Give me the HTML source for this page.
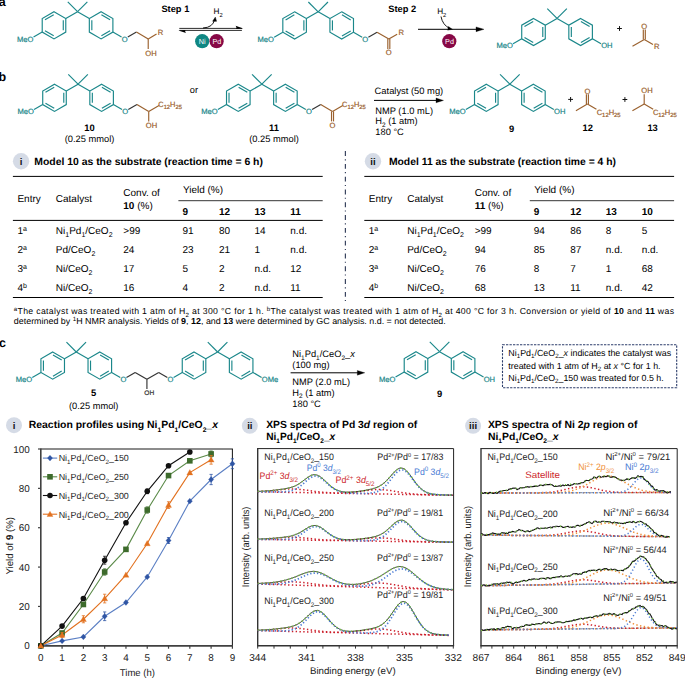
<!DOCTYPE html>
<html><head><meta charset="utf-8"><style>
html,body{margin:0;padding:0;background:#fff;}
svg{display:block;font-family:"Liberation Sans", sans-serif;text-rendering:geometricPrecision;}
</style></head><body>
<svg width="685" height="678" viewBox="0 0 685 678">
<rect width="685" height="678" fill="#fff"/>
<text transform="translate(-1.30,6.40) scale(1,1.0)" font-size="12.5" fill="#000" font-weight="bold">a</text>
<path d="M54.00,11.70 L65.78,18.50 L65.78,32.10 L54.00,38.90 L42.22,32.10 L42.22,18.50Z" stroke="#1a878a" stroke-width="1.15" fill="none" stroke-linejoin="miter"/>
<line x1="45.00" y1="19.78" x2="53.72" y2="14.75" stroke="#1a878a" stroke-width="1.15" />
<line x1="63.28" y1="20.27" x2="63.28" y2="30.33" stroke="#1a878a" stroke-width="1.15" />
<line x1="53.72" y1="35.85" x2="45.00" y2="30.82" stroke="#1a878a" stroke-width="1.15" />
<path d="M101.11,11.70 L112.89,18.50 L112.89,32.10 L101.11,38.90 L89.33,32.10 L89.33,18.50Z" stroke="#1a878a" stroke-width="1.15" fill="none" stroke-linejoin="miter"/>
<line x1="101.39" y1="14.75" x2="110.11" y2="19.78" stroke="#1a878a" stroke-width="1.15" />
<line x1="91.83" y1="30.33" x2="91.83" y2="20.27" stroke="#1a878a" stroke-width="1.15" />
<line x1="110.11" y1="30.82" x2="101.39" y2="35.85" stroke="#1a878a" stroke-width="1.15" />
<line x1="65.78" y1="18.50" x2="77.56" y2="11.70" stroke="#1a878a" stroke-width="1.15" />
<line x1="77.56" y1="11.70" x2="89.33" y2="18.50" stroke="#1a878a" stroke-width="1.15" />
<line x1="77.56" y1="11.70" x2="67.76" y2="1.91" stroke="#1a878a" stroke-width="1.15" />
<line x1="77.56" y1="11.70" x2="87.35" y2="1.91" stroke="#1a878a" stroke-width="1.15" />
<line x1="42.22" y1="32.10" x2="33.56" y2="37.10" stroke="#1a878a" stroke-width="1.15" />
<text transform="translate(33.40,41.64) scale(1,1.0)" font-size="7.6" fill="#1a878a" stroke="#1a878a" stroke-width="0.2" text-anchor="end">MeO</text>
<line x1="112.89" y1="32.10" x2="121.55" y2="37.10" stroke="#1a878a" stroke-width="1.15" />
<text transform="translate(124.67,41.64) scale(1,1.0)" font-size="7.6" fill="#1a878a" stroke="#1a878a" stroke-width="0.2" text-anchor="middle">O</text>
<line x1="127.79" y1="37.10" x2="136.45" y2="32.10" stroke="#333333" stroke-width="1.15" />
<line x1="136.45" y1="32.10" x2="148.22" y2="38.90" stroke="#9a602d" stroke-width="1.15" />
<line x1="148.22" y1="38.90" x2="156.54" y2="34.10" stroke="#9a602d" stroke-width="1.15" />
<text transform="translate(160.60,34.84) scale(1,1.0)" font-size="7.6" fill="#9a602d" stroke="#9a602d" stroke-width="0.2" text-anchor="middle">R</text>
<line x1="148.22" y1="38.90" x2="148.22" y2="48.90" stroke="#9a602d" stroke-width="1.15" />
<text transform="translate(145.27,55.54) scale(1,1.0)" font-size="7.6" fill="#9a602d" stroke="#9a602d" stroke-width="0.2">OH</text>
<path d="M294.60,11.80 L306.38,18.60 L306.38,32.20 L294.60,39.00 L282.82,32.20 L282.82,18.60Z" stroke="#1a878a" stroke-width="1.15" fill="none" stroke-linejoin="miter"/>
<line x1="285.60" y1="19.88" x2="294.32" y2="14.85" stroke="#1a878a" stroke-width="1.15" />
<line x1="303.88" y1="20.37" x2="303.88" y2="30.43" stroke="#1a878a" stroke-width="1.15" />
<line x1="294.32" y1="35.95" x2="285.60" y2="30.92" stroke="#1a878a" stroke-width="1.15" />
<path d="M341.71,11.80 L353.49,18.60 L353.49,32.20 L341.71,39.00 L329.93,32.20 L329.93,18.60Z" stroke="#1a878a" stroke-width="1.15" fill="none" stroke-linejoin="miter"/>
<line x1="341.99" y1="14.85" x2="350.71" y2="19.88" stroke="#1a878a" stroke-width="1.15" />
<line x1="332.43" y1="30.43" x2="332.43" y2="20.37" stroke="#1a878a" stroke-width="1.15" />
<line x1="350.71" y1="30.92" x2="341.99" y2="35.95" stroke="#1a878a" stroke-width="1.15" />
<line x1="306.38" y1="18.60" x2="318.16" y2="11.80" stroke="#1a878a" stroke-width="1.15" />
<line x1="318.16" y1="11.80" x2="329.93" y2="18.60" stroke="#1a878a" stroke-width="1.15" />
<line x1="318.16" y1="11.80" x2="308.36" y2="2.01" stroke="#1a878a" stroke-width="1.15" />
<line x1="318.16" y1="11.80" x2="327.95" y2="2.01" stroke="#1a878a" stroke-width="1.15" />
<line x1="282.82" y1="32.20" x2="274.16" y2="37.20" stroke="#1a878a" stroke-width="1.15" />
<text transform="translate(274.00,41.74) scale(1,1.0)" font-size="7.6" fill="#1a878a" stroke="#1a878a" stroke-width="0.2" text-anchor="end">MeO</text>
<line x1="353.49" y1="32.20" x2="362.15" y2="37.20" stroke="#1a878a" stroke-width="1.15" />
<text transform="translate(365.27,41.74) scale(1,1.0)" font-size="7.6" fill="#1a878a" stroke="#1a878a" stroke-width="0.2" text-anchor="middle">O</text>
<line x1="368.39" y1="37.20" x2="377.05" y2="32.20" stroke="#333333" stroke-width="1.15" />
<line x1="377.05" y1="32.20" x2="388.82" y2="39.00" stroke="#9a602d" stroke-width="1.15" />
<line x1="388.82" y1="39.00" x2="397.14" y2="34.20" stroke="#9a602d" stroke-width="1.15" />
<text transform="translate(401.20,34.94) scale(1,1.0)" font-size="7.6" fill="#9a602d" stroke="#9a602d" stroke-width="0.2" text-anchor="middle">R</text>
<line x1="387.82" y1="39.00" x2="387.82" y2="49.00" stroke="#9a602d" stroke-width="1.15" />
<line x1="389.82" y1="39.00" x2="389.82" y2="49.00" stroke="#9a602d" stroke-width="1.15" />
<text transform="translate(388.82,55.34) scale(1,1.0)" font-size="7.6" fill="#9a602d" stroke="#9a602d" stroke-width="0.2" text-anchor="middle">O</text>
<text transform="translate(161.40,11.80) scale(1,1.0)" font-size="9.3" fill="#000" font-weight="bold">Step 1</text>
<text transform="translate(388.30,11.80) scale(1,1.0)" font-size="9.3" fill="#000" font-weight="bold">Step 2</text>
<line x1="179.30" y1="28.40" x2="242.00" y2="28.40" stroke="#222" stroke-width="0.95" />
<path d="M243.2,28.4 L235.6,25.7 Q236.9,27.2 236.2,28.9 Z" fill="#000"/>
<line x1="179.50" y1="30.40" x2="241.90" y2="30.40" stroke="#222" stroke-width="0.95" />
<path d="M178.4,30.4 L186.0,33.1 Q184.7,31.6 185.4,29.9 Z" fill="#000"/>
<path d="M203,28 Q213,27.5 214.6,19.5" stroke="#000" stroke-width="0.9" fill="none"/>
<path d="M215.30,17.20 L212.70,21.20 L216.50,21.30Z" stroke="#000" stroke-width="0.5" fill="#000" />
<text transform="translate(213.60,14.20) scale(1,1.0)" font-size="8.2" fill="#000">H<tspan dy="2.46" font-size="5.74">2</tspan></text>
<circle cx="202.20" cy="41.20" r="7.10" fill="#0f8783" stroke="none" stroke-width="1" />
<circle cx="216.60" cy="41.20" r="7.10" fill="#870846" stroke="none" stroke-width="1" />
<text transform="translate(202.20,43.80) scale(1,1.0)" font-size="7.2" fill="#fff" text-anchor="middle">Ni</text>
<text transform="translate(216.80,43.80) scale(1,1.0)" font-size="7.2" fill="#fff" text-anchor="middle">Pd</text>
<line x1="418.00" y1="29.30" x2="477.00" y2="29.30" stroke="#000" stroke-width="1.0" />
<path d="M484.00,29.30 L476.00,26.90 L476.00,31.70Z" stroke="#000" stroke-width="0.3" fill="#000" />
<path d="M441,16.5 Q442.5,25 450,28.6" stroke="#000" stroke-width="0.9" fill="none"/>
<path d="M452.50,29.30 L448.30,26.40 L447.70,30.20Z" stroke="#000" stroke-width="0.3" fill="#000" />
<text transform="translate(437.20,14.20) scale(1,1.0)" font-size="8.2" fill="#000">H<tspan dy="2.46" font-size="5.74">2</tspan></text>
<circle cx="449.30" cy="41.20" r="7.10" fill="#870846" stroke="none" stroke-width="1" />
<text transform="translate(449.50,43.80) scale(1,1.0)" font-size="7.2" fill="#fff" text-anchor="middle">Pd</text>
<path d="M533.50,18.40 L545.28,25.20 L545.28,38.80 L533.50,45.60 L521.72,38.80 L521.72,25.20Z" stroke="#1a878a" stroke-width="1.15" fill="none" stroke-linejoin="miter"/>
<line x1="524.50" y1="26.48" x2="533.22" y2="21.45" stroke="#1a878a" stroke-width="1.15" />
<line x1="542.78" y1="26.97" x2="542.78" y2="37.03" stroke="#1a878a" stroke-width="1.15" />
<line x1="533.22" y1="42.55" x2="524.50" y2="37.52" stroke="#1a878a" stroke-width="1.15" />
<path d="M580.61,18.40 L592.39,25.20 L592.39,38.80 L580.61,45.60 L568.83,38.80 L568.83,25.20Z" stroke="#1a878a" stroke-width="1.15" fill="none" stroke-linejoin="miter"/>
<line x1="580.89" y1="21.45" x2="589.61" y2="26.48" stroke="#1a878a" stroke-width="1.15" />
<line x1="571.33" y1="37.03" x2="571.33" y2="26.97" stroke="#1a878a" stroke-width="1.15" />
<line x1="589.61" y1="37.52" x2="580.89" y2="42.55" stroke="#1a878a" stroke-width="1.15" />
<line x1="545.28" y1="25.20" x2="557.06" y2="18.40" stroke="#1a878a" stroke-width="1.15" />
<line x1="557.06" y1="18.40" x2="568.83" y2="25.20" stroke="#1a878a" stroke-width="1.15" />
<line x1="557.06" y1="18.40" x2="547.26" y2="8.61" stroke="#1a878a" stroke-width="1.15" />
<line x1="557.06" y1="18.40" x2="566.85" y2="8.61" stroke="#1a878a" stroke-width="1.15" />
<line x1="521.72" y1="38.80" x2="513.06" y2="43.80" stroke="#1a878a" stroke-width="1.15" />
<text transform="translate(512.90,48.34) scale(1,1.0)" font-size="7.6" fill="#1a878a" stroke="#1a878a" stroke-width="0.2" text-anchor="end">MeO</text>
<line x1="592.39" y1="38.80" x2="601.05" y2="43.80" stroke="#1a878a" stroke-width="1.15" />
<text transform="translate(601.21,48.34) scale(1,1.0)" font-size="7.6" fill="#1a878a" stroke="#1a878a" stroke-width="0.2">OH</text>
<line x1="617.10" y1="28.50" x2="621.90" y2="28.50" stroke="#111" stroke-width="1.0" />
<line x1="619.50" y1="26.10" x2="619.50" y2="30.90" stroke="#111" stroke-width="1.0" />
<line x1="632.50" y1="46.20" x2="644.30" y2="39.40" stroke="#9a602d" stroke-width="1.15" />
<line x1="644.30" y1="39.40" x2="652.98" y2="44.40" stroke="#9a602d" stroke-width="1.15" />
<line x1="643.30" y1="39.40" x2="643.30" y2="29.40" stroke="#9a602d" stroke-width="1.15" />
<line x1="645.30" y1="39.40" x2="645.30" y2="29.40" stroke="#9a602d" stroke-width="1.15" />
<text transform="translate(644.30,28.54) scale(1,1.0)" font-size="7.6" fill="#9a602d" stroke="#9a602d" stroke-width="0.2" text-anchor="middle">O</text>
<text transform="translate(656.80,49.14) scale(1,1.0)" font-size="7.6" fill="#9a602d" stroke="#9a602d" stroke-width="0.2" text-anchor="middle">R</text>
<text transform="translate(-1.50,80.70) scale(1,1.0)" font-size="12.5" fill="#000" font-weight="bold">b</text>
<path d="M54.50,84.20 L66.28,91.00 L66.28,104.60 L54.50,111.40 L42.72,104.60 L42.72,91.00Z" stroke="#1a878a" stroke-width="1.15" fill="none" stroke-linejoin="miter"/>
<line x1="45.50" y1="92.28" x2="54.22" y2="87.25" stroke="#1a878a" stroke-width="1.15" />
<line x1="63.78" y1="92.77" x2="63.78" y2="102.83" stroke="#1a878a" stroke-width="1.15" />
<line x1="54.22" y1="108.35" x2="45.50" y2="103.32" stroke="#1a878a" stroke-width="1.15" />
<path d="M101.61,84.20 L113.39,91.00 L113.39,104.60 L101.61,111.40 L89.83,104.60 L89.83,91.00Z" stroke="#1a878a" stroke-width="1.15" fill="none" stroke-linejoin="miter"/>
<line x1="101.89" y1="87.25" x2="110.61" y2="92.28" stroke="#1a878a" stroke-width="1.15" />
<line x1="92.33" y1="102.83" x2="92.33" y2="92.77" stroke="#1a878a" stroke-width="1.15" />
<line x1="110.61" y1="103.32" x2="101.89" y2="108.35" stroke="#1a878a" stroke-width="1.15" />
<line x1="66.28" y1="91.00" x2="78.06" y2="84.20" stroke="#1a878a" stroke-width="1.15" />
<line x1="78.06" y1="84.20" x2="89.83" y2="91.00" stroke="#1a878a" stroke-width="1.15" />
<line x1="78.06" y1="84.20" x2="68.26" y2="74.41" stroke="#1a878a" stroke-width="1.15" />
<line x1="78.06" y1="84.20" x2="87.85" y2="74.41" stroke="#1a878a" stroke-width="1.15" />
<line x1="42.72" y1="104.60" x2="34.06" y2="109.60" stroke="#1a878a" stroke-width="1.15" />
<text transform="translate(33.90,114.14) scale(1,1.0)" font-size="7.6" fill="#1a878a" stroke="#1a878a" stroke-width="0.2" text-anchor="end">MeO</text>
<line x1="113.39" y1="104.60" x2="122.05" y2="109.60" stroke="#1a878a" stroke-width="1.15" />
<text transform="translate(125.17,114.14) scale(1,1.0)" font-size="7.6" fill="#1a878a" stroke="#1a878a" stroke-width="0.2" text-anchor="middle">O</text>
<line x1="128.29" y1="109.60" x2="136.95" y2="104.60" stroke="#333333" stroke-width="1.15" />
<line x1="136.95" y1="104.60" x2="148.72" y2="111.40" stroke="#9a602d" stroke-width="1.15" />
<line x1="148.72" y1="111.40" x2="159.00" y2="105.50" stroke="#9a602d" stroke-width="1.15" />
<text transform="translate(158.30,107.20) scale(1,1.0)" font-size="7.6" fill="#9a602d" stroke="#9a602d" stroke-width="0.2" textLength="23.60" lengthAdjust="spacingAndGlyphs">C<tspan dy="1.90" font-size="5.93">12</tspan><tspan dy="-1.90">H</tspan><tspan dy="1.90" font-size="5.93">25</tspan></text>
<line x1="148.72" y1="111.40" x2="148.72" y2="121.40" stroke="#9a602d" stroke-width="1.15" />
<text transform="translate(145.77,128.04) scale(1,1.0)" font-size="7.6" fill="#9a602d" stroke="#9a602d" stroke-width="0.2">OH</text>
<text transform="translate(194.00,93.20) scale(1,1.0)" font-size="9.3" fill="#000" text-anchor="middle">or</text>
<path d="M238.30,84.20 L250.08,91.00 L250.08,104.60 L238.30,111.40 L226.52,104.60 L226.52,91.00Z" stroke="#1a878a" stroke-width="1.15" fill="none" stroke-linejoin="miter"/>
<line x1="238.58" y1="87.25" x2="247.30" y2="92.28" stroke="#1a878a" stroke-width="1.15" />
<line x1="229.02" y1="102.83" x2="229.02" y2="92.77" stroke="#1a878a" stroke-width="1.15" />
<line x1="247.30" y1="103.32" x2="238.58" y2="108.35" stroke="#1a878a" stroke-width="1.15" />
<path d="M285.41,84.20 L297.19,91.00 L297.19,104.60 L285.41,111.40 L273.63,104.60 L273.63,91.00Z" stroke="#1a878a" stroke-width="1.15" fill="none" stroke-linejoin="miter"/>
<line x1="285.69" y1="87.25" x2="294.41" y2="92.28" stroke="#1a878a" stroke-width="1.15" />
<line x1="276.13" y1="102.83" x2="276.13" y2="92.77" stroke="#1a878a" stroke-width="1.15" />
<line x1="294.41" y1="103.32" x2="285.69" y2="108.35" stroke="#1a878a" stroke-width="1.15" />
<line x1="250.08" y1="91.00" x2="261.86" y2="84.20" stroke="#1a878a" stroke-width="1.15" />
<line x1="261.86" y1="84.20" x2="273.63" y2="91.00" stroke="#1a878a" stroke-width="1.15" />
<line x1="261.86" y1="84.20" x2="252.06" y2="74.41" stroke="#1a878a" stroke-width="1.15" />
<line x1="261.86" y1="84.20" x2="271.65" y2="74.41" stroke="#1a878a" stroke-width="1.15" />
<line x1="226.52" y1="104.60" x2="217.86" y2="109.60" stroke="#1a878a" stroke-width="1.15" />
<text transform="translate(217.70,114.14) scale(1,1.0)" font-size="7.6" fill="#1a878a" stroke="#1a878a" stroke-width="0.2" text-anchor="end">MeO</text>
<line x1="297.19" y1="104.60" x2="305.85" y2="109.60" stroke="#1a878a" stroke-width="1.15" />
<text transform="translate(308.97,114.14) scale(1,1.0)" font-size="7.6" fill="#1a878a" stroke="#1a878a" stroke-width="0.2" text-anchor="middle">O</text>
<line x1="312.09" y1="109.60" x2="320.75" y2="104.60" stroke="#333333" stroke-width="1.15" />
<line x1="320.75" y1="104.60" x2="332.52" y2="111.40" stroke="#9a602d" stroke-width="1.15" />
<line x1="332.52" y1="111.40" x2="342.80" y2="105.50" stroke="#9a602d" stroke-width="1.15" />
<text transform="translate(342.10,107.20) scale(1,1.0)" font-size="7.6" fill="#9a602d" stroke="#9a602d" stroke-width="0.2" textLength="23.60" lengthAdjust="spacingAndGlyphs">C<tspan dy="1.90" font-size="5.93">12</tspan><tspan dy="-1.90">H</tspan><tspan dy="1.90" font-size="5.93">25</tspan></text>
<line x1="331.52" y1="111.40" x2="331.52" y2="121.40" stroke="#9a602d" stroke-width="1.15" />
<line x1="333.52" y1="111.40" x2="333.52" y2="121.40" stroke="#9a602d" stroke-width="1.15" />
<text transform="translate(332.52,127.74) scale(1,1.0)" font-size="7.6" fill="#9a602d" stroke="#9a602d" stroke-width="0.2" text-anchor="middle">O</text>
<text transform="translate(89.50,130.80) scale(1,1.0)" font-size="9.4" fill="#000" font-weight="bold" text-anchor="middle">10</text>
<text transform="translate(89.50,141.90) scale(1,1.0)" font-size="9.3" fill="#000" text-anchor="middle" textLength="49.70" lengthAdjust="spacingAndGlyphs">(0.25 mmol)</text>
<text transform="translate(274.00,130.80) scale(1,1.0)" font-size="9.4" fill="#000" font-weight="bold" text-anchor="middle">11</text>
<text transform="translate(274.00,141.90) scale(1,1.0)" font-size="9.3" fill="#000" text-anchor="middle" textLength="49.70" lengthAdjust="spacingAndGlyphs">(0.25 mmol)</text>
<text transform="translate(374.60,93.90) scale(1,1.0)" font-size="9.3" fill="#000" textLength="68.60" lengthAdjust="spacingAndGlyphs">Catalyst (50 mg)</text>
<line x1="374.00" y1="100.40" x2="437.00" y2="100.40" stroke="#000" stroke-width="1.0" />
<path d="M443.50,100.40 L436.00,98.00 L436.00,102.80Z" stroke="#000" stroke-width="0.3" fill="#000" />
<text transform="translate(375.30,113.90) scale(1,1.0)" font-size="9.3" fill="#000" textLength="57.70" lengthAdjust="spacingAndGlyphs">NMP (1.0 mL)</text>
<text transform="translate(375.30,124.40) scale(1,1.0)" font-size="9.3" fill="#000">H<tspan dy="2.42" font-size="6.51">2</tspan><tspan dy="-2.42"> (1 atm)</tspan></text>
<text transform="translate(375.30,134.60) scale(1,1.0)" font-size="9.3" fill="#000">180 °C</text>
<path d="M486.30,84.20 L498.08,91.00 L498.08,104.60 L486.30,111.40 L474.52,104.60 L474.52,91.00Z" stroke="#1a878a" stroke-width="1.15" fill="none" stroke-linejoin="miter"/>
<line x1="477.30" y1="92.28" x2="486.02" y2="87.25" stroke="#1a878a" stroke-width="1.15" />
<line x1="495.58" y1="92.77" x2="495.58" y2="102.83" stroke="#1a878a" stroke-width="1.15" />
<line x1="486.02" y1="108.35" x2="477.30" y2="103.32" stroke="#1a878a" stroke-width="1.15" />
<path d="M533.41,84.20 L545.19,91.00 L545.19,104.60 L533.41,111.40 L521.63,104.60 L521.63,91.00Z" stroke="#1a878a" stroke-width="1.15" fill="none" stroke-linejoin="miter"/>
<line x1="533.69" y1="87.25" x2="542.41" y2="92.28" stroke="#1a878a" stroke-width="1.15" />
<line x1="524.13" y1="102.83" x2="524.13" y2="92.77" stroke="#1a878a" stroke-width="1.15" />
<line x1="542.41" y1="103.32" x2="533.69" y2="108.35" stroke="#1a878a" stroke-width="1.15" />
<line x1="498.08" y1="91.00" x2="509.86" y2="84.20" stroke="#1a878a" stroke-width="1.15" />
<line x1="509.86" y1="84.20" x2="521.63" y2="91.00" stroke="#1a878a" stroke-width="1.15" />
<line x1="509.86" y1="84.20" x2="500.06" y2="74.41" stroke="#1a878a" stroke-width="1.15" />
<line x1="509.86" y1="84.20" x2="519.65" y2="74.41" stroke="#1a878a" stroke-width="1.15" />
<line x1="474.52" y1="104.60" x2="465.86" y2="109.60" stroke="#1a878a" stroke-width="1.15" />
<text transform="translate(465.70,114.14) scale(1,1.0)" font-size="7.6" fill="#1a878a" stroke="#1a878a" stroke-width="0.2" text-anchor="end">MeO</text>
<line x1="545.19" y1="104.60" x2="553.85" y2="109.60" stroke="#1a878a" stroke-width="1.15" />
<text transform="translate(554.01,114.14) scale(1,1.0)" font-size="7.6" fill="#1a878a" stroke="#1a878a" stroke-width="0.2">OH</text>
<text transform="translate(511.70,131.50) scale(1,1.0)" font-size="9.4" fill="#000" font-weight="bold" text-anchor="middle">9</text>
<line x1="568.20" y1="99.40" x2="573.00" y2="99.40" stroke="#111" stroke-width="1.0" />
<line x1="570.60" y1="97.00" x2="570.60" y2="101.80" stroke="#111" stroke-width="1.0" />
<line x1="622.50" y1="99.50" x2="627.30" y2="99.50" stroke="#111" stroke-width="1.0" />
<line x1="624.90" y1="97.10" x2="624.90" y2="101.90" stroke="#111" stroke-width="1.0" />
<line x1="575.90" y1="110.70" x2="587.40" y2="104.00" stroke="#9a602d" stroke-width="1.15" />
<line x1="587.40" y1="104.00" x2="596.40" y2="109.30" stroke="#9a602d" stroke-width="1.15" />
<line x1="586.40" y1="104.00" x2="586.40" y2="94.20" stroke="#9a602d" stroke-width="1.15" />
<line x1="588.40" y1="104.00" x2="588.40" y2="94.20" stroke="#9a602d" stroke-width="1.15" />
<text transform="translate(587.40,93.54) scale(1,1.0)" font-size="7.6" fill="#9a602d" stroke="#9a602d" stroke-width="0.2" text-anchor="middle">O</text>
<text transform="translate(596.70,114.60) scale(1,1.0)" font-size="7.6" fill="#9a602d" stroke="#9a602d" stroke-width="0.2" textLength="23.90" lengthAdjust="spacingAndGlyphs">C<tspan dy="1.90" font-size="5.93">12</tspan><tspan dy="-1.90">H</tspan><tspan dy="1.90" font-size="5.93">25</tspan></text>
<text transform="translate(587.80,131.30) scale(1,1.0)" font-size="9.4" fill="#000" font-weight="bold" text-anchor="middle">12</text>
<line x1="632.40" y1="110.70" x2="644.20" y2="104.00" stroke="#9a602d" stroke-width="1.15" />
<line x1="644.20" y1="104.00" x2="653.20" y2="109.30" stroke="#9a602d" stroke-width="1.15" />
<line x1="644.20" y1="104.00" x2="644.20" y2="94.20" stroke="#9a602d" stroke-width="1.15" />
<text transform="translate(641.24,93.34) scale(1,1.0)" font-size="7.6" fill="#9a602d" stroke="#9a602d" stroke-width="0.2">OH</text>
<text transform="translate(652.90,114.60) scale(1,1.0)" font-size="7.6" fill="#9a602d" stroke="#9a602d" stroke-width="0.2" textLength="23.90" lengthAdjust="spacingAndGlyphs">C<tspan dy="1.90" font-size="5.93">12</tspan><tspan dy="-1.90">H</tspan><tspan dy="1.90" font-size="5.93">25</tspan></text>
<text transform="translate(652.60,131.30) scale(1,1.0)" font-size="9.4" fill="#000" font-weight="bold" text-anchor="middle">13</text>
<circle cx="21.10" cy="161.30" r="8.20" fill="#d5dbe6" stroke="none" stroke-width="1" />
<text transform="translate(21.10,164.70) scale(1,1.0)" font-size="9.6" fill="#111" font-weight="bold" text-anchor="middle">i</text>
<text transform="translate(34.30,164.80) scale(1,1.0)" font-size="10.4" fill="#000" font-weight="bold" textLength="228.60" lengthAdjust="spacingAndGlyphs">Model 10 as the substrate (reaction time = 6 h)</text>
<line x1="12.90" y1="176.40" x2="322.70" y2="176.40" stroke="#000" stroke-width="1.0" />
<line x1="178.40" y1="200.70" x2="322.70" y2="200.70" stroke="#000" stroke-width="0.8" />
<line x1="12.90" y1="220.40" x2="322.70" y2="220.40" stroke="#000" stroke-width="1.0" />
<line x1="12.90" y1="297.50" x2="322.70" y2="297.50" stroke="#000" stroke-width="1.0" />
<text transform="translate(17.40,202.30) scale(1,1.0)" font-size="10.0" fill="#000">Entry</text>
<text transform="translate(55.80,202.30) scale(1,1.0)" font-size="10.0" fill="#000">Catalyst</text>
<text transform="translate(123.30,196.10) scale(1,1.0)" font-size="10.0" fill="#000">Conv. of</text>
<text transform="translate(123.30,208.50) scale(1,1.0)" font-size="10.0" fill="#000"><tspan font-weight="bold">10</tspan> (%)</text>
<text transform="translate(182.90,192.90) scale(1,1.0)" font-size="10.0" fill="#000">Yield (%)</text>
<text transform="translate(182.40,214.70) scale(1,1.0)" font-size="10.0" fill="#000" font-weight="bold">9</text>
<text transform="translate(218.90,214.70) scale(1,1.0)" font-size="10.0" fill="#000" font-weight="bold">12</text>
<text transform="translate(254.40,214.70) scale(1,1.0)" font-size="10.0" fill="#000" font-weight="bold">13</text>
<text transform="translate(290.30,214.70) scale(1,1.0)" font-size="10.0" fill="#000" font-weight="bold">11</text>
<text transform="translate(17.40,234.20) scale(1,1.0)" font-size="10.0" fill="#000">1<tspan dy="-3.40" font-size="7.00">a</tspan></text>
<text transform="translate(55.80,234.20) scale(1,1.0)" font-size="10.0" fill="#000">Ni<tspan dy="3.00" font-size="7.00">1</tspan><tspan dy="-3.00">Pd</tspan><tspan dy="3.00" font-size="7.00">1</tspan><tspan dy="-3.00">/CeO</tspan><tspan dy="3.00" font-size="7.00">2</tspan></text>
<text transform="translate(123.30,234.20) scale(1,1.0)" font-size="10.0" fill="#000">&gt;99</text>
<text transform="translate(182.40,234.20) scale(1,1.0)" font-size="10.0" fill="#000">91</text>
<text transform="translate(218.90,234.20) scale(1,1.0)" font-size="10.0" fill="#000">80</text>
<text transform="translate(254.40,234.20) scale(1,1.0)" font-size="10.0" fill="#000">14</text>
<text transform="translate(290.30,234.20) scale(1,1.0)" font-size="10.0" fill="#000">n.d.</text>
<text transform="translate(17.40,253.40) scale(1,1.0)" font-size="10.0" fill="#000">2<tspan dy="-3.40" font-size="7.00">a</tspan></text>
<text transform="translate(55.80,253.40) scale(1,1.0)" font-size="10.0" fill="#000">Pd/CeO<tspan dy="3.00" font-size="7.00">2</tspan></text>
<text transform="translate(123.30,253.40) scale(1,1.0)" font-size="10.0" fill="#000">24</text>
<text transform="translate(182.40,253.40) scale(1,1.0)" font-size="10.0" fill="#000">23</text>
<text transform="translate(218.90,253.40) scale(1,1.0)" font-size="10.0" fill="#000">21</text>
<text transform="translate(254.40,253.40) scale(1,1.0)" font-size="10.0" fill="#000">1</text>
<text transform="translate(290.30,253.40) scale(1,1.0)" font-size="10.0" fill="#000">n.d.</text>
<text transform="translate(17.40,272.30) scale(1,1.0)" font-size="10.0" fill="#000">3<tspan dy="-3.40" font-size="7.00">a</tspan></text>
<text transform="translate(55.80,272.30) scale(1,1.0)" font-size="10.0" fill="#000">Ni/CeO<tspan dy="3.00" font-size="7.00">2</tspan></text>
<text transform="translate(123.30,272.30) scale(1,1.0)" font-size="10.0" fill="#000">17</text>
<text transform="translate(182.40,272.30) scale(1,1.0)" font-size="10.0" fill="#000">5</text>
<text transform="translate(218.90,272.30) scale(1,1.0)" font-size="10.0" fill="#000">2</text>
<text transform="translate(254.40,272.30) scale(1,1.0)" font-size="10.0" fill="#000">n.d.</text>
<text transform="translate(290.30,272.30) scale(1,1.0)" font-size="10.0" fill="#000">12</text>
<text transform="translate(17.40,291.30) scale(1,1.0)" font-size="10.0" fill="#000">4<tspan dy="-3.40" font-size="7.00">b</tspan></text>
<text transform="translate(55.80,291.30) scale(1,1.0)" font-size="10.0" fill="#000">Ni/CeO<tspan dy="3.00" font-size="7.00">2</tspan></text>
<text transform="translate(123.30,291.30) scale(1,1.0)" font-size="10.0" fill="#000">16</text>
<text transform="translate(182.40,291.30) scale(1,1.0)" font-size="10.0" fill="#000">4</text>
<text transform="translate(218.90,291.30) scale(1,1.0)" font-size="10.0" fill="#000">2</text>
<text transform="translate(254.40,291.30) scale(1,1.0)" font-size="10.0" fill="#000">n.d.</text>
<text transform="translate(290.30,291.30) scale(1,1.0)" font-size="10.0" fill="#000">11</text>
<circle cx="373.00" cy="161.30" r="8.20" fill="#d5dbe6" stroke="none" stroke-width="1" />
<text transform="translate(373.00,164.70) scale(1,1.0)" font-size="9.6" fill="#111" font-weight="bold" text-anchor="middle">ii</text>
<text transform="translate(388.90,164.80) scale(1,1.0)" font-size="10.4" fill="#000" font-weight="bold" textLength="227.10" lengthAdjust="spacingAndGlyphs">Model 11 as the substrate (reaction time = 4 h)</text>
<line x1="364.30" y1="176.40" x2="674.10" y2="176.40" stroke="#000" stroke-width="1.0" />
<line x1="529.80" y1="200.70" x2="674.10" y2="200.70" stroke="#000" stroke-width="0.8" />
<line x1="364.30" y1="220.40" x2="674.10" y2="220.40" stroke="#000" stroke-width="1.0" />
<line x1="364.30" y1="297.50" x2="674.10" y2="297.50" stroke="#000" stroke-width="1.0" />
<text transform="translate(368.80,202.30) scale(1,1.0)" font-size="10.0" fill="#000">Entry</text>
<text transform="translate(407.20,202.30) scale(1,1.0)" font-size="10.0" fill="#000">Catalyst</text>
<text transform="translate(474.70,196.10) scale(1,1.0)" font-size="10.0" fill="#000">Conv. of</text>
<text transform="translate(474.70,208.50) scale(1,1.0)" font-size="10.0" fill="#000"><tspan font-weight="bold">11</tspan> (%)</text>
<text transform="translate(534.30,192.90) scale(1,1.0)" font-size="10.0" fill="#000">Yield (%)</text>
<text transform="translate(533.80,214.70) scale(1,1.0)" font-size="10.0" fill="#000" font-weight="bold">9</text>
<text transform="translate(570.30,214.70) scale(1,1.0)" font-size="10.0" fill="#000" font-weight="bold">12</text>
<text transform="translate(605.80,214.70) scale(1,1.0)" font-size="10.0" fill="#000" font-weight="bold">13</text>
<text transform="translate(641.70,214.70) scale(1,1.0)" font-size="10.0" fill="#000" font-weight="bold">10</text>
<text transform="translate(368.80,234.20) scale(1,1.0)" font-size="10.0" fill="#000">1<tspan dy="-3.40" font-size="7.00">a</tspan></text>
<text transform="translate(407.20,234.20) scale(1,1.0)" font-size="10.0" fill="#000">Ni<tspan dy="3.00" font-size="7.00">1</tspan><tspan dy="-3.00">Pd</tspan><tspan dy="3.00" font-size="7.00">1</tspan><tspan dy="-3.00">/CeO</tspan><tspan dy="3.00" font-size="7.00">2</tspan></text>
<text transform="translate(474.70,234.20) scale(1,1.0)" font-size="10.0" fill="#000">&gt;99</text>
<text transform="translate(533.80,234.20) scale(1,1.0)" font-size="10.0" fill="#000">94</text>
<text transform="translate(570.30,234.20) scale(1,1.0)" font-size="10.0" fill="#000">86</text>
<text transform="translate(605.80,234.20) scale(1,1.0)" font-size="10.0" fill="#000">8</text>
<text transform="translate(641.70,234.20) scale(1,1.0)" font-size="10.0" fill="#000">5</text>
<text transform="translate(368.80,253.40) scale(1,1.0)" font-size="10.0" fill="#000">2<tspan dy="-3.40" font-size="7.00">a</tspan></text>
<text transform="translate(407.20,253.40) scale(1,1.0)" font-size="10.0" fill="#000">Pd/CeO<tspan dy="3.00" font-size="7.00">2</tspan></text>
<text transform="translate(474.70,253.40) scale(1,1.0)" font-size="10.0" fill="#000">94</text>
<text transform="translate(533.80,253.40) scale(1,1.0)" font-size="10.0" fill="#000">85</text>
<text transform="translate(570.30,253.40) scale(1,1.0)" font-size="10.0" fill="#000">87</text>
<text transform="translate(605.80,253.40) scale(1,1.0)" font-size="10.0" fill="#000">n.d.</text>
<text transform="translate(641.70,253.40) scale(1,1.0)" font-size="10.0" fill="#000">n.d.</text>
<text transform="translate(368.80,272.30) scale(1,1.0)" font-size="10.0" fill="#000">3<tspan dy="-3.40" font-size="7.00">a</tspan></text>
<text transform="translate(407.20,272.30) scale(1,1.0)" font-size="10.0" fill="#000">Ni/CeO<tspan dy="3.00" font-size="7.00">2</tspan></text>
<text transform="translate(474.70,272.30) scale(1,1.0)" font-size="10.0" fill="#000">76</text>
<text transform="translate(533.80,272.30) scale(1,1.0)" font-size="10.0" fill="#000">8</text>
<text transform="translate(570.30,272.30) scale(1,1.0)" font-size="10.0" fill="#000">7</text>
<text transform="translate(605.80,272.30) scale(1,1.0)" font-size="10.0" fill="#000">1</text>
<text transform="translate(641.70,272.30) scale(1,1.0)" font-size="10.0" fill="#000">68</text>
<text transform="translate(368.80,291.30) scale(1,1.0)" font-size="10.0" fill="#000">4<tspan dy="-3.40" font-size="7.00">b</tspan></text>
<text transform="translate(407.20,291.30) scale(1,1.0)" font-size="10.0" fill="#000">Ni/CeO<tspan dy="3.00" font-size="7.00">2</tspan></text>
<text transform="translate(474.70,291.30) scale(1,1.0)" font-size="10.0" fill="#000">68</text>
<text transform="translate(533.80,291.30) scale(1,1.0)" font-size="10.0" fill="#000">13</text>
<text transform="translate(570.30,291.30) scale(1,1.0)" font-size="10.0" fill="#000">11</text>
<text transform="translate(605.80,291.30) scale(1,1.0)" font-size="10.0" fill="#000">n.d.</text>
<text transform="translate(641.70,291.30) scale(1,1.0)" font-size="10.0" fill="#000">42</text>
<line x1="345.40" y1="151.10" x2="345.40" y2="301.00" stroke="#3a4560" stroke-width="1.2" stroke-dasharray="4.9,3.3,1.1,3.5"/>
<text transform="translate(13.80,314.00) scale(1,1.0)" font-size="8.7" fill="#000" textLength="660.20" lengthAdjust="spacing"><tspan dy="-3.31" font-size="6.09">a</tspan><tspan dy="3.31">The catalyst was treated with 1 atm of H</tspan><tspan dy="2.61" font-size="6.09">2</tspan><tspan dy="-2.61"> at 300 °C for 1 h. </tspan><tspan dy="-3.31" font-size="6.09">b</tspan><tspan dy="3.31">The catalyst was treated with 1 atm of H</tspan><tspan dy="2.61" font-size="6.09">2</tspan><tspan dy="-2.61"> at 400 °C for 3 h. Conversion or yield of </tspan><tspan font-weight="bold">10</tspan> and <tspan font-weight="bold">11</tspan> was</text>
<text transform="translate(13.80,324.00) scale(1,1.0)" font-size="8.7" fill="#000" textLength="432.00" lengthAdjust="spacingAndGlyphs">determined by <tspan dy="-3.31" font-size="6.09">1</tspan><tspan dy="3.31">H NMR analysis. Yields of </tspan><tspan font-weight="bold">9</tspan>, <tspan font-weight="bold">12</tspan>, and <tspan font-weight="bold">13</tspan> were determined by GC analysis. n.d. = not detected.</text>
<text transform="translate(-1.00,346.60) scale(1,1.0)" font-size="12.5" fill="#000" font-weight="bold">c</text>
<path d="M52.70,352.00 L64.48,358.80 L64.48,372.40 L52.70,379.20 L40.92,372.40 L40.92,358.80Z" stroke="#1a878a" stroke-width="1.15" fill="none" stroke-linejoin="miter"/>
<line x1="52.98" y1="355.05" x2="61.70" y2="360.08" stroke="#1a878a" stroke-width="1.15" />
<line x1="43.42" y1="370.63" x2="43.42" y2="360.57" stroke="#1a878a" stroke-width="1.15" />
<line x1="61.70" y1="371.12" x2="52.98" y2="376.15" stroke="#1a878a" stroke-width="1.15" />
<path d="M99.81,352.00 L111.59,358.80 L111.59,372.40 L99.81,379.20 L88.03,372.40 L88.03,358.80Z" stroke="#1a878a" stroke-width="1.15" fill="none" stroke-linejoin="miter"/>
<line x1="100.09" y1="355.05" x2="108.81" y2="360.08" stroke="#1a878a" stroke-width="1.15" />
<line x1="90.53" y1="370.63" x2="90.53" y2="360.57" stroke="#1a878a" stroke-width="1.15" />
<line x1="108.81" y1="371.12" x2="100.09" y2="376.15" stroke="#1a878a" stroke-width="1.15" />
<line x1="64.48" y1="358.80" x2="76.26" y2="352.00" stroke="#1a878a" stroke-width="1.15" />
<line x1="76.26" y1="352.00" x2="88.03" y2="358.80" stroke="#1a878a" stroke-width="1.15" />
<line x1="76.26" y1="352.00" x2="66.46" y2="342.21" stroke="#1a878a" stroke-width="1.15" />
<line x1="76.26" y1="352.00" x2="86.05" y2="342.21" stroke="#1a878a" stroke-width="1.15" />
<line x1="40.92" y1="372.40" x2="32.26" y2="377.40" stroke="#1a878a" stroke-width="1.15" />
<text transform="translate(32.10,381.94) scale(1,1.0)" font-size="7.6" fill="#1a878a" stroke="#1a878a" stroke-width="0.2" text-anchor="end">MeO</text>
<line x1="111.59" y1="372.40" x2="120.25" y2="377.40" stroke="#1a878a" stroke-width="1.15" />
<text transform="translate(123.37,381.94) scale(1,1.0)" font-size="7.6" fill="#1a878a" stroke="#1a878a" stroke-width="0.2" text-anchor="middle">O</text>
<line x1="126.49" y1="377.40" x2="135.15" y2="372.40" stroke="#333333" stroke-width="1.15" />
<line x1="135.15" y1="372.40" x2="146.92" y2="379.20" stroke="#333333" stroke-width="1.15" />
<line x1="146.92" y1="379.20" x2="158.70" y2="372.40" stroke="#333333" stroke-width="1.15" />
<line x1="158.70" y1="372.40" x2="167.36" y2="377.40" stroke="#333333" stroke-width="1.15" />
<line x1="146.92" y1="379.20" x2="146.92" y2="389.00" stroke="#333333" stroke-width="1.15" />
<text transform="translate(144.36,395.18) scale(1,1.0)" font-size="6.6" fill="#333333" stroke="#333333" stroke-width="0.2">OH</text>
<text transform="translate(170.48,381.94) scale(1,1.0)" font-size="7.6" fill="#1a878a" stroke="#1a878a" stroke-width="0.2" text-anchor="middle">O</text>
<path d="M194.04,352.00 L205.81,358.80 L205.81,372.40 L194.04,379.20 L182.26,372.40 L182.26,358.80Z" stroke="#1a878a" stroke-width="1.15" fill="none" stroke-linejoin="miter"/>
<line x1="185.04" y1="360.08" x2="193.75" y2="355.05" stroke="#1a878a" stroke-width="1.15" />
<line x1="203.31" y1="360.57" x2="203.31" y2="370.63" stroke="#1a878a" stroke-width="1.15" />
<line x1="193.75" y1="376.15" x2="185.04" y2="371.12" stroke="#1a878a" stroke-width="1.15" />
<path d="M241.15,352.00 L252.93,358.80 L252.93,372.40 L241.15,379.20 L229.37,372.40 L229.37,358.80Z" stroke="#1a878a" stroke-width="1.15" fill="none" stroke-linejoin="miter"/>
<line x1="241.43" y1="355.05" x2="250.14" y2="360.08" stroke="#1a878a" stroke-width="1.15" />
<line x1="231.87" y1="370.63" x2="231.87" y2="360.57" stroke="#1a878a" stroke-width="1.15" />
<line x1="250.14" y1="371.12" x2="241.43" y2="376.15" stroke="#1a878a" stroke-width="1.15" />
<line x1="205.81" y1="358.80" x2="217.59" y2="352.00" stroke="#1a878a" stroke-width="1.15" />
<line x1="217.59" y1="352.00" x2="229.37" y2="358.80" stroke="#1a878a" stroke-width="1.15" />
<line x1="217.59" y1="352.00" x2="207.80" y2="342.21" stroke="#1a878a" stroke-width="1.15" />
<line x1="217.59" y1="352.00" x2="227.38" y2="342.21" stroke="#1a878a" stroke-width="1.15" />
<line x1="182.26" y1="372.40" x2="173.60" y2="377.40" stroke="#1a878a" stroke-width="1.15" />
<line x1="252.93" y1="372.40" x2="261.59" y2="377.40" stroke="#1a878a" stroke-width="1.15" />
<text transform="translate(261.75,381.94) scale(1,1.0)" font-size="7.6" fill="#1a878a" stroke="#1a878a" stroke-width="0.2">OMe</text>
<text transform="translate(93.60,396.30) scale(1,1.0)" font-size="9.4" fill="#000" font-weight="bold" text-anchor="middle">5</text>
<text transform="translate(93.70,408.60) scale(1,1.0)" font-size="9.3" fill="#000" text-anchor="middle" textLength="49.50" lengthAdjust="spacingAndGlyphs">(0.25 mmol)</text>
<text transform="translate(292.30,357.10) scale(1,1.0)" font-size="9.3" fill="#000">Ni<tspan dy="2.79" font-size="6.51">1</tspan><tspan dy="-2.79">Pd</tspan><tspan dy="2.79" font-size="6.51">1</tspan><tspan dy="-2.79">/CeO</tspan><tspan dy="2.79" font-size="6.51">2</tspan><tspan dy="-2.79">_</tspan><tspan font-style="italic">x</tspan></text>
<text transform="translate(292.30,367.70) scale(1,1.0)" font-size="9.3" fill="#000">(100 mg)</text>
<line x1="290.60" y1="372.80" x2="358.00" y2="372.80" stroke="#000" stroke-width="1.0" />
<path d="M364.80,372.80 L357.30,370.40 L357.30,375.20Z" stroke="#000" stroke-width="0.3" fill="#000" />
<text transform="translate(292.30,385.10) scale(1,1.0)" font-size="9.3" fill="#000">NMP (2.0 mL)</text>
<text transform="translate(292.30,395.70) scale(1,1.0)" font-size="9.3" fill="#000">H<tspan dy="2.79" font-size="6.51">2</tspan><tspan dy="-2.79"> (1 atm)</tspan></text>
<text transform="translate(292.30,406.50) scale(1,1.0)" font-size="9.3" fill="#000">180 °C</text>
<path d="M416.00,351.70 L427.78,358.50 L427.78,372.10 L416.00,378.90 L404.22,372.10 L404.22,358.50Z" stroke="#1a878a" stroke-width="1.15" fill="none" stroke-linejoin="miter"/>
<line x1="407.00" y1="359.78" x2="415.72" y2="354.75" stroke="#1a878a" stroke-width="1.15" />
<line x1="425.28" y1="360.27" x2="425.28" y2="370.33" stroke="#1a878a" stroke-width="1.15" />
<line x1="415.72" y1="375.85" x2="407.00" y2="370.82" stroke="#1a878a" stroke-width="1.15" />
<path d="M463.11,351.70 L474.89,358.50 L474.89,372.10 L463.11,378.90 L451.33,372.10 L451.33,358.50Z" stroke="#1a878a" stroke-width="1.15" fill="none" stroke-linejoin="miter"/>
<line x1="463.39" y1="354.75" x2="472.11" y2="359.78" stroke="#1a878a" stroke-width="1.15" />
<line x1="453.83" y1="370.33" x2="453.83" y2="360.27" stroke="#1a878a" stroke-width="1.15" />
<line x1="472.11" y1="370.82" x2="463.39" y2="375.85" stroke="#1a878a" stroke-width="1.15" />
<line x1="427.78" y1="358.50" x2="439.56" y2="351.70" stroke="#1a878a" stroke-width="1.15" />
<line x1="439.56" y1="351.70" x2="451.33" y2="358.50" stroke="#1a878a" stroke-width="1.15" />
<line x1="439.56" y1="351.70" x2="429.76" y2="341.91" stroke="#1a878a" stroke-width="1.15" />
<line x1="439.56" y1="351.70" x2="449.35" y2="341.91" stroke="#1a878a" stroke-width="1.15" />
<line x1="404.22" y1="372.10" x2="395.56" y2="377.10" stroke="#1a878a" stroke-width="1.15" />
<text transform="translate(395.40,381.64) scale(1,1.0)" font-size="7.6" fill="#1a878a" stroke="#1a878a" stroke-width="0.2" text-anchor="end">MeO</text>
<line x1="474.89" y1="372.10" x2="483.55" y2="377.10" stroke="#1a878a" stroke-width="1.15" />
<text transform="translate(483.71,381.64) scale(1,1.0)" font-size="7.6" fill="#1a878a" stroke="#1a878a" stroke-width="0.2">OH</text>
<text transform="translate(439.50,397.30) scale(1,1.0)" font-size="9.4" fill="#000" font-weight="bold" text-anchor="middle">9</text>
<rect x="502.5" y="344.7" width="174.2" height="43" fill="none" stroke="#2c3d6b" stroke-width="1.1" stroke-dasharray="2.3,1.2"/>
<text transform="translate(508.30,356.40) scale(1,1.0)" font-size="8.9" fill="#000" textLength="162.80" lengthAdjust="spacingAndGlyphs">Ni<tspan dy="1.96" font-size="6.23">1</tspan><tspan dy="-1.96">Pd</tspan><tspan dy="1.96" font-size="6.23">1</tspan><tspan dy="-1.96">/CeO</tspan><tspan dy="1.96" font-size="6.23">2</tspan><tspan dy="-1.96">_</tspan><tspan font-style="italic">x</tspan> indicates the catalyst was</text>
<text transform="translate(508.30,368.80) scale(1,1.0)" font-size="8.9" fill="#000" textLength="152.30" lengthAdjust="spacingAndGlyphs">treated with 1 atm of H<tspan dy="1.96" font-size="6.23">2</tspan><tspan dy="-1.96"> at </tspan><tspan font-style="italic">x</tspan> °C for 1 h.</text>
<text transform="translate(508.30,380.80) scale(1,1.0)" font-size="8.9" fill="#000" textLength="155.40" lengthAdjust="spacingAndGlyphs">Ni<tspan dy="1.96" font-size="6.23">1</tspan><tspan dy="-1.96">Pd</tspan><tspan dy="1.96" font-size="6.23">1</tspan><tspan dy="-1.96">/CeO</tspan><tspan dy="1.96" font-size="6.23">2</tspan><tspan dy="-1.96">_150 was treated for 0.5 h.</tspan></text>
<circle cx="14.00" cy="425.20" r="8.00" fill="#d5dbe6" stroke="none" stroke-width="1" />
<text transform="translate(14.00,428.60) scale(1,1.0)" font-size="9.6" fill="#111" font-weight="bold" text-anchor="middle">i</text>
<text transform="translate(28.70,428.40) scale(1,1.0)" font-size="10.4" fill="#000" font-weight="bold" textLength="189.30" lengthAdjust="spacingAndGlyphs">Reaction profiles using Ni<tspan dy="3.12" font-size="6.66">1</tspan><tspan dy="-3.12">Pd</tspan><tspan dy="3.12" font-size="6.66">1</tspan><tspan dy="-3.12">/CeO</tspan><tspan dy="3.12" font-size="6.66">2</tspan><tspan dy="-3.12">_</tspan><tspan font-style="italic">x</tspan></text>
<line x1="40.80" y1="449.00" x2="232.90" y2="449.00" stroke="#666" stroke-width="1.5" />
<line x1="232.40" y1="449.00" x2="232.40" y2="645.80" stroke="#1a1a1a" stroke-width="1.05" />
<line x1="40.80" y1="448.40" x2="40.80" y2="646.70" stroke="#404040" stroke-width="1.6" />
<line x1="40.00" y1="645.80" x2="233.00" y2="645.80" stroke="#404040" stroke-width="1.8" />
<line x1="38.00" y1="645.80" x2="40.80" y2="645.80" stroke="#404040" stroke-width="1.2" />
<text transform="translate(29.80,649.35) scale(1,1.0)" font-size="9.9" fill="#222" text-anchor="end">0</text>
<line x1="38.00" y1="606.44" x2="40.80" y2="606.44" stroke="#404040" stroke-width="1.2" />
<text transform="translate(29.80,609.99) scale(1,1.0)" font-size="9.9" fill="#222" text-anchor="end">20</text>
<line x1="38.00" y1="567.08" x2="40.80" y2="567.08" stroke="#404040" stroke-width="1.2" />
<text transform="translate(29.80,570.63) scale(1,1.0)" font-size="9.9" fill="#222" text-anchor="end">40</text>
<line x1="38.00" y1="527.72" x2="40.80" y2="527.72" stroke="#404040" stroke-width="1.2" />
<text transform="translate(29.80,531.27) scale(1,1.0)" font-size="9.9" fill="#222" text-anchor="end">60</text>
<line x1="38.00" y1="488.36" x2="40.80" y2="488.36" stroke="#404040" stroke-width="1.2" />
<text transform="translate(29.80,491.91) scale(1,1.0)" font-size="9.9" fill="#222" text-anchor="end">80</text>
<line x1="38.00" y1="449.00" x2="40.80" y2="449.00" stroke="#404040" stroke-width="1.2" />
<text transform="translate(29.80,452.55) scale(1,1.0)" font-size="9.9" fill="#222" text-anchor="end">100</text>
<line x1="40.80" y1="645.80" x2="40.80" y2="648.70" stroke="#404040" stroke-width="1.2" />
<text transform="translate(40.80,661.20) scale(1,1.0)" font-size="9.9" fill="#222" text-anchor="middle">0</text>
<line x1="62.09" y1="645.80" x2="62.09" y2="648.70" stroke="#404040" stroke-width="1.2" />
<text transform="translate(62.09,661.20) scale(1,1.0)" font-size="9.9" fill="#222" text-anchor="middle">1</text>
<line x1="83.38" y1="645.80" x2="83.38" y2="648.70" stroke="#404040" stroke-width="1.2" />
<text transform="translate(83.38,661.20) scale(1,1.0)" font-size="9.9" fill="#222" text-anchor="middle">2</text>
<line x1="104.67" y1="645.80" x2="104.67" y2="648.70" stroke="#404040" stroke-width="1.2" />
<text transform="translate(104.67,661.20) scale(1,1.0)" font-size="9.9" fill="#222" text-anchor="middle">3</text>
<line x1="125.96" y1="645.80" x2="125.96" y2="648.70" stroke="#404040" stroke-width="1.2" />
<text transform="translate(125.96,661.20) scale(1,1.0)" font-size="9.9" fill="#222" text-anchor="middle">4</text>
<line x1="147.24" y1="645.80" x2="147.24" y2="648.70" stroke="#404040" stroke-width="1.2" />
<text transform="translate(147.24,661.20) scale(1,1.0)" font-size="9.9" fill="#222" text-anchor="middle">5</text>
<line x1="168.53" y1="645.80" x2="168.53" y2="648.70" stroke="#404040" stroke-width="1.2" />
<text transform="translate(168.53,661.20) scale(1,1.0)" font-size="9.9" fill="#222" text-anchor="middle">6</text>
<line x1="189.82" y1="645.80" x2="189.82" y2="648.70" stroke="#404040" stroke-width="1.2" />
<text transform="translate(189.82,661.20) scale(1,1.0)" font-size="9.9" fill="#222" text-anchor="middle">7</text>
<line x1="211.11" y1="645.80" x2="211.11" y2="648.70" stroke="#404040" stroke-width="1.2" />
<text transform="translate(211.11,661.20) scale(1,1.0)" font-size="9.9" fill="#222" text-anchor="middle">8</text>
<line x1="232.40" y1="645.80" x2="232.40" y2="648.70" stroke="#404040" stroke-width="1.2" />
<text transform="translate(232.40,661.20) scale(1,1.0)" font-size="9.9" fill="#222" text-anchor="middle">9</text>
<text transform="translate(137.40,676.00) scale(1,1.0)" font-size="9.9" fill="#222" text-anchor="middle" textLength="35.20" lengthAdjust="spacingAndGlyphs">Time (h)</text>
<text x="0.00" y="0.00" font-size="9.8" fill="#222" text-anchor="middle" textLength="57.50" lengthAdjust="spacingAndGlyphs" transform="translate(13.0,545.8) rotate(-90)">Yield of <tspan font-weight="bold">9</tspan> (%)</text>
<path d="M40.80,645.80 L62.09,640.88 L83.38,636.94 L104.67,616.28 L125.96,602.50 L147.24,576.92 L168.53,540.51 L189.82,501.15 L211.11,479.50 L232.40,463.76" stroke="#5b7fc4" stroke-width="1.1" fill="none" />
<path d="M40.80,645.80 L62.09,633.01 L83.38,604.47 L104.67,572.00 L125.96,549.37 L147.24,510.01 L168.53,475.57 L189.82,460.81 L211.11,453.92" stroke="#5a8a48" stroke-width="1.1" fill="none" />
<path d="M40.80,645.80 L62.09,626.12 L83.38,598.57 L104.67,560.19 L125.96,522.80 L147.24,491.31 L168.53,465.73 L189.82,451.95" stroke="#111111" stroke-width="1.1" fill="none" />
<path d="M40.80,645.80 L62.09,634.98 L83.38,619.23 L104.67,598.57 L125.96,574.95 L147.24,543.46 L168.53,505.09 L189.82,472.62 L211.11,459.82" stroke="#e2711f" stroke-width="1.1" fill="none" />
<path d="M40.80,642.90 L43.40,645.80 L40.80,648.70 L38.20,645.80Z" stroke="#2f55a4" stroke-width="0.3" fill="#2f55a4" />
<path d="M62.09,637.98 L64.69,640.88 L62.09,643.78 L59.49,640.88Z" stroke="#2f55a4" stroke-width="0.3" fill="#2f55a4" />
<path d="M83.38,634.04 L85.98,636.94 L83.38,639.84 L80.78,636.94Z" stroke="#2f55a4" stroke-width="0.3" fill="#2f55a4" />
<line x1="104.67" y1="611.95" x2="104.67" y2="620.61" stroke="#2f55a4" stroke-width="0.8" />
<line x1="103.07" y1="611.95" x2="106.27" y2="611.95" stroke="#2f55a4" stroke-width="0.8" />
<line x1="103.07" y1="620.61" x2="106.27" y2="620.61" stroke="#2f55a4" stroke-width="0.8" />
<path d="M104.67,613.38 L107.27,616.28 L104.67,619.18 L102.07,616.28Z" stroke="#2f55a4" stroke-width="0.3" fill="#2f55a4" />
<path d="M125.96,599.60 L128.56,602.50 L125.96,605.40 L123.36,602.50Z" stroke="#2f55a4" stroke-width="0.3" fill="#2f55a4" />
<path d="M147.24,574.02 L149.84,576.92 L147.24,579.82 L144.64,576.92Z" stroke="#2f55a4" stroke-width="0.3" fill="#2f55a4" />
<line x1="168.53" y1="537.56" x2="168.53" y2="543.47" stroke="#2f55a4" stroke-width="0.8" />
<line x1="166.93" y1="537.56" x2="170.13" y2="537.56" stroke="#2f55a4" stroke-width="0.8" />
<line x1="166.93" y1="543.47" x2="170.13" y2="543.47" stroke="#2f55a4" stroke-width="0.8" />
<path d="M168.53,537.61 L171.13,540.51 L168.53,543.41 L165.93,540.51Z" stroke="#2f55a4" stroke-width="0.3" fill="#2f55a4" />
<path d="M189.82,498.25 L192.42,501.15 L189.82,504.05 L187.22,501.15Z" stroke="#2f55a4" stroke-width="0.3" fill="#2f55a4" />
<line x1="211.11" y1="474.38" x2="211.11" y2="484.63" stroke="#2f55a4" stroke-width="0.8" />
<line x1="209.51" y1="474.38" x2="212.71" y2="474.38" stroke="#2f55a4" stroke-width="0.8" />
<line x1="209.51" y1="484.63" x2="212.71" y2="484.63" stroke="#2f55a4" stroke-width="0.8" />
<path d="M211.11,476.60 L213.71,479.50 L211.11,482.40 L208.51,479.50Z" stroke="#2f55a4" stroke-width="0.3" fill="#2f55a4" />
<line x1="232.40" y1="458.83" x2="232.40" y2="468.69" stroke="#2f55a4" stroke-width="0.8" />
<line x1="230.80" y1="458.83" x2="234.00" y2="458.83" stroke="#2f55a4" stroke-width="0.8" />
<line x1="230.80" y1="468.69" x2="234.00" y2="468.69" stroke="#2f55a4" stroke-width="0.8" />
<path d="M232.40,460.86 L235.00,463.76 L232.40,466.66 L229.80,463.76Z" stroke="#2f55a4" stroke-width="0.3" fill="#2f55a4" />
<rect x="38.00" y="643.00" width="5.6" height="5.6" fill="#3d6b2c"/>
<rect x="59.29" y="630.21" width="5.6" height="5.6" fill="#3d6b2c"/>
<rect x="80.58" y="601.67" width="5.6" height="5.6" fill="#3d6b2c"/>
<line x1="104.67" y1="568.85" x2="104.67" y2="575.15" stroke="#3d6b2c" stroke-width="0.8" />
<line x1="103.07" y1="568.85" x2="106.27" y2="568.85" stroke="#3d6b2c" stroke-width="0.8" />
<line x1="103.07" y1="575.15" x2="106.27" y2="575.15" stroke="#3d6b2c" stroke-width="0.8" />
<rect x="101.87" y="569.20" width="5.6" height="5.6" fill="#3d6b2c"/>
<rect x="123.16" y="546.57" width="5.6" height="5.6" fill="#3d6b2c"/>
<line x1="147.24" y1="506.86" x2="147.24" y2="513.16" stroke="#3d6b2c" stroke-width="0.8" />
<line x1="145.64" y1="506.86" x2="148.84" y2="506.86" stroke="#3d6b2c" stroke-width="0.8" />
<line x1="145.64" y1="513.16" x2="148.84" y2="513.16" stroke="#3d6b2c" stroke-width="0.8" />
<rect x="144.44" y="507.21" width="5.6" height="5.6" fill="#3d6b2c"/>
<rect x="165.73" y="472.77" width="5.6" height="5.6" fill="#3d6b2c"/>
<rect x="187.02" y="458.01" width="5.6" height="5.6" fill="#3d6b2c"/>
<line x1="211.11" y1="450.96" x2="211.11" y2="456.87" stroke="#3d6b2c" stroke-width="0.8" />
<line x1="209.51" y1="450.96" x2="212.71" y2="450.96" stroke="#3d6b2c" stroke-width="0.8" />
<line x1="209.51" y1="456.87" x2="212.71" y2="456.87" stroke="#3d6b2c" stroke-width="0.8" />
<rect x="208.31" y="451.12" width="5.6" height="5.6" fill="#3d6b2c"/>
<circle cx="40.80" cy="645.80" r="2.80" fill="#111111" stroke="none" stroke-width="1" />
<circle cx="62.09" cy="626.12" r="2.80" fill="#111111" stroke="none" stroke-width="1" />
<circle cx="83.38" cy="598.57" r="2.80" fill="#111111" stroke="none" stroke-width="1" />
<line x1="104.67" y1="556.25" x2="104.67" y2="564.13" stroke="#111111" stroke-width="0.8" />
<line x1="103.07" y1="556.25" x2="106.27" y2="556.25" stroke="#111111" stroke-width="0.8" />
<line x1="103.07" y1="564.13" x2="106.27" y2="564.13" stroke="#111111" stroke-width="0.8" />
<circle cx="104.67" cy="560.19" r="2.80" fill="#111111" stroke="none" stroke-width="1" />
<circle cx="125.96" cy="522.80" r="2.80" fill="#111111" stroke="none" stroke-width="1" />
<line x1="147.24" y1="488.95" x2="147.24" y2="493.68" stroke="#111111" stroke-width="0.8" />
<line x1="145.64" y1="488.95" x2="148.84" y2="488.95" stroke="#111111" stroke-width="0.8" />
<line x1="145.64" y1="493.68" x2="148.84" y2="493.68" stroke="#111111" stroke-width="0.8" />
<circle cx="147.24" cy="491.31" r="2.80" fill="#111111" stroke="none" stroke-width="1" />
<circle cx="168.53" cy="465.73" r="2.80" fill="#111111" stroke="none" stroke-width="1" />
<circle cx="189.82" cy="451.95" r="2.80" fill="#111111" stroke="none" stroke-width="1" />
<path d="M40.80,642.80 L43.80,648.10 L37.80,648.10Z" stroke="#e2711f" stroke-width="0.3" fill="#e2711f" />
<line x1="62.09" y1="632.41" x2="62.09" y2="637.54" stroke="#e2711f" stroke-width="0.8" />
<line x1="60.49" y1="632.41" x2="63.69" y2="632.41" stroke="#e2711f" stroke-width="0.8" />
<line x1="60.49" y1="637.54" x2="63.69" y2="637.54" stroke="#e2711f" stroke-width="0.8" />
<path d="M62.09,631.98 L65.09,637.28 L59.09,637.28Z" stroke="#e2711f" stroke-width="0.3" fill="#e2711f" />
<line x1="83.38" y1="615.69" x2="83.38" y2="622.78" stroke="#e2711f" stroke-width="0.8" />
<line x1="81.78" y1="615.69" x2="84.98" y2="615.69" stroke="#e2711f" stroke-width="0.8" />
<line x1="81.78" y1="622.78" x2="84.98" y2="622.78" stroke="#e2711f" stroke-width="0.8" />
<path d="M83.38,616.23 L86.38,621.53 L80.38,621.53Z" stroke="#e2711f" stroke-width="0.3" fill="#e2711f" />
<line x1="104.67" y1="594.23" x2="104.67" y2="602.90" stroke="#e2711f" stroke-width="0.8" />
<line x1="103.07" y1="594.23" x2="106.27" y2="594.23" stroke="#e2711f" stroke-width="0.8" />
<line x1="103.07" y1="602.90" x2="106.27" y2="602.90" stroke="#e2711f" stroke-width="0.8" />
<path d="M104.67,595.57 L107.67,600.87 L101.67,600.87Z" stroke="#e2711f" stroke-width="0.3" fill="#e2711f" />
<path d="M125.96,571.95 L128.96,577.25 L122.96,577.25Z" stroke="#e2711f" stroke-width="0.3" fill="#e2711f" />
<path d="M147.24,540.46 L150.24,545.76 L144.24,545.76Z" stroke="#e2711f" stroke-width="0.3" fill="#e2711f" />
<line x1="168.53" y1="501.74" x2="168.53" y2="508.44" stroke="#e2711f" stroke-width="0.8" />
<line x1="166.93" y1="501.74" x2="170.13" y2="501.74" stroke="#e2711f" stroke-width="0.8" />
<line x1="166.93" y1="508.44" x2="170.13" y2="508.44" stroke="#e2711f" stroke-width="0.8" />
<path d="M168.53,502.09 L171.53,507.39 L165.53,507.39Z" stroke="#e2711f" stroke-width="0.3" fill="#e2711f" />
<path d="M189.82,469.62 L192.82,474.92 L186.82,474.92Z" stroke="#e2711f" stroke-width="0.3" fill="#e2711f" />
<line x1="211.11" y1="455.49" x2="211.11" y2="464.16" stroke="#e2711f" stroke-width="0.8" />
<line x1="209.51" y1="455.49" x2="212.71" y2="455.49" stroke="#e2711f" stroke-width="0.8" />
<line x1="209.51" y1="464.16" x2="212.71" y2="464.16" stroke="#e2711f" stroke-width="0.8" />
<path d="M211.11,456.82 L214.11,462.12 L208.11,462.12Z" stroke="#e2711f" stroke-width="0.3" fill="#e2711f" />
<line x1="42.90" y1="458.10" x2="57.20" y2="458.10" stroke="#5b7fc4" stroke-width="1.1" />
<path d="M50.00,455.20 L52.60,458.10 L50.00,461.00 L47.40,458.10Z" stroke="#2f55a4" stroke-width="0.3" fill="#2f55a4" />
<text transform="translate(58.70,461.40) scale(1,1.0)" font-size="8.9" fill="#222" textLength="70.10" lengthAdjust="spacingAndGlyphs">Ni<tspan dy="2.67" font-size="6.23">1</tspan><tspan dy="-2.67">Pd</tspan><tspan dy="2.67" font-size="6.23">1</tspan><tspan dy="-2.67">/CeO</tspan><tspan dy="2.67" font-size="6.23">2</tspan><tspan dy="-2.67">_150</tspan></text>
<line x1="42.90" y1="476.80" x2="57.20" y2="476.80" stroke="#5a8a48" stroke-width="1.1" />
<rect x="47.20" y="474.00" width="5.6" height="5.6" fill="#3d6b2c"/>
<text transform="translate(58.70,480.10) scale(1,1.0)" font-size="8.9" fill="#222" textLength="70.10" lengthAdjust="spacingAndGlyphs">Ni<tspan dy="2.67" font-size="6.23">1</tspan><tspan dy="-2.67">Pd</tspan><tspan dy="2.67" font-size="6.23">1</tspan><tspan dy="-2.67">/CeO</tspan><tspan dy="2.67" font-size="6.23">2</tspan><tspan dy="-2.67">_250</tspan></text>
<line x1="42.90" y1="495.50" x2="57.20" y2="495.50" stroke="#111111" stroke-width="1.1" />
<circle cx="50.00" cy="495.50" r="2.80" fill="#111111" stroke="none" stroke-width="1" />
<text transform="translate(58.70,498.80) scale(1,1.0)" font-size="8.9" fill="#222" textLength="70.10" lengthAdjust="spacingAndGlyphs">Ni<tspan dy="2.67" font-size="6.23">1</tspan><tspan dy="-2.67">Pd</tspan><tspan dy="2.67" font-size="6.23">1</tspan><tspan dy="-2.67">/CeO</tspan><tspan dy="2.67" font-size="6.23">2</tspan><tspan dy="-2.67">_300</tspan></text>
<line x1="42.90" y1="514.20" x2="57.20" y2="514.20" stroke="#e2711f" stroke-width="1.1" />
<path d="M50.00,511.20 L53.00,516.50 L47.00,516.50Z" stroke="#e2711f" stroke-width="0.3" fill="#e2711f" />
<text transform="translate(58.70,517.50) scale(1,1.0)" font-size="8.9" fill="#222" textLength="70.10" lengthAdjust="spacingAndGlyphs">Ni<tspan dy="2.67" font-size="6.23">1</tspan><tspan dy="-2.67">Pd</tspan><tspan dy="2.67" font-size="6.23">1</tspan><tspan dy="-2.67">/CeO</tspan><tspan dy="2.67" font-size="6.23">2</tspan><tspan dy="-2.67">_200</tspan></text>
<circle cx="249.80" cy="425.80" r="8.00" fill="#d5dbe6" stroke="none" stroke-width="1" />
<text transform="translate(249.80,429.20) scale(1,1.0)" font-size="9.6" fill="#111" font-weight="bold" text-anchor="middle">ii</text>
<text transform="translate(266.20,428.40) scale(1,1.0)" font-size="10.4" fill="#000" font-weight="bold" textLength="151.10" lengthAdjust="spacingAndGlyphs">XPS spectra of Pd 3<tspan font-style="italic">d</tspan> region of</text>
<text transform="translate(266.20,440.20) scale(1,1.0)" font-size="10.4" fill="#000" font-weight="bold" textLength="69.00" lengthAdjust="spacingAndGlyphs">Ni<tspan dy="3.12" font-size="6.66">1</tspan><tspan dy="-3.12">Pd</tspan><tspan dy="3.12" font-size="6.66">1</tspan><tspan dy="-3.12">/CeO</tspan><tspan dy="3.12" font-size="6.66">2</tspan><tspan dy="-3.12">_</tspan><tspan font-style="italic">x</tspan></text>
<line x1="257.70" y1="448.60" x2="453.60" y2="448.60" stroke="#222" stroke-width="1.0" />
<line x1="453.60" y1="448.60" x2="453.60" y2="645.80" stroke="#222" stroke-width="1.0" />
<line x1="257.70" y1="448.10" x2="257.70" y2="646.30" stroke="#333" stroke-width="1.4" />
<line x1="257.20" y1="645.80" x2="454.10" y2="645.80" stroke="#333" stroke-width="1.4" />
<line x1="257.70" y1="645.80" x2="257.70" y2="648.60" stroke="#333" stroke-width="1.0" />
<line x1="274.00" y1="645.80" x2="274.00" y2="648.60" stroke="#333" stroke-width="1.0" />
<line x1="290.30" y1="645.80" x2="290.30" y2="648.60" stroke="#333" stroke-width="1.0" />
<line x1="306.60" y1="645.80" x2="306.60" y2="648.60" stroke="#333" stroke-width="1.0" />
<line x1="322.90" y1="645.80" x2="322.90" y2="648.60" stroke="#333" stroke-width="1.0" />
<line x1="339.20" y1="645.80" x2="339.20" y2="648.60" stroke="#333" stroke-width="1.0" />
<line x1="355.50" y1="645.80" x2="355.50" y2="648.60" stroke="#333" stroke-width="1.0" />
<line x1="371.80" y1="645.80" x2="371.80" y2="648.60" stroke="#333" stroke-width="1.0" />
<line x1="388.10" y1="645.80" x2="388.10" y2="648.60" stroke="#333" stroke-width="1.0" />
<line x1="404.40" y1="645.80" x2="404.40" y2="648.60" stroke="#333" stroke-width="1.0" />
<line x1="420.70" y1="645.80" x2="420.70" y2="648.60" stroke="#333" stroke-width="1.0" />
<line x1="437.00" y1="645.80" x2="437.00" y2="648.60" stroke="#333" stroke-width="1.0" />
<line x1="453.30" y1="645.80" x2="453.30" y2="648.60" stroke="#333" stroke-width="1.0" />
<text transform="translate(257.70,660.80) scale(1,1.0)" font-size="10.2" fill="#222" text-anchor="middle">344</text>
<text transform="translate(306.60,660.80) scale(1,1.0)" font-size="10.2" fill="#222" text-anchor="middle">341</text>
<text transform="translate(355.50,660.80) scale(1,1.0)" font-size="10.2" fill="#222" text-anchor="middle">338</text>
<text transform="translate(404.40,660.80) scale(1,1.0)" font-size="10.2" fill="#222" text-anchor="middle">335</text>
<text transform="translate(453.30,660.80) scale(1,1.0)" font-size="10.2" fill="#222" text-anchor="middle">332</text>
<text transform="translate(352.80,674.40) scale(1,1.0)" font-size="9.6" fill="#222" text-anchor="middle" textLength="85.80" lengthAdjust="spacingAndGlyphs">Binding energy (eV)</text>
<text x="0.00" y="0.00" font-size="9.8" fill="#222" text-anchor="middle" textLength="80.70" lengthAdjust="spacingAndGlyphs" transform="translate(248.9,547.0) rotate(-90)">Intensity (arb. units)</text>
<path d="M257.7,491.8 258.7,491.8 259.7,491.8 260.7,491.9 261.7,491.9 262.7,491.9 263.7,491.9 264.7,491.9 265.7,491.9 266.7,492.0 267.7,492.0 268.7,492.0 269.7,492.0 270.7,492.0 271.7,492.1 272.7,492.1 273.7,492.1 274.7,492.1 275.7,492.1 276.7,492.1 277.7,492.2 278.7,492.2 279.7,492.2 280.7,492.2 281.7,492.2 282.7,492.2 283.7,492.3 284.7,492.3 285.7,492.3 286.7,492.3 287.7,492.3 288.7,492.4 289.7,492.4 290.7,492.4 291.7,492.4 292.7,492.4 293.7,492.4 294.7,492.5 295.7,492.5 296.7,492.5 297.7,492.5 298.7,492.5 299.7,492.6 300.7,492.6 301.7,492.6 302.7,492.6 303.7,492.6 304.7,492.6 305.7,492.7 306.7,492.7 307.7,492.7 308.7,492.7 309.7,492.7 310.7,492.7 311.7,492.8 312.7,492.8 313.7,492.8 314.7,492.8 315.7,492.8 316.7,492.9 317.7,492.9 318.7,492.9 319.7,492.9 320.7,492.9 321.7,492.9 322.7,493.0 323.7,493.0 324.7,493.0 325.7,493.0 326.7,493.0 327.7,493.1 328.7,493.1 329.7,493.1 330.7,493.1 331.7,493.1 332.7,493.1 333.7,493.2 334.7,493.2 335.7,493.2 336.7,493.2 337.7,493.2 338.7,493.2 339.7,493.3 340.7,493.3 341.7,493.3 342.7,493.3 343.7,493.3 344.7,493.4 345.7,493.4 346.7,493.4 347.7,493.4 348.7,493.4 349.7,493.4 350.7,493.5 351.7,493.5 352.7,493.5 353.7,493.5 354.7,493.5 355.7,493.6 356.7,493.6 357.7,493.6 358.7,493.6 359.7,493.6 360.7,493.6 361.7,493.7 362.7,493.7 363.7,493.7 364.7,493.7 365.7,493.7 366.7,493.7 367.7,493.8 368.7,493.8 369.7,493.8 370.7,493.8 371.7,493.8 372.7,493.9 373.7,493.9 374.7,493.9 375.7,493.9 376.7,493.9 377.7,493.9 378.7,494.0 379.7,494.0 380.7,494.0 381.7,494.0 382.7,494.0 383.7,494.1 384.7,494.1 385.7,494.1 386.7,494.1 387.7,494.1 388.7,494.1 389.7,494.2 390.7,494.2 391.7,494.2 392.7,494.2 393.7,494.2 394.7,494.2 395.7,494.3 396.7,494.3 397.7,494.3 398.7,494.3 399.7,494.3 400.7,494.4 401.7,494.4 402.7,494.4 403.7,494.4 404.7,494.4 405.7,494.4 406.7,494.5 407.7,494.5 408.7,494.5 409.7,494.5 410.7,494.5 411.7,494.6 412.7,494.6 413.7,494.6 414.7,494.6 415.7,494.6 416.7,494.6 417.7,494.7 418.7,494.7 419.7,494.7 420.7,494.7 421.7,494.7 422.7,494.7 423.7,494.8 424.7,494.8 425.7,494.8 426.7,494.8 427.7,494.8 428.7,494.9 429.7,494.9 430.7,494.9 431.7,494.9 432.7,494.9 433.7,494.9 434.7,495.0 435.7,495.0 436.7,495.0 437.7,495.0 438.7,495.0 439.7,495.1 440.7,495.1 441.7,495.1 442.7,495.1 443.7,495.1 444.7,495.1 445.7,495.2 446.7,495.2 447.7,495.2 448.7,495.2 449.7,495.2 450.7,495.2 451.7,495.3 452.7,495.3" stroke="#cc1f2b" stroke-width="1.5" fill="none" stroke-dasharray="1.4,2.4"/>
<path d="M257.7,491.4 258.7,491.4 259.7,491.4 260.7,491.3 261.7,491.3 262.7,491.3 263.7,491.2 264.7,491.2 265.7,491.1 266.7,491.0 267.7,490.9 268.7,490.9 269.7,490.8 270.7,490.7 271.7,490.6 272.7,490.5 273.7,490.4 274.7,490.3 275.7,490.2 276.7,490.1 277.7,490.0 278.7,489.9 279.7,489.8 280.7,489.7 281.7,489.6 282.7,489.5 283.7,489.4 284.7,489.3 285.7,489.3 286.7,489.2 287.7,489.1 288.7,489.1 289.7,489.1 290.7,489.0 291.7,489.0 292.7,489.0 293.7,489.0 294.7,489.1 295.7,489.1 296.7,489.1 297.7,489.2 298.7,489.3 299.7,489.4 300.7,489.5 301.7,489.6 302.7,489.7 303.7,489.8 304.7,489.9 305.7,490.0 306.7,490.2 307.7,490.3 308.7,490.5 309.7,490.6 310.7,490.7 311.7,490.9 312.7,491.0 313.7,491.1 314.7,491.3 315.7,491.4 316.7,491.5 317.7,491.7 318.7,491.8 319.7,491.9 320.7,492.0 321.7,492.1 322.7,492.2 323.7,492.3 324.7,492.4 325.7,492.4 326.7,492.5 327.7,492.6 328.7,492.6 329.7,492.7 330.7,492.7 331.7,492.8 332.7,492.8 333.7,492.8 334.7,492.9 335.7,492.9 336.7,492.9 337.7,492.9 338.7,492.9 339.7,492.9 340.7,492.9 341.7,492.9 342.7,492.9 343.7,492.8 344.7,492.8 345.7,492.8 346.7,492.7 347.7,492.7 348.7,492.6 349.7,492.6 350.7,492.5 351.7,492.4 352.7,492.3 353.7,492.2 354.7,492.1 355.7,492.0 356.7,491.9 357.7,491.8 358.7,491.6 359.7,491.5 360.7,491.4 361.7,491.2 362.7,491.1 363.7,491.0 364.7,490.8 365.7,490.7 366.7,490.5 367.7,490.4 368.7,490.3 369.7,490.2 370.7,490.0 371.7,489.9 372.7,489.9 373.7,489.8 374.7,489.7 375.7,489.6 376.7,489.6 377.7,489.6 378.7,489.6 379.7,489.6 380.7,489.6 381.7,489.6 382.7,489.7 383.7,489.8 384.7,489.8 385.7,489.9 386.7,490.1 387.7,490.2 388.7,490.3 389.7,490.5 390.7,490.6 391.7,490.8 392.7,490.9 393.7,491.1 394.7,491.3 395.7,491.5 396.7,491.6 397.7,491.8 398.7,492.0 399.7,492.2 400.7,492.3 401.7,492.5 402.7,492.7 403.7,492.8 404.7,493.0 405.7,493.1 406.7,493.2 407.7,493.4 408.7,493.5 409.7,493.6 410.7,493.7 411.7,493.8 412.7,493.9 413.7,494.0 414.7,494.1 415.7,494.2 416.7,494.2 417.7,494.3 418.7,494.4 419.7,494.4 420.7,494.5 421.7,494.5 422.7,494.6 423.7,494.6 424.7,494.6 425.7,494.7 426.7,494.7 427.7,494.7 428.7,494.8 429.7,494.8 430.7,494.8 431.7,494.8 432.7,494.9 433.7,494.9 434.7,494.9 435.7,494.9 436.7,495.0 437.7,495.0 438.7,495.0 439.7,495.0 440.7,495.0 441.7,495.1 442.7,495.1 443.7,495.1 444.7,495.1 445.7,495.1 446.7,495.2 447.7,495.2 448.7,495.2 449.7,495.2 450.7,495.2 451.7,495.2 452.7,495.3" stroke="#cc1f2b" stroke-width="1.5" fill="none" stroke-dasharray="1.4,2.4"/>
<path d="M257.7,491.4 258.7,491.3 259.7,491.3 260.7,491.3 261.7,491.2 262.7,491.2 263.7,491.1 264.7,491.1 265.7,491.0 266.7,490.9 267.7,490.8 268.7,490.8 269.7,490.7 270.7,490.6 271.7,490.5 272.7,490.4 273.7,490.3 274.7,490.2 275.7,490.0 276.7,489.9 277.7,489.8 278.7,489.7 279.7,489.5 280.7,489.4 281.7,489.3 282.7,489.1 283.7,489.0 284.7,488.8 285.7,488.6 286.7,488.4 287.7,488.2 288.7,488.0 289.7,487.8 290.7,487.5 291.7,487.2 292.7,486.9 293.7,486.5 294.7,486.1 295.7,485.6 296.7,485.1 297.7,484.6 298.7,484.0 299.7,483.3 300.7,482.6 301.7,481.9 302.7,481.2 303.7,480.4 304.7,479.7 305.7,478.9 306.7,478.2 307.7,477.4 308.7,476.8 309.7,476.2 310.7,475.7 311.7,475.2 312.7,474.9 313.7,474.7 314.7,474.7 315.7,474.8 316.7,475.0 317.7,475.3 318.7,475.8 319.7,476.4 320.7,477.1 321.7,477.9 322.7,478.7 323.7,479.6 324.7,480.5 325.7,481.5 326.7,482.5 327.7,483.4 328.7,484.3 329.7,485.2 330.7,486.1 331.7,486.9 332.7,487.6 333.7,488.3 334.7,488.9 335.7,489.5 336.7,490.0 337.7,490.4 338.7,490.8 339.7,491.1 340.7,491.4 341.7,491.6 342.7,491.8 343.7,491.9 344.7,492.0 345.7,492.1 346.7,492.1 347.7,492.2 348.7,492.2 349.7,492.1 350.7,492.1 351.7,492.0 352.7,492.0 353.7,491.9 354.7,491.8 355.7,491.7 356.7,491.6 357.7,491.5 358.7,491.4 359.7,491.2 360.7,491.1 361.7,490.9 362.7,490.8 363.7,490.6 364.7,490.4 365.7,490.3 366.7,490.1 367.7,489.9 368.7,489.7 369.7,489.5 370.7,489.3 371.7,489.0 372.7,488.8 373.7,488.5 374.7,488.2 375.7,487.8 376.7,487.5 377.7,487.0 378.7,486.6 379.7,486.0 380.7,485.4 381.7,484.8 382.7,484.1 383.7,483.3 384.7,482.4 385.7,481.5 386.7,480.5 387.7,479.4 388.7,478.3 389.7,477.2 390.7,476.1 391.7,474.9 392.7,473.8 393.7,472.7 394.7,471.6 395.7,470.7 396.7,469.9 397.7,469.2 398.7,468.6 399.7,468.2 400.7,468.1 401.7,468.1 402.7,468.3 403.7,468.7 404.7,469.3 405.7,470.1 406.7,471.0 407.7,472.1 408.7,473.3 409.7,474.6 410.7,475.9 411.7,477.3 412.7,478.7 413.7,480.1 414.7,481.5 415.7,482.8 416.7,484.1 417.7,485.3 418.7,486.4 419.7,487.5 420.7,488.4 421.7,489.3 422.7,490.1 423.7,490.8 424.7,491.4 425.7,491.9 426.7,492.4 427.7,492.8 428.7,493.2 429.7,493.4 430.7,493.7 431.7,493.9 432.7,494.1 433.7,494.2 434.7,494.3 435.7,494.5 436.7,494.5 437.7,494.6 438.7,494.7 439.7,494.7 440.7,494.8 441.7,494.8 442.7,494.9 443.7,494.9 444.7,494.9 445.7,495.0 446.7,495.0 447.7,495.0 448.7,495.0 449.7,495.1 450.7,495.1 451.7,495.1 452.7,495.1" stroke="#1a1a1a" stroke-width="0.9" fill="none"/>
<path d="M257.7,491.7 258.7,491.7 259.7,491.8 260.7,491.8 261.7,491.8 262.7,491.8 263.7,491.8 264.7,491.8 265.7,491.8 266.7,491.9 267.7,491.9 268.7,491.9 269.7,491.9 270.7,491.9 271.7,491.9 272.7,491.9 273.7,491.9 274.7,491.9 275.7,491.9 276.7,492.0 277.7,492.0 278.7,491.9 279.7,491.9 280.7,491.9 281.7,491.9 282.7,491.9 283.7,491.8 284.7,491.7 285.7,491.7 286.7,491.6 287.7,491.4 288.7,491.3 289.7,491.1 290.7,490.8 291.7,490.6 292.7,490.3 293.7,489.9 294.7,489.5 295.7,489.0 296.7,488.5 297.7,487.9 298.7,487.2 299.7,486.5 300.7,485.8 301.7,485.0 302.7,484.1 303.7,483.3 304.7,482.4 305.7,481.5 306.7,480.6 307.7,479.8 308.7,479.0 309.7,478.3 310.7,477.7 311.7,477.1 312.7,476.7 313.7,476.4 314.7,476.2 315.7,476.2 316.7,476.3 317.7,476.5 318.7,476.9 319.7,477.4 320.7,478.0 321.7,478.7 322.7,479.5 323.7,480.3 324.7,481.2 325.7,482.1 326.7,483.0 327.7,483.9 328.7,484.8 329.7,485.7 330.7,486.5 331.7,487.2 332.7,488.0 333.7,488.6 334.7,489.3 335.7,489.8 336.7,490.3 337.7,490.7 338.7,491.1 339.7,491.5 340.7,491.8 341.7,492.0 342.7,492.2 343.7,492.4 344.7,492.6 345.7,492.7 346.7,492.8 347.7,492.9 348.7,493.0 349.7,493.0 350.7,493.1 351.7,493.1 352.7,493.2 353.7,493.2 354.7,493.2 355.7,493.3 356.7,493.3 357.7,493.3 358.7,493.3 359.7,493.3 360.7,493.3 361.7,493.3 362.7,493.3 363.7,493.3 364.7,493.3 365.7,493.3 366.7,493.3 367.7,493.3 368.7,493.2 369.7,493.1 370.7,493.0 371.7,492.9 372.7,492.8 373.7,492.6 374.7,492.4 375.7,492.1 376.7,491.8 377.7,491.4 378.7,491.0 379.7,490.4 380.7,489.9 381.7,489.2 382.7,488.4 383.7,487.6 384.7,486.6 385.7,485.6 386.7,484.5 387.7,483.4 388.7,482.2 389.7,480.9 390.7,479.6 391.7,478.3 392.7,477.0 393.7,475.8 394.7,474.6 395.7,473.5 396.7,472.5 397.7,471.7 398.7,471.0 399.7,470.4 400.7,470.1 401.7,469.9 402.7,470.0 403.7,470.3 404.7,470.8 405.7,471.4 406.7,472.2 407.7,473.2 408.7,474.3 409.7,475.5 410.7,476.7 411.7,478.0 412.7,479.4 413.7,480.7 414.7,482.0 415.7,483.3 416.7,484.5 417.7,485.7 418.7,486.8 419.7,487.8 420.7,488.7 421.7,489.5 422.7,490.3 423.7,491.0 424.7,491.6 425.7,492.1 426.7,492.5 427.7,492.9 428.7,493.2 429.7,493.5 430.7,493.8 431.7,494.0 432.7,494.1 433.7,494.3 434.7,494.4 435.7,494.5 436.7,494.6 437.7,494.6 438.7,494.7 439.7,494.8 440.7,494.8 441.7,494.8 442.7,494.9 443.7,494.9 444.7,494.9 445.7,495.0 446.7,495.0 447.7,495.0 448.7,495.1 449.7,495.1 450.7,495.1 451.7,495.1 452.7,495.2" stroke="#4a7bd4" stroke-width="1.7" fill="none" stroke-dasharray="1.3,2.1"/>
<path d="M257.7,491.4 258.7,491.3 259.7,491.3 260.7,491.3 261.7,491.2 262.7,491.2 263.7,491.1 264.7,491.1 265.7,491.0 266.7,490.9 267.7,490.8 268.7,490.8 269.7,490.7 270.7,490.6 271.7,490.5 272.7,490.4 273.7,490.3 274.7,490.2 275.7,490.0 276.7,489.9 277.7,489.8 278.7,489.7 279.7,489.5 280.7,489.4 281.7,489.3 282.7,489.1 283.7,489.0 284.7,488.8 285.7,488.6 286.7,488.4 287.7,488.2 288.7,488.0 289.7,487.8 290.7,487.5 291.7,487.2 292.7,486.9 293.7,486.5 294.7,486.1 295.7,485.6 296.7,485.1 297.7,484.6 298.7,484.0 299.7,483.3 300.7,482.6 301.7,481.9 302.7,481.2 303.7,480.4 304.7,479.7 305.7,478.9 306.7,478.2 307.7,477.4 308.7,476.8 309.7,476.2 310.7,475.7 311.7,475.2 312.7,474.9 313.7,474.7 314.7,474.7 315.7,474.8 316.7,475.0 317.7,475.3 318.7,475.8 319.7,476.4 320.7,477.1 321.7,477.9 322.7,478.7 323.7,479.6 324.7,480.5 325.7,481.5 326.7,482.5 327.7,483.4 328.7,484.3 329.7,485.2 330.7,486.1 331.7,486.9 332.7,487.6 333.7,488.3 334.7,488.9 335.7,489.5 336.7,490.0 337.7,490.4 338.7,490.8 339.7,491.1 340.7,491.4 341.7,491.6 342.7,491.8 343.7,491.9 344.7,492.0 345.7,492.1 346.7,492.1 347.7,492.2 348.7,492.2 349.7,492.1 350.7,492.1 351.7,492.0 352.7,492.0 353.7,491.9 354.7,491.8 355.7,491.7 356.7,491.6 357.7,491.5 358.7,491.4 359.7,491.2 360.7,491.1 361.7,490.9 362.7,490.8 363.7,490.6 364.7,490.4 365.7,490.3 366.7,490.1 367.7,489.9 368.7,489.7 369.7,489.5 370.7,489.3 371.7,489.0 372.7,488.8 373.7,488.5 374.7,488.2 375.7,487.8 376.7,487.5 377.7,487.0 378.7,486.6 379.7,486.0 380.7,485.4 381.7,484.8 382.7,484.1 383.7,483.3 384.7,482.4 385.7,481.5 386.7,480.5 387.7,479.4 388.7,478.3 389.7,477.2 390.7,476.1 391.7,474.9 392.7,473.8 393.7,472.7 394.7,471.6 395.7,470.7 396.7,469.9 397.7,469.2 398.7,468.6 399.7,468.2 400.7,468.1 401.7,468.1 402.7,468.3 403.7,468.7 404.7,469.3 405.7,470.1 406.7,471.0 407.7,472.1 408.7,473.3 409.7,474.6 410.7,475.9 411.7,477.3 412.7,478.7 413.7,480.1 414.7,481.5 415.7,482.8 416.7,484.1 417.7,485.3 418.7,486.4 419.7,487.5 420.7,488.4 421.7,489.3 422.7,490.1 423.7,490.8 424.7,491.4 425.7,491.9 426.7,492.4 427.7,492.8 428.7,493.2 429.7,493.4 430.7,493.7 431.7,493.9 432.7,494.1 433.7,494.2 434.7,494.3 435.7,494.5 436.7,494.5 437.7,494.6 438.7,494.7 439.7,494.7 440.7,494.8 441.7,494.8 442.7,494.9 443.7,494.9 444.7,494.9 445.7,495.0 446.7,495.0 447.7,495.0 448.7,495.0 449.7,495.1 450.7,495.1 451.7,495.1 452.7,495.1" stroke="#76c043" stroke-width="1.5" fill="none" stroke-dasharray="1.2,2.6"/>
<path d="M257.7,539.4 258.7,539.4 259.7,539.4 260.7,539.4 261.7,539.5 262.7,539.5 263.7,539.5 264.7,539.5 265.7,539.5 266.7,539.5 267.7,539.5 268.7,539.6 269.7,539.6 270.7,539.6 271.7,539.6 272.7,539.6 273.7,539.6 274.7,539.7 275.7,539.7 276.7,539.7 277.7,539.7 278.7,539.7 279.7,539.7 280.7,539.7 281.7,539.8 282.7,539.8 283.7,539.8 284.7,539.8 285.7,539.8 286.7,539.8 287.7,539.8 288.7,539.9 289.7,539.9 290.7,539.9 291.7,539.9 292.7,539.9 293.7,539.9 294.7,539.9 295.7,540.0 296.7,540.0 297.7,540.0 298.7,540.0 299.7,540.0 300.7,540.0 301.7,540.1 302.7,540.1 303.7,540.1 304.7,540.1 305.7,540.1 306.7,540.1 307.7,540.1 308.7,540.2 309.7,540.2 310.7,540.2 311.7,540.2 312.7,540.2 313.7,540.2 314.7,540.2 315.7,540.3 316.7,540.3 317.7,540.3 318.7,540.3 319.7,540.3 320.7,540.3 321.7,540.3 322.7,540.4 323.7,540.4 324.7,540.4 325.7,540.4 326.7,540.4 327.7,540.4 328.7,540.5 329.7,540.5 330.7,540.5 331.7,540.5 332.7,540.5 333.7,540.5 334.7,540.5 335.7,540.6 336.7,540.6 337.7,540.6 338.7,540.6 339.7,540.6 340.7,540.6 341.7,540.6 342.7,540.7 343.7,540.7 344.7,540.7 345.7,540.7 346.7,540.7 347.7,540.7 348.7,540.7 349.7,540.8 350.7,540.8 351.7,540.8 352.7,540.8 353.7,540.8 354.7,540.8 355.7,540.9 356.7,540.9 357.7,540.9 358.7,540.9 359.7,540.9 360.7,540.9 361.7,540.9 362.7,541.0 363.7,541.0 364.7,541.0 365.7,541.0 366.7,541.0 367.7,541.0 368.7,541.0 369.7,541.1 370.7,541.1 371.7,541.1 372.7,541.1 373.7,541.1 374.7,541.1 375.7,541.1 376.7,541.2 377.7,541.2 378.7,541.2 379.7,541.2 380.7,541.2 381.7,541.2 382.7,541.3 383.7,541.3 384.7,541.3 385.7,541.3 386.7,541.3 387.7,541.3 388.7,541.3 389.7,541.4 390.7,541.4 391.7,541.4 392.7,541.4 393.7,541.4 394.7,541.4 395.7,541.4 396.7,541.5 397.7,541.5 398.7,541.5 399.7,541.5 400.7,541.5 401.7,541.5 402.7,541.5 403.7,541.6 404.7,541.6 405.7,541.6 406.7,541.6 407.7,541.6 408.7,541.6 409.7,541.7 410.7,541.7 411.7,541.7 412.7,541.7 413.7,541.7 414.7,541.7 415.7,541.7 416.7,541.8 417.7,541.8 418.7,541.8 419.7,541.8 420.7,541.8 421.7,541.8 422.7,541.8 423.7,541.9 424.7,541.9 425.7,541.9 426.7,541.9 427.7,541.9 428.7,541.9 429.7,541.9 430.7,542.0 431.7,542.0 432.7,542.0 433.7,542.0 434.7,542.0 435.7,542.0 436.7,542.0 437.7,542.1 438.7,542.1 439.7,542.1 440.7,542.1 441.7,542.1 442.7,542.1 443.7,542.2 444.7,542.2 445.7,542.2 446.7,542.2 447.7,542.2 448.7,542.2 449.7,542.2 450.7,542.3 451.7,542.3 452.7,542.3" stroke="#cc1f2b" stroke-width="1.5" fill="none" stroke-dasharray="1.4,2.4"/>
<path d="M257.7,539.1 258.7,539.1 259.7,539.1 260.7,539.1 261.7,539.0 262.7,539.0 263.7,539.0 264.7,538.9 265.7,538.9 266.7,538.8 267.7,538.8 268.7,538.7 269.7,538.6 270.7,538.6 271.7,538.5 272.7,538.4 273.7,538.4 274.7,538.3 275.7,538.2 276.7,538.1 277.7,538.0 278.7,538.0 279.7,537.9 280.7,537.8 281.7,537.7 282.7,537.7 283.7,537.6 284.7,537.5 285.7,537.5 286.7,537.4 287.7,537.4 288.7,537.4 289.7,537.3 290.7,537.3 291.7,537.3 292.7,537.3 293.7,537.3 294.7,537.3 295.7,537.4 296.7,537.4 297.7,537.5 298.7,537.5 299.7,537.6 300.7,537.7 301.7,537.7 302.7,537.8 303.7,537.9 304.7,538.0 305.7,538.1 306.7,538.2 307.7,538.3 308.7,538.4 309.7,538.5 310.7,538.6 311.7,538.8 312.7,538.9 313.7,539.0 314.7,539.1 315.7,539.2 316.7,539.3 317.7,539.4 318.7,539.4 319.7,539.5 320.7,539.6 321.7,539.7 322.7,539.8 323.7,539.8 324.7,539.9 325.7,540.0 326.7,540.0 327.7,540.1 328.7,540.1 329.7,540.1 330.7,540.2 331.7,540.2 332.7,540.2 333.7,540.3 334.7,540.3 335.7,540.3 336.7,540.3 337.7,540.3 338.7,540.3 339.7,540.3 340.7,540.3 341.7,540.3 342.7,540.3 343.7,540.3 344.7,540.3 345.7,540.2 346.7,540.2 347.7,540.2 348.7,540.1 349.7,540.1 350.7,540.0 351.7,540.0 352.7,539.9 353.7,539.8 354.7,539.7 355.7,539.7 356.7,539.6 357.7,539.5 358.7,539.4 359.7,539.3 360.7,539.2 361.7,539.1 362.7,539.0 363.7,538.9 364.7,538.7 365.7,538.6 366.7,538.5 367.7,538.4 368.7,538.3 369.7,538.2 370.7,538.2 371.7,538.1 372.7,538.0 373.7,537.9 374.7,537.9 375.7,537.9 376.7,537.8 377.7,537.8 378.7,537.8 379.7,537.8 380.7,537.8 381.7,537.8 382.7,537.9 383.7,537.9 384.7,538.0 385.7,538.1 386.7,538.2 387.7,538.3 388.7,538.4 389.7,538.5 390.7,538.6 391.7,538.7 392.7,538.9 393.7,539.0 394.7,539.1 395.7,539.3 396.7,539.4 397.7,539.5 398.7,539.7 399.7,539.8 400.7,540.0 401.7,540.1 402.7,540.2 403.7,540.3 404.7,540.4 405.7,540.6 406.7,540.7 407.7,540.8 408.7,540.9 409.7,540.9 410.7,541.0 411.7,541.1 412.7,541.2 413.7,541.3 414.7,541.3 415.7,541.4 416.7,541.4 417.7,541.5 418.7,541.5 419.7,541.6 420.7,541.6 421.7,541.7 422.7,541.7 423.7,541.7 424.7,541.8 425.7,541.8 426.7,541.8 427.7,541.8 428.7,541.9 429.7,541.9 430.7,541.9 431.7,541.9 432.7,541.9 433.7,542.0 434.7,542.0 435.7,542.0 436.7,542.0 437.7,542.0 438.7,542.1 439.7,542.1 440.7,542.1 441.7,542.1 442.7,542.1 443.7,542.1 444.7,542.2 445.7,542.2 446.7,542.2 447.7,542.2 448.7,542.2 449.7,542.2 450.7,542.2 451.7,542.3 452.7,542.3" stroke="#cc1f2b" stroke-width="1.5" fill="none" stroke-dasharray="1.4,2.4"/>
<path d="M257.7,539.1 258.7,539.0 259.7,539.0 260.7,539.0 261.7,539.0 262.7,538.9 263.7,538.9 264.7,538.8 265.7,538.8 266.7,538.7 267.7,538.7 268.7,538.6 269.7,538.5 270.7,538.5 271.7,538.4 272.7,538.3 273.7,538.2 274.7,538.2 275.7,538.1 276.7,538.0 277.7,537.9 278.7,537.8 279.7,537.7 280.7,537.6 281.7,537.5 282.7,537.3 283.7,537.2 284.7,537.1 285.7,537.0 286.7,536.8 287.7,536.7 288.7,536.5 289.7,536.3 290.7,536.1 291.7,535.8 292.7,535.5 293.7,535.2 294.7,534.9 295.7,534.5 296.7,534.1 297.7,533.7 298.7,533.2 299.7,532.6 300.7,532.1 301.7,531.5 302.7,530.9 303.7,530.2 304.7,529.6 305.7,529.0 306.7,528.4 307.7,527.8 308.7,527.2 309.7,526.7 310.7,526.3 311.7,525.9 312.7,525.7 313.7,525.5 314.7,525.5 315.7,525.5 316.7,525.7 317.7,526.0 318.7,526.4 319.7,526.8 320.7,527.4 321.7,528.0 322.7,528.7 323.7,529.5 324.7,530.2 325.7,531.0 326.7,531.8 327.7,532.6 328.7,533.3 329.7,534.1 330.7,534.8 331.7,535.4 332.7,536.0 333.7,536.6 334.7,537.1 335.7,537.5 336.7,537.9 337.7,538.3 338.7,538.6 339.7,538.9 340.7,539.1 341.7,539.3 342.7,539.4 343.7,539.5 344.7,539.6 345.7,539.7 346.7,539.7 347.7,539.7 348.7,539.7 349.7,539.7 350.7,539.7 351.7,539.7 352.7,539.6 353.7,539.6 354.7,539.5 355.7,539.4 356.7,539.3 357.7,539.2 358.7,539.1 359.7,539.0 360.7,538.9 361.7,538.8 362.7,538.7 363.7,538.6 364.7,538.4 365.7,538.3 366.7,538.2 367.7,538.0 368.7,537.9 369.7,537.7 370.7,537.5 371.7,537.3 372.7,537.1 373.7,536.9 374.7,536.7 375.7,536.4 376.7,536.1 377.7,535.7 378.7,535.3 379.7,534.9 380.7,534.4 381.7,533.9 382.7,533.3 383.7,532.7 384.7,532.0 385.7,531.2 386.7,530.4 387.7,529.5 388.7,528.6 389.7,527.7 390.7,526.7 391.7,525.8 392.7,524.9 393.7,524.0 394.7,523.1 395.7,522.3 396.7,521.7 397.7,521.1 398.7,520.6 399.7,520.3 400.7,520.2 401.7,520.2 402.7,520.3 403.7,520.7 404.7,521.1 405.7,521.8 406.7,522.5 407.7,523.4 408.7,524.4 409.7,525.4 410.7,526.5 411.7,527.6 412.7,528.8 413.7,529.9 414.7,531.0 415.7,532.1 416.7,533.2 417.7,534.2 418.7,535.1 419.7,535.9 420.7,536.7 421.7,537.4 422.7,538.1 423.7,538.6 424.7,539.1 425.7,539.6 426.7,539.9 427.7,540.3 428.7,540.5 429.7,540.8 430.7,541.0 431.7,541.2 432.7,541.3 433.7,541.4 434.7,541.5 435.7,541.6 436.7,541.7 437.7,541.7 438.7,541.8 439.7,541.8 440.7,541.9 441.7,541.9 442.7,541.9 443.7,542.0 444.7,542.0 445.7,542.0 446.7,542.0 447.7,542.1 448.7,542.1 449.7,542.1 450.7,542.1 451.7,542.1 452.7,542.2" stroke="#1a1a1a" stroke-width="0.9" fill="none"/>
<path d="M257.7,539.3 258.7,539.3 259.7,539.4 260.7,539.4 261.7,539.4 262.7,539.4 263.7,539.4 264.7,539.4 265.7,539.4 266.7,539.4 267.7,539.5 268.7,539.5 269.7,539.5 270.7,539.5 271.7,539.5 272.7,539.5 273.7,539.5 274.7,539.5 275.7,539.5 276.7,539.5 277.7,539.5 278.7,539.5 279.7,539.5 280.7,539.5 281.7,539.5 282.7,539.5 283.7,539.4 284.7,539.4 285.7,539.3 286.7,539.2 287.7,539.1 288.7,539.0 289.7,538.8 290.7,538.6 291.7,538.4 292.7,538.1 293.7,537.8 294.7,537.5 295.7,537.1 296.7,536.7 297.7,536.2 298.7,535.7 299.7,535.1 300.7,534.5 301.7,533.8 302.7,533.1 303.7,532.4 304.7,531.7 305.7,531.0 306.7,530.3 307.7,529.6 308.7,528.9 309.7,528.4 310.7,527.8 311.7,527.4 312.7,527.0 313.7,526.8 314.7,526.7 315.7,526.6 316.7,526.7 317.7,526.9 318.7,527.2 319.7,527.6 320.7,528.1 321.7,528.7 322.7,529.3 323.7,530.0 324.7,530.7 325.7,531.5 326.7,532.2 327.7,532.9 328.7,533.7 329.7,534.4 330.7,535.0 331.7,535.7 332.7,536.3 333.7,536.8 334.7,537.3 335.7,537.8 336.7,538.2 337.7,538.5 338.7,538.9 339.7,539.1 340.7,539.4 341.7,539.6 342.7,539.8 343.7,539.9 344.7,540.0 345.7,540.1 346.7,540.2 347.7,540.3 348.7,540.4 349.7,540.4 350.7,540.5 351.7,540.5 352.7,540.5 353.7,540.6 354.7,540.6 355.7,540.6 356.7,540.6 357.7,540.6 358.7,540.7 359.7,540.7 360.7,540.7 361.7,540.7 362.7,540.7 363.7,540.7 364.7,540.7 365.7,540.7 366.7,540.6 367.7,540.6 368.7,540.6 369.7,540.5 370.7,540.4 371.7,540.3 372.7,540.2 373.7,540.1 374.7,539.9 375.7,539.7 376.7,539.4 377.7,539.1 378.7,538.7 379.7,538.3 380.7,537.8 381.7,537.3 382.7,536.7 383.7,536.0 384.7,535.2 385.7,534.4 386.7,533.5 387.7,532.6 388.7,531.6 389.7,530.6 390.7,529.5 391.7,528.4 392.7,527.4 393.7,526.4 394.7,525.4 395.7,524.5 396.7,523.7 397.7,523.0 398.7,522.4 399.7,522.0 400.7,521.7 401.7,521.6 402.7,521.7 403.7,521.9 404.7,522.3 405.7,522.8 406.7,523.5 407.7,524.3 408.7,525.1 409.7,526.1 410.7,527.1 411.7,528.2 412.7,529.3 413.7,530.4 414.7,531.4 415.7,532.5 416.7,533.5 417.7,534.4 418.7,535.3 419.7,536.2 420.7,536.9 421.7,537.6 422.7,538.2 423.7,538.8 424.7,539.2 425.7,539.7 426.7,540.0 427.7,540.3 428.7,540.6 429.7,540.9 430.7,541.0 431.7,541.2 432.7,541.3 433.7,541.5 434.7,541.6 435.7,541.6 436.7,541.7 437.7,541.8 438.7,541.8 439.7,541.9 440.7,541.9 441.7,541.9 442.7,542.0 443.7,542.0 444.7,542.0 445.7,542.0 446.7,542.1 447.7,542.1 448.7,542.1 449.7,542.1 450.7,542.1 451.7,542.2 452.7,542.2" stroke="#4a7bd4" stroke-width="1.7" fill="none" stroke-dasharray="1.3,2.1"/>
<path d="M257.7,539.1 258.7,539.0 259.7,539.0 260.7,539.0 261.7,539.0 262.7,538.9 263.7,538.9 264.7,538.8 265.7,538.8 266.7,538.7 267.7,538.7 268.7,538.6 269.7,538.5 270.7,538.5 271.7,538.4 272.7,538.3 273.7,538.2 274.7,538.2 275.7,538.1 276.7,538.0 277.7,537.9 278.7,537.8 279.7,537.7 280.7,537.6 281.7,537.5 282.7,537.3 283.7,537.2 284.7,537.1 285.7,537.0 286.7,536.8 287.7,536.7 288.7,536.5 289.7,536.3 290.7,536.1 291.7,535.8 292.7,535.5 293.7,535.2 294.7,534.9 295.7,534.5 296.7,534.1 297.7,533.7 298.7,533.2 299.7,532.6 300.7,532.1 301.7,531.5 302.7,530.9 303.7,530.2 304.7,529.6 305.7,529.0 306.7,528.4 307.7,527.8 308.7,527.2 309.7,526.7 310.7,526.3 311.7,525.9 312.7,525.7 313.7,525.5 314.7,525.5 315.7,525.5 316.7,525.7 317.7,526.0 318.7,526.4 319.7,526.8 320.7,527.4 321.7,528.0 322.7,528.7 323.7,529.5 324.7,530.2 325.7,531.0 326.7,531.8 327.7,532.6 328.7,533.3 329.7,534.1 330.7,534.8 331.7,535.4 332.7,536.0 333.7,536.6 334.7,537.1 335.7,537.5 336.7,537.9 337.7,538.3 338.7,538.6 339.7,538.9 340.7,539.1 341.7,539.3 342.7,539.4 343.7,539.5 344.7,539.6 345.7,539.7 346.7,539.7 347.7,539.7 348.7,539.7 349.7,539.7 350.7,539.7 351.7,539.7 352.7,539.6 353.7,539.6 354.7,539.5 355.7,539.4 356.7,539.3 357.7,539.2 358.7,539.1 359.7,539.0 360.7,538.9 361.7,538.8 362.7,538.7 363.7,538.6 364.7,538.4 365.7,538.3 366.7,538.2 367.7,538.0 368.7,537.9 369.7,537.7 370.7,537.5 371.7,537.3 372.7,537.1 373.7,536.9 374.7,536.7 375.7,536.4 376.7,536.1 377.7,535.7 378.7,535.3 379.7,534.9 380.7,534.4 381.7,533.9 382.7,533.3 383.7,532.7 384.7,532.0 385.7,531.2 386.7,530.4 387.7,529.5 388.7,528.6 389.7,527.7 390.7,526.7 391.7,525.8 392.7,524.9 393.7,524.0 394.7,523.1 395.7,522.3 396.7,521.7 397.7,521.1 398.7,520.6 399.7,520.3 400.7,520.2 401.7,520.2 402.7,520.3 403.7,520.7 404.7,521.1 405.7,521.8 406.7,522.5 407.7,523.4 408.7,524.4 409.7,525.4 410.7,526.5 411.7,527.6 412.7,528.8 413.7,529.9 414.7,531.0 415.7,532.1 416.7,533.2 417.7,534.2 418.7,535.1 419.7,535.9 420.7,536.7 421.7,537.4 422.7,538.1 423.7,538.6 424.7,539.1 425.7,539.6 426.7,539.9 427.7,540.3 428.7,540.5 429.7,540.8 430.7,541.0 431.7,541.2 432.7,541.3 433.7,541.4 434.7,541.5 435.7,541.6 436.7,541.7 437.7,541.7 438.7,541.8 439.7,541.8 440.7,541.9 441.7,541.9 442.7,541.9 443.7,542.0 444.7,542.0 445.7,542.0 446.7,542.0 447.7,542.1 448.7,542.1 449.7,542.1 450.7,542.1 451.7,542.1 452.7,542.2" stroke="#76c043" stroke-width="1.5" fill="none" stroke-dasharray="1.2,2.6"/>
<path d="M257.7,584.0 258.7,584.0 259.7,584.1 260.7,584.1 261.7,584.1 262.7,584.2 263.7,584.2 264.7,584.2 265.7,584.2 266.7,584.3 267.7,584.3 268.7,584.3 269.7,584.4 270.7,584.4 271.7,584.4 272.7,584.5 273.7,584.5 274.7,584.5 275.7,584.5 276.7,584.6 277.7,584.6 278.7,584.6 279.7,584.7 280.7,584.7 281.7,584.7 282.7,584.8 283.7,584.8 284.7,584.8 285.7,584.8 286.7,584.9 287.7,584.9 288.7,584.9 289.7,585.0 290.7,585.0 291.7,585.0 292.7,585.1 293.7,585.1 294.7,585.1 295.7,585.1 296.7,585.2 297.7,585.2 298.7,585.2 299.7,585.3 300.7,585.3 301.7,585.3 302.7,585.4 303.7,585.4 304.7,585.4 305.7,585.4 306.7,585.5 307.7,585.5 308.7,585.5 309.7,585.6 310.7,585.6 311.7,585.6 312.7,585.7 313.7,585.7 314.7,585.7 315.7,585.7 316.7,585.8 317.7,585.8 318.7,585.8 319.7,585.9 320.7,585.9 321.7,585.9 322.7,586.0 323.7,586.0 324.7,586.0 325.7,586.0 326.7,586.1 327.7,586.1 328.7,586.1 329.7,586.2 330.7,586.2 331.7,586.2 332.7,586.3 333.7,586.3 334.7,586.3 335.7,586.3 336.7,586.4 337.7,586.4 338.7,586.4 339.7,586.5 340.7,586.5 341.7,586.5 342.7,586.6 343.7,586.6 344.7,586.6 345.7,586.7 346.7,586.7 347.7,586.7 348.7,586.7 349.7,586.8 350.7,586.8 351.7,586.8 352.7,586.9 353.7,586.9 354.7,586.9 355.7,587.0 356.7,587.0 357.7,587.0 358.7,587.0 359.7,587.1 360.7,587.1 361.7,587.1 362.7,587.2 363.7,587.2 364.7,587.2 365.7,587.3 366.7,587.3 367.7,587.3 368.7,587.3 369.7,587.4 370.7,587.4 371.7,587.4 372.7,587.5 373.7,587.5 374.7,587.5 375.7,587.6 376.7,587.6 377.7,587.6 378.7,587.6 379.7,587.7 380.7,587.7 381.7,587.7 382.7,587.8 383.7,587.8 384.7,587.8 385.7,587.9 386.7,587.9 387.7,587.9 388.7,587.9 389.7,588.0 390.7,588.0 391.7,588.0 392.7,588.1 393.7,588.1 394.7,588.1 395.7,588.2 396.7,588.2 397.7,588.2 398.7,588.2 399.7,588.3 400.7,588.3 401.7,588.3 402.7,588.4 403.7,588.4 404.7,588.4 405.7,588.5 406.7,588.5 407.7,588.5 408.7,588.5 409.7,588.6 410.7,588.6 411.7,588.6 412.7,588.7 413.7,588.7 414.7,588.7 415.7,588.8 416.7,588.8 417.7,588.8 418.7,588.8 419.7,588.9 420.7,588.9 421.7,588.9 422.7,589.0 423.7,589.0 424.7,589.0 425.7,589.1 426.7,589.1 427.7,589.1 428.7,589.2 429.7,589.2 430.7,589.2 431.7,589.2 432.7,589.3 433.7,589.3 434.7,589.3 435.7,589.4 436.7,589.4 437.7,589.4 438.7,589.5 439.7,589.5 440.7,589.5 441.7,589.5 442.7,589.6 443.7,589.6 444.7,589.6 445.7,589.7 446.7,589.7 447.7,589.7 448.7,589.8 449.7,589.8 450.7,589.8 451.7,589.8 452.7,589.9" stroke="#cc1f2b" stroke-width="1.5" fill="none" stroke-dasharray="1.4,2.4"/>
<path d="M257.7,583.5 258.7,583.5 259.7,583.5 260.7,583.5 261.7,583.4 262.7,583.4 263.7,583.4 264.7,583.3 265.7,583.3 266.7,583.2 267.7,583.1 268.7,583.1 269.7,583.0 270.7,583.0 271.7,582.9 272.7,582.8 273.7,582.7 274.7,582.7 275.7,582.6 276.7,582.5 277.7,582.4 278.7,582.4 279.7,582.3 280.7,582.2 281.7,582.1 282.7,582.1 283.7,582.0 284.7,582.0 285.7,581.9 286.7,581.9 287.7,581.9 288.7,581.8 289.7,581.8 290.7,581.8 291.7,581.8 292.7,581.8 293.7,581.9 294.7,581.9 295.7,582.0 296.7,582.0 297.7,582.1 298.7,582.2 299.7,582.2 300.7,582.3 301.7,582.4 302.7,582.5 303.7,582.6 304.7,582.8 305.7,582.9 306.7,583.0 307.7,583.1 308.7,583.3 309.7,583.4 310.7,583.5 311.7,583.7 312.7,583.8 313.7,584.0 314.7,584.1 315.7,584.2 316.7,584.3 317.7,584.5 318.7,584.6 319.7,584.7 320.7,584.8 321.7,584.9 322.7,585.0 323.7,585.1 324.7,585.2 325.7,585.3 326.7,585.4 327.7,585.5 328.7,585.5 329.7,585.6 330.7,585.7 331.7,585.7 332.7,585.8 333.7,585.8 334.7,585.8 335.7,585.9 336.7,585.9 337.7,585.9 338.7,585.9 339.7,585.9 340.7,585.9 341.7,585.9 342.7,585.9 343.7,585.9 344.7,585.8 345.7,585.8 346.7,585.8 347.7,585.7 348.7,585.7 349.7,585.6 350.7,585.5 351.7,585.4 352.7,585.4 353.7,585.3 354.7,585.2 355.7,585.1 356.7,585.0 357.7,584.8 358.7,584.7 359.7,584.6 360.7,584.5 361.7,584.4 362.7,584.2 363.7,584.1 364.7,584.0 365.7,583.9 366.7,583.8 367.7,583.7 368.7,583.6 369.7,583.5 370.7,583.4 371.7,583.3 372.7,583.2 373.7,583.2 374.7,583.1 375.7,583.1 376.7,583.1 377.7,583.0 378.7,583.0 379.7,583.1 380.7,583.1 381.7,583.1 382.7,583.2 383.7,583.3 384.7,583.4 385.7,583.5 386.7,583.6 387.7,583.7 388.7,583.9 389.7,584.0 390.7,584.2 391.7,584.3 392.7,584.5 393.7,584.7 394.7,584.8 395.7,585.0 396.7,585.2 397.7,585.4 398.7,585.6 399.7,585.8 400.7,585.9 401.7,586.1 402.7,586.3 403.7,586.5 404.7,586.6 405.7,586.8 406.7,586.9 407.7,587.1 408.7,587.2 409.7,587.4 410.7,587.5 411.7,587.6 412.7,587.8 413.7,587.9 414.7,588.0 415.7,588.1 416.7,588.2 417.7,588.3 418.7,588.4 419.7,588.4 420.7,588.5 421.7,588.6 422.7,588.7 423.7,588.7 424.7,588.8 425.7,588.8 426.7,588.9 427.7,588.9 428.7,589.0 429.7,589.0 430.7,589.1 431.7,589.1 432.7,589.2 433.7,589.2 434.7,589.3 435.7,589.3 436.7,589.3 437.7,589.4 438.7,589.4 439.7,589.4 440.7,589.5 441.7,589.5 442.7,589.5 443.7,589.6 444.7,589.6 445.7,589.6 446.7,589.7 447.7,589.7 448.7,589.7 449.7,589.8 450.7,589.8 451.7,589.8 452.7,589.9" stroke="#cc1f2b" stroke-width="1.5" fill="none" stroke-dasharray="1.4,2.4"/>
<path d="M257.7,583.4 258.7,583.4 259.7,583.4 260.7,583.3 261.7,583.3 262.7,583.2 263.7,583.2 264.7,583.1 265.7,583.1 266.7,583.0 267.7,582.9 268.7,582.9 269.7,582.8 270.7,582.7 271.7,582.6 272.7,582.5 273.7,582.3 274.7,582.2 275.7,582.1 276.7,581.9 277.7,581.8 278.7,581.6 279.7,581.4 280.7,581.2 281.7,581.0 282.7,580.8 283.7,580.6 284.7,580.3 285.7,580.1 286.7,579.8 287.7,579.5 288.7,579.2 289.7,578.9 290.7,578.6 291.7,578.2 292.7,577.9 293.7,577.5 294.7,577.1 295.7,576.7 296.7,576.3 297.7,575.9 298.7,575.5 299.7,575.1 300.7,574.7 301.7,574.2 302.7,573.9 303.7,573.5 304.7,573.1 305.7,572.8 306.7,572.5 307.7,572.2 308.7,571.9 309.7,571.7 310.7,571.6 311.7,571.5 312.7,571.4 313.7,571.4 314.7,571.4 315.7,571.6 316.7,571.7 317.7,571.9 318.7,572.2 319.7,572.5 320.7,572.9 321.7,573.3 322.7,573.8 323.7,574.2 324.7,574.7 325.7,575.3 326.7,575.8 327.7,576.4 328.7,577.0 329.7,577.5 330.7,578.1 331.7,578.6 332.7,579.2 333.7,579.7 334.7,580.2 335.7,580.7 336.7,581.1 337.7,581.6 338.7,582.0 339.7,582.3 340.7,582.7 341.7,583.0 342.7,583.3 343.7,583.5 344.7,583.7 345.7,583.9 346.7,584.1 347.7,584.2 348.7,584.3 349.7,584.3 350.7,584.4 351.7,584.4 352.7,584.4 353.7,584.4 354.7,584.3 355.7,584.3 356.7,584.2 357.7,584.1 358.7,583.9 359.7,583.8 360.7,583.6 361.7,583.4 362.7,583.2 363.7,583.0 364.7,582.8 365.7,582.5 366.7,582.2 367.7,581.9 368.7,581.6 369.7,581.3 370.7,580.9 371.7,580.5 372.7,580.1 373.7,579.7 374.7,579.2 375.7,578.7 376.7,578.2 377.7,577.7 378.7,577.1 379.7,576.6 380.7,576.0 381.7,575.3 382.7,574.7 383.7,574.1 384.7,573.4 385.7,572.8 386.7,572.1 387.7,571.5 388.7,570.8 389.7,570.2 390.7,569.6 391.7,569.0 392.7,568.5 393.7,568.0 394.7,567.6 395.7,567.3 396.7,567.0 397.7,566.7 398.7,566.6 399.7,566.5 400.7,566.6 401.7,566.7 402.7,566.9 403.7,567.2 404.7,567.5 405.7,568.0 406.7,568.5 407.7,569.1 408.7,569.7 409.7,570.5 410.7,571.2 411.7,572.0 412.7,572.8 413.7,573.7 414.7,574.6 415.7,575.4 416.7,576.3 417.7,577.2 418.7,578.0 419.7,578.9 420.7,579.7 421.7,580.5 422.7,581.2 423.7,581.9 424.7,582.6 425.7,583.3 426.7,583.9 427.7,584.4 428.7,585.0 429.7,585.4 430.7,585.9 431.7,586.3 432.7,586.7 433.7,587.0 434.7,587.3 435.7,587.6 436.7,587.8 437.7,588.0 438.7,588.2 439.7,588.4 440.7,588.6 441.7,588.7 442.7,588.9 443.7,589.0 444.7,589.1 445.7,589.2 446.7,589.2 447.7,589.3 448.7,589.4 449.7,589.5 450.7,589.5 451.7,589.6 452.7,589.6" stroke="#1a1a1a" stroke-width="0.9" fill="none"/>
<path d="M257.7,583.9 258.7,583.9 259.7,583.9 260.7,584.0 261.7,584.0 262.7,584.0 263.7,584.0 264.7,584.0 265.7,584.1 266.7,584.1 267.7,584.1 268.7,584.1 269.7,584.1 270.7,584.1 271.7,584.1 272.7,584.1 273.7,584.1 274.7,584.1 275.7,584.0 276.7,584.0 277.7,583.9 278.7,583.9 279.7,583.8 280.7,583.7 281.7,583.6 282.7,583.5 283.7,583.3 284.7,583.2 285.7,583.0 286.7,582.8 287.7,582.6 288.7,582.3 289.7,582.0 290.7,581.8 291.7,581.4 292.7,581.1 293.7,580.7 294.7,580.3 295.7,579.9 296.7,579.5 297.7,579.0 298.7,578.6 299.7,578.1 300.7,577.6 301.7,577.1 302.7,576.7 303.7,576.2 304.7,575.8 305.7,575.3 306.7,574.9 307.7,574.5 308.7,574.2 309.7,573.9 310.7,573.6 311.7,573.4 312.7,573.2 313.7,573.1 314.7,573.1 315.7,573.1 316.7,573.2 317.7,573.3 318.7,573.5 319.7,573.7 320.7,574.0 321.7,574.3 322.7,574.7 323.7,575.1 324.7,575.5 325.7,576.0 326.7,576.5 327.7,577.0 328.7,577.6 329.7,578.1 330.7,578.6 331.7,579.2 332.7,579.7 333.7,580.2 334.7,580.7 335.7,581.2 336.7,581.6 337.7,582.1 338.7,582.5 339.7,582.9 340.7,583.3 341.7,583.6 342.7,583.9 343.7,584.2 344.7,584.5 345.7,584.8 346.7,585.0 347.7,585.2 348.7,585.4 349.7,585.5 350.7,585.7 351.7,585.8 352.7,585.9 353.7,586.0 354.7,586.1 355.7,586.1 356.7,586.2 357.7,586.2 358.7,586.2 359.7,586.2 360.7,586.2 361.7,586.2 362.7,586.2 363.7,586.1 364.7,586.0 365.7,585.9 366.7,585.8 367.7,585.6 368.7,585.4 369.7,585.2 370.7,585.0 371.7,584.7 372.7,584.4 373.7,584.0 374.7,583.6 375.7,583.2 376.7,582.8 377.7,582.3 378.7,581.7 379.7,581.2 380.7,580.6 381.7,579.9 382.7,579.3 383.7,578.6 384.7,577.9 385.7,577.1 386.7,576.4 387.7,575.6 388.7,574.9 389.7,574.2 390.7,573.4 391.7,572.8 392.7,572.1 393.7,571.5 394.7,570.9 395.7,570.4 396.7,569.9 397.7,569.6 398.7,569.3 399.7,569.1 400.7,568.9 401.7,568.9 402.7,569.0 403.7,569.1 404.7,569.3 405.7,569.6 406.7,570.0 407.7,570.5 408.7,571.1 409.7,571.7 410.7,572.3 411.7,573.0 412.7,573.8 413.7,574.5 414.7,575.3 415.7,576.1 416.7,576.9 417.7,577.7 418.7,578.5 419.7,579.3 420.7,580.1 421.7,580.8 422.7,581.5 423.7,582.2 424.7,582.9 425.7,583.5 426.7,584.1 427.7,584.6 428.7,585.1 429.7,585.6 430.7,586.0 431.7,586.4 432.7,586.8 433.7,587.1 434.7,587.4 435.7,587.6 436.7,587.9 437.7,588.1 438.7,588.3 439.7,588.5 440.7,588.6 441.7,588.8 442.7,588.9 443.7,589.0 444.7,589.1 445.7,589.2 446.7,589.3 447.7,589.3 448.7,589.4 449.7,589.5 450.7,589.5 451.7,589.6 452.7,589.6" stroke="#4a7bd4" stroke-width="1.7" fill="none" stroke-dasharray="1.3,2.1"/>
<path d="M257.7,583.4 258.7,583.4 259.7,583.4 260.7,583.3 261.7,583.3 262.7,583.2 263.7,583.2 264.7,583.1 265.7,583.1 266.7,583.0 267.7,582.9 268.7,582.9 269.7,582.8 270.7,582.7 271.7,582.6 272.7,582.5 273.7,582.3 274.7,582.2 275.7,582.1 276.7,581.9 277.7,581.8 278.7,581.6 279.7,581.4 280.7,581.2 281.7,581.0 282.7,580.8 283.7,580.6 284.7,580.3 285.7,580.1 286.7,579.8 287.7,579.5 288.7,579.2 289.7,578.9 290.7,578.6 291.7,578.2 292.7,577.9 293.7,577.5 294.7,577.1 295.7,576.7 296.7,576.3 297.7,575.9 298.7,575.5 299.7,575.1 300.7,574.7 301.7,574.2 302.7,573.9 303.7,573.5 304.7,573.1 305.7,572.8 306.7,572.5 307.7,572.2 308.7,571.9 309.7,571.7 310.7,571.6 311.7,571.5 312.7,571.4 313.7,571.4 314.7,571.4 315.7,571.6 316.7,571.7 317.7,571.9 318.7,572.2 319.7,572.5 320.7,572.9 321.7,573.3 322.7,573.8 323.7,574.2 324.7,574.7 325.7,575.3 326.7,575.8 327.7,576.4 328.7,577.0 329.7,577.5 330.7,578.1 331.7,578.6 332.7,579.2 333.7,579.7 334.7,580.2 335.7,580.7 336.7,581.1 337.7,581.6 338.7,582.0 339.7,582.3 340.7,582.7 341.7,583.0 342.7,583.3 343.7,583.5 344.7,583.7 345.7,583.9 346.7,584.1 347.7,584.2 348.7,584.3 349.7,584.3 350.7,584.4 351.7,584.4 352.7,584.4 353.7,584.4 354.7,584.3 355.7,584.3 356.7,584.2 357.7,584.1 358.7,583.9 359.7,583.8 360.7,583.6 361.7,583.4 362.7,583.2 363.7,583.0 364.7,582.8 365.7,582.5 366.7,582.2 367.7,581.9 368.7,581.6 369.7,581.3 370.7,580.9 371.7,580.5 372.7,580.1 373.7,579.7 374.7,579.2 375.7,578.7 376.7,578.2 377.7,577.7 378.7,577.1 379.7,576.6 380.7,576.0 381.7,575.3 382.7,574.7 383.7,574.1 384.7,573.4 385.7,572.8 386.7,572.1 387.7,571.5 388.7,570.8 389.7,570.2 390.7,569.6 391.7,569.0 392.7,568.5 393.7,568.0 394.7,567.6 395.7,567.3 396.7,567.0 397.7,566.7 398.7,566.6 399.7,566.5 400.7,566.6 401.7,566.7 402.7,566.9 403.7,567.2 404.7,567.5 405.7,568.0 406.7,568.5 407.7,569.1 408.7,569.7 409.7,570.5 410.7,571.2 411.7,572.0 412.7,572.8 413.7,573.7 414.7,574.6 415.7,575.4 416.7,576.3 417.7,577.2 418.7,578.0 419.7,578.9 420.7,579.7 421.7,580.5 422.7,581.2 423.7,581.9 424.7,582.6 425.7,583.3 426.7,583.9 427.7,584.4 428.7,585.0 429.7,585.4 430.7,585.9 431.7,586.3 432.7,586.7 433.7,587.0 434.7,587.3 435.7,587.6 436.7,587.8 437.7,588.0 438.7,588.2 439.7,588.4 440.7,588.6 441.7,588.7 442.7,588.9 443.7,589.0 444.7,589.1 445.7,589.2 446.7,589.2 447.7,589.3 448.7,589.4 449.7,589.5 450.7,589.5 451.7,589.6 452.7,589.6" stroke="#76c043" stroke-width="1.5" fill="none" stroke-dasharray="1.2,2.6"/>
<path d="M257.7,630.6 258.7,630.6 259.7,630.7 260.7,630.7 261.7,630.7 262.7,630.7 263.7,630.8 264.7,630.8 265.7,630.8 266.7,630.8 267.7,630.9 268.7,630.9 269.7,630.9 270.7,630.9 271.7,631.0 272.7,631.0 273.7,631.0 274.7,631.0 275.7,631.1 276.7,631.1 277.7,631.1 278.7,631.1 279.7,631.2 280.7,631.2 281.7,631.2 282.7,631.2 283.7,631.3 284.7,631.3 285.7,631.3 286.7,631.3 287.7,631.4 288.7,631.4 289.7,631.4 290.7,631.4 291.7,631.5 292.7,631.5 293.7,631.5 294.7,631.5 295.7,631.6 296.7,631.6 297.7,631.6 298.7,631.6 299.7,631.7 300.7,631.7 301.7,631.7 302.7,631.7 303.7,631.8 304.7,631.8 305.7,631.8 306.7,631.8 307.7,631.9 308.7,631.9 309.7,631.9 310.7,631.9 311.7,632.0 312.7,632.0 313.7,632.0 314.7,632.0 315.7,632.1 316.7,632.1 317.7,632.1 318.7,632.1 319.7,632.2 320.7,632.2 321.7,632.2 322.7,632.2 323.7,632.3 324.7,632.3 325.7,632.3 326.7,632.3 327.7,632.4 328.7,632.4 329.7,632.4 330.7,632.4 331.7,632.5 332.7,632.5 333.7,632.5 334.7,632.5 335.7,632.6 336.7,632.6 337.7,632.6 338.7,632.6 339.7,632.7 340.7,632.7 341.7,632.7 342.7,632.7 343.7,632.8 344.7,632.8 345.7,632.8 346.7,632.8 347.7,632.9 348.7,632.9 349.7,632.9 350.7,632.9 351.7,633.0 352.7,633.0 353.7,633.0 354.7,633.0 355.7,633.1 356.7,633.1 357.7,633.1 358.7,633.1 359.7,633.2 360.7,633.2 361.7,633.2 362.7,633.2 363.7,633.3 364.7,633.3 365.7,633.3 366.7,633.3 367.7,633.4 368.7,633.4 369.7,633.4 370.7,633.4 371.7,633.5 372.7,633.5 373.7,633.5 374.7,633.5 375.7,633.6 376.7,633.6 377.7,633.6 378.7,633.6 379.7,633.7 380.7,633.7 381.7,633.7 382.7,633.7 383.7,633.8 384.7,633.8 385.7,633.8 386.7,633.8 387.7,633.9 388.7,633.9 389.7,633.9 390.7,633.9 391.7,634.0 392.7,634.0 393.7,634.0 394.7,634.0 395.7,634.1 396.7,634.1 397.7,634.1 398.7,634.1 399.7,634.2 400.7,634.2 401.7,634.2 402.7,634.2 403.7,634.3 404.7,634.3 405.7,634.3 406.7,634.3 407.7,634.4 408.7,634.4 409.7,634.4 410.7,634.4 411.7,634.5 412.7,634.5 413.7,634.5 414.7,634.5 415.7,634.6 416.7,634.6 417.7,634.6 418.7,634.6 419.7,634.7 420.7,634.7 421.7,634.7 422.7,634.7 423.7,634.8 424.7,634.8 425.7,634.8 426.7,634.8 427.7,634.9 428.7,634.9 429.7,634.9 430.7,634.9 431.7,635.0 432.7,635.0 433.7,635.0 434.7,635.0 435.7,635.1 436.7,635.1 437.7,635.1 438.7,635.1 439.7,635.2 440.7,635.2 441.7,635.2 442.7,635.2 443.7,635.3 444.7,635.3 445.7,635.3 446.7,635.3 447.7,635.4 448.7,635.4" stroke="#cc1f2b" stroke-width="1.5" fill="none" stroke-dasharray="1.4,2.4"/>
<path d="M257.7,630.2 258.7,630.2 259.7,630.2 260.7,630.2 261.7,630.1 262.7,630.1 263.7,630.1 264.7,630.0 265.7,629.9 266.7,629.9 267.7,629.8 268.7,629.7 269.7,629.7 270.7,629.6 271.7,629.5 272.7,629.4 273.7,629.3 274.7,629.2 275.7,629.1 276.7,629.0 277.7,628.9 278.7,628.8 279.7,628.7 280.7,628.7 281.7,628.6 282.7,628.5 283.7,628.4 284.7,628.3 285.7,628.3 286.7,628.2 287.7,628.1 288.7,628.1 289.7,628.1 290.7,628.1 291.7,628.1 292.7,628.1 293.7,628.1 294.7,628.1 295.7,628.2 296.7,628.2 297.7,628.3 298.7,628.4 299.7,628.5 300.7,628.6 301.7,628.7 302.7,628.8 303.7,628.9 304.7,629.1 305.7,629.2 306.7,629.3 307.7,629.5 308.7,629.6 309.7,629.8 310.7,629.9 311.7,630.1 312.7,630.2 313.7,630.3 314.7,630.5 315.7,630.6 316.7,630.8 317.7,630.9 318.7,631.0 319.7,631.1 320.7,631.2 321.7,631.3 322.7,631.4 323.7,631.5 324.7,631.6 325.7,631.7 326.7,631.8 327.7,631.9 328.7,631.9 329.7,632.0 330.7,632.0 331.7,632.1 332.7,632.1 333.7,632.2 334.7,632.2 335.7,632.2 336.7,632.2 337.7,632.3 338.7,632.3 339.7,632.3 340.7,632.3 341.7,632.3 342.7,632.3 343.7,632.2 344.7,632.2 345.7,632.2 346.7,632.1 347.7,632.1 348.7,632.0 349.7,632.0 350.7,631.9 351.7,631.8 352.7,631.7 353.7,631.6 354.7,631.5 355.7,631.4 356.7,631.3 357.7,631.2 358.7,631.1 359.7,630.9 360.7,630.8 361.7,630.7 362.7,630.5 363.7,630.4 364.7,630.3 365.7,630.1 366.7,630.0 367.7,629.8 368.7,629.7 369.7,629.6 370.7,629.5 371.7,629.4 372.7,629.3 373.7,629.2 374.7,629.1 375.7,629.1 376.7,629.1 377.7,629.0 378.7,629.0 379.7,629.0 380.7,629.1 381.7,629.1 382.7,629.2 383.7,629.3 384.7,629.4 385.7,629.5 386.7,629.6 387.7,629.7 388.7,629.9 389.7,630.0 390.7,630.2 391.7,630.4 392.7,630.6 393.7,630.7 394.7,630.9 395.7,631.1 396.7,631.3 397.7,631.5 398.7,631.7 399.7,631.9 400.7,632.1 401.7,632.2 402.7,632.4 403.7,632.6 404.7,632.7 405.7,632.9 406.7,633.0 407.7,633.2 408.7,633.3 409.7,633.4 410.7,633.6 411.7,633.7 412.7,633.8 413.7,633.9 414.7,634.0 415.7,634.1 416.7,634.1 417.7,634.2 418.7,634.3 419.7,634.4 420.7,634.4 421.7,634.5 422.7,634.5 423.7,634.6 424.7,634.6 425.7,634.7 426.7,634.7 427.7,634.7 428.7,634.8 429.7,634.8 430.7,634.9 431.7,634.9 432.7,634.9 433.7,634.9 434.7,635.0 435.7,635.0 436.7,635.0 437.7,635.1 438.7,635.1 439.7,635.1 440.7,635.1 441.7,635.2 442.7,635.2 443.7,635.2 444.7,635.3 445.7,635.3 446.7,635.3 447.7,635.3 448.7,635.4" stroke="#cc1f2b" stroke-width="1.5" fill="none" stroke-dasharray="1.4,2.4"/>
<path d="M257.7,630.1 258.7,630.1 259.7,630.1 260.7,630.1 261.7,630.0 262.7,630.0 263.7,629.9 264.7,629.9 265.7,629.8 266.7,629.8 267.7,629.7 268.7,629.6 269.7,629.5 270.7,629.5 271.7,629.4 272.7,629.3 273.7,629.2 274.7,629.1 275.7,629.0 276.7,628.8 277.7,628.7 278.7,628.6 279.7,628.5 280.7,628.4 281.7,628.3 282.7,628.1 283.7,628.0 284.7,627.9 285.7,627.7 286.7,627.6 287.7,627.4 288.7,627.2 289.7,627.0 290.7,626.8 291.7,626.5 292.7,626.2 293.7,625.9 294.7,625.5 295.7,625.1 296.7,624.6 297.7,624.1 298.7,623.5 299.7,622.9 300.7,622.2 301.7,621.4 302.7,620.6 303.7,619.7 304.7,618.8 305.7,617.9 306.7,616.9 307.7,616.0 308.7,615.0 309.7,614.1 310.7,613.3 311.7,612.5 312.7,611.9 313.7,611.3 314.7,610.9 315.7,610.6 316.7,610.5 317.7,610.5 318.7,610.7 319.7,611.1 320.7,611.6 321.7,612.3 322.7,613.1 323.7,614.0 324.7,615.0 325.7,616.1 326.7,617.2 327.7,618.4 328.7,619.5 329.7,620.7 330.7,621.8 331.7,622.9 332.7,623.9 333.7,624.9 334.7,625.8 335.7,626.6 336.7,627.4 337.7,628.0 338.7,628.6 339.7,629.2 340.7,629.6 341.7,630.0 342.7,630.3 343.7,630.6 344.7,630.8 345.7,631.0 346.7,631.1 347.7,631.2 348.7,631.3 349.7,631.3 350.7,631.3 351.7,631.3 352.7,631.3 353.7,631.2 354.7,631.1 355.7,631.0 356.7,630.9 357.7,630.8 358.7,630.7 359.7,630.6 360.7,630.4 361.7,630.3 362.7,630.2 363.7,630.0 364.7,629.8 365.7,629.7 366.7,629.5 367.7,629.3 368.7,629.1 369.7,629.0 370.7,628.8 371.7,628.5 372.7,628.3 373.7,628.1 374.7,627.8 375.7,627.5 376.7,627.2 377.7,626.8 378.7,626.4 379.7,625.9 380.7,625.3 381.7,624.7 382.7,624.0 383.7,623.2 384.7,622.3 385.7,621.4 386.7,620.3 387.7,619.1 388.7,617.9 389.7,616.6 390.7,615.2 391.7,613.7 392.7,612.3 393.7,610.8 394.7,609.3 395.7,607.9 396.7,606.5 397.7,605.3 398.7,604.2 399.7,603.2 400.7,602.5 401.7,601.9 402.7,601.6 403.7,601.6 404.7,601.8 405.7,602.2 406.7,602.9 407.7,603.8 408.7,604.9 409.7,606.3 410.7,607.7 411.7,609.3 412.7,611.0 413.7,612.7 414.7,614.5 415.7,616.2 416.7,617.9 417.7,619.6 418.7,621.2 419.7,622.8 420.7,624.2 421.7,625.5 422.7,626.7 423.7,627.9 424.7,628.9 425.7,629.7 426.7,630.5 427.7,631.2 428.7,631.8 429.7,632.3 430.7,632.8 431.7,633.1 432.7,633.5 433.7,633.7 434.7,634.0 435.7,634.1 436.7,634.3 437.7,634.4 438.7,634.6 439.7,634.6 440.7,634.7 441.7,634.8 442.7,634.9 443.7,634.9 444.7,635.0 445.7,635.0 446.7,635.1 447.7,635.1 448.7,635.1" stroke="#1a1a1a" stroke-width="0.9" fill="none"/>
<path d="M257.7,630.5 258.7,630.5 259.7,630.6 260.7,630.6 261.7,630.6 262.7,630.6 263.7,630.6 264.7,630.7 265.7,630.7 266.7,630.7 267.7,630.7 268.7,630.7 269.7,630.8 270.7,630.8 271.7,630.8 272.7,630.8 273.7,630.8 274.7,630.9 275.7,630.9 276.7,630.9 277.7,630.9 278.7,630.9 279.7,630.9 280.7,630.9 281.7,630.9 282.7,630.9 283.7,630.8 284.7,630.8 285.7,630.8 286.7,630.7 287.7,630.6 288.7,630.5 289.7,630.3 290.7,630.1 291.7,629.9 292.7,629.6 293.7,629.3 294.7,628.9 295.7,628.5 296.7,628.0 297.7,627.4 298.7,626.8 299.7,626.1 300.7,625.3 301.7,624.4 302.7,623.5 303.7,622.5 304.7,621.5 305.7,620.5 306.7,619.4 307.7,618.3 308.7,617.3 309.7,616.3 310.7,615.3 311.7,614.4 312.7,613.6 313.7,613.0 314.7,612.4 315.7,612.0 316.7,611.8 317.7,611.7 318.7,611.9 319.7,612.1 320.7,612.6 321.7,613.2 322.7,613.9 323.7,614.7 324.7,615.7 325.7,616.7 326.7,617.8 327.7,618.9 328.7,620.0 329.7,621.1 330.7,622.2 331.7,623.2 332.7,624.2 333.7,625.2 334.7,626.1 335.7,626.9 336.7,627.7 337.7,628.4 338.7,629.0 339.7,629.5 340.7,630.0 341.7,630.4 342.7,630.8 343.7,631.1 344.7,631.4 345.7,631.6 346.7,631.8 347.7,632.0 348.7,632.1 349.7,632.2 350.7,632.3 351.7,632.4 352.7,632.5 353.7,632.6 354.7,632.6 355.7,632.7 356.7,632.7 357.7,632.7 358.7,632.8 359.7,632.8 360.7,632.8 361.7,632.8 362.7,632.8 363.7,632.9 364.7,632.9 365.7,632.9 366.7,632.9 367.7,632.8 368.7,632.8 369.7,632.8 370.7,632.7 371.7,632.6 372.7,632.5 373.7,632.4 374.7,632.2 375.7,632.0 376.7,631.7 377.7,631.4 378.7,631.0 379.7,630.5 380.7,629.9 381.7,629.3 382.7,628.6 383.7,627.7 384.7,626.8 385.7,625.7 386.7,624.5 387.7,623.3 388.7,621.9 389.7,620.4 390.7,618.9 391.7,617.3 392.7,615.7 393.7,614.0 394.7,612.4 395.7,610.8 396.7,609.3 397.7,607.9 398.7,606.6 399.7,605.5 400.7,604.6 401.7,603.9 402.7,603.4 403.7,603.2 404.7,603.3 405.7,603.6 406.7,604.2 407.7,605.0 408.7,606.0 409.7,607.2 410.7,608.6 411.7,610.1 412.7,611.7 413.7,613.3 414.7,615.0 415.7,616.7 416.7,618.4 417.7,620.0 418.7,621.6 419.7,623.1 420.7,624.5 421.7,625.8 422.7,627.0 423.7,628.0 424.7,629.0 425.7,629.9 426.7,630.6 427.7,631.3 428.7,631.9 429.7,632.4 430.7,632.8 431.7,633.2 432.7,633.5 433.7,633.8 434.7,634.0 435.7,634.2 436.7,634.3 437.7,634.5 438.7,634.6 439.7,634.7 440.7,634.8 441.7,634.8 442.7,634.9 443.7,634.9 444.7,635.0 445.7,635.0 446.7,635.1 447.7,635.1 448.7,635.2" stroke="#4a7bd4" stroke-width="1.7" fill="none" stroke-dasharray="1.3,2.1"/>
<path d="M257.7,630.1 258.7,630.1 259.7,630.1 260.7,630.1 261.7,630.0 262.7,630.0 263.7,629.9 264.7,629.9 265.7,629.8 266.7,629.8 267.7,629.7 268.7,629.6 269.7,629.5 270.7,629.5 271.7,629.4 272.7,629.3 273.7,629.2 274.7,629.1 275.7,629.0 276.7,628.8 277.7,628.7 278.7,628.6 279.7,628.5 280.7,628.4 281.7,628.3 282.7,628.1 283.7,628.0 284.7,627.9 285.7,627.7 286.7,627.6 287.7,627.4 288.7,627.2 289.7,627.0 290.7,626.8 291.7,626.5 292.7,626.2 293.7,625.9 294.7,625.5 295.7,625.1 296.7,624.6 297.7,624.1 298.7,623.5 299.7,622.9 300.7,622.2 301.7,621.4 302.7,620.6 303.7,619.7 304.7,618.8 305.7,617.9 306.7,616.9 307.7,616.0 308.7,615.0 309.7,614.1 310.7,613.3 311.7,612.5 312.7,611.9 313.7,611.3 314.7,610.9 315.7,610.6 316.7,610.5 317.7,610.5 318.7,610.7 319.7,611.1 320.7,611.6 321.7,612.3 322.7,613.1 323.7,614.0 324.7,615.0 325.7,616.1 326.7,617.2 327.7,618.4 328.7,619.5 329.7,620.7 330.7,621.8 331.7,622.9 332.7,623.9 333.7,624.9 334.7,625.8 335.7,626.6 336.7,627.4 337.7,628.0 338.7,628.6 339.7,629.2 340.7,629.6 341.7,630.0 342.7,630.3 343.7,630.6 344.7,630.8 345.7,631.0 346.7,631.1 347.7,631.2 348.7,631.3 349.7,631.3 350.7,631.3 351.7,631.3 352.7,631.3 353.7,631.2 354.7,631.1 355.7,631.0 356.7,630.9 357.7,630.8 358.7,630.7 359.7,630.6 360.7,630.4 361.7,630.3 362.7,630.2 363.7,630.0 364.7,629.8 365.7,629.7 366.7,629.5 367.7,629.3 368.7,629.1 369.7,629.0 370.7,628.8 371.7,628.5 372.7,628.3 373.7,628.1 374.7,627.8 375.7,627.5 376.7,627.2 377.7,626.8 378.7,626.4 379.7,625.9 380.7,625.3 381.7,624.7 382.7,624.0 383.7,623.2 384.7,622.3 385.7,621.4 386.7,620.3 387.7,619.1 388.7,617.9 389.7,616.6 390.7,615.2 391.7,613.7 392.7,612.3 393.7,610.8 394.7,609.3 395.7,607.9 396.7,606.5 397.7,605.3 398.7,604.2 399.7,603.2 400.7,602.5 401.7,601.9 402.7,601.6 403.7,601.6 404.7,601.8 405.7,602.2 406.7,602.9 407.7,603.8 408.7,604.9 409.7,606.3 410.7,607.7 411.7,609.3 412.7,611.0 413.7,612.7 414.7,614.5 415.7,616.2 416.7,617.9 417.7,619.6 418.7,621.2 419.7,622.8 420.7,624.2 421.7,625.5 422.7,626.7 423.7,627.9 424.7,628.9 425.7,629.7 426.7,630.5 427.7,631.2 428.7,631.8 429.7,632.3 430.7,632.8 431.7,633.1 432.7,633.5 433.7,633.7 434.7,634.0 435.7,634.1 436.7,634.3 437.7,634.4 438.7,634.6 439.7,634.6 440.7,634.7 441.7,634.8 442.7,634.9 443.7,634.9 444.7,635.0 445.7,635.0 446.7,635.1 447.7,635.1 448.7,635.1" stroke="#76c043" stroke-width="1.5" fill="none" stroke-dasharray="1.2,2.6"/>
<text transform="translate(264.30,460.30) scale(1,1.0)" font-size="9.4" fill="#222" textLength="69.50" lengthAdjust="spacingAndGlyphs">Ni<tspan dy="2.82" font-size="6.58">1</tspan><tspan dy="-2.82">Pd</tspan><tspan dy="2.82" font-size="6.58">1</tspan><tspan dy="-2.82">/CeO</tspan><tspan dy="2.82" font-size="6.58">2</tspan><tspan dy="-2.82">_150</tspan></text>
<text transform="translate(264.30,516.00) scale(1,1.0)" font-size="9.4" fill="#222" textLength="69.50" lengthAdjust="spacingAndGlyphs">Ni<tspan dy="2.82" font-size="6.58">1</tspan><tspan dy="-2.82">Pd</tspan><tspan dy="2.82" font-size="6.58">1</tspan><tspan dy="-2.82">/CeO</tspan><tspan dy="2.82" font-size="6.58">2</tspan><tspan dy="-2.82">_200</tspan></text>
<text transform="translate(264.30,560.70) scale(1,1.0)" font-size="9.4" fill="#222" textLength="69.50" lengthAdjust="spacingAndGlyphs">Ni<tspan dy="2.82" font-size="6.58">1</tspan><tspan dy="-2.82">Pd</tspan><tspan dy="2.82" font-size="6.58">1</tspan><tspan dy="-2.82">/CeO</tspan><tspan dy="2.82" font-size="6.58">2</tspan><tspan dy="-2.82">_250</tspan></text>
<text transform="translate(264.30,604.30) scale(1,1.0)" font-size="9.4" fill="#222" textLength="69.50" lengthAdjust="spacingAndGlyphs">Ni<tspan dy="2.82" font-size="6.58">1</tspan><tspan dy="-2.82">Pd</tspan><tspan dy="2.82" font-size="6.58">1</tspan><tspan dy="-2.82">/CeO</tspan><tspan dy="2.82" font-size="6.58">2</tspan><tspan dy="-2.82">_300</tspan></text>
<text transform="translate(377.30,460.30) scale(1,1.0)" font-size="9.4" fill="#222" textLength="66.20" lengthAdjust="spacingAndGlyphs">Pd<tspan dy="-3.57" font-size="5.83">2+</tspan><tspan dy="3.57">/Pd</tspan><tspan dy="-3.57" font-size="5.83">0</tspan><tspan dy="3.57"> = 17/83</tspan></text>
<text transform="translate(377.00,516.00) scale(1,1.0)" font-size="9.4" fill="#222" textLength="66.30" lengthAdjust="spacingAndGlyphs">Pd<tspan dy="-3.57" font-size="5.83">2+</tspan><tspan dy="3.57">/Pd</tspan><tspan dy="-3.57" font-size="5.83">0</tspan><tspan dy="3.57"> = 19/81</tspan></text>
<text transform="translate(377.00,560.70) scale(1,1.0)" font-size="9.4" fill="#222" textLength="66.30" lengthAdjust="spacingAndGlyphs">Pd<tspan dy="-3.57" font-size="5.83">2+</tspan><tspan dy="3.57">/Pd</tspan><tspan dy="-3.57" font-size="5.83">0</tspan><tspan dy="3.57"> = 13/87</tspan></text>
<text transform="translate(377.00,597.90) scale(1,1.0)" font-size="9.4" fill="#222" textLength="66.30" lengthAdjust="spacingAndGlyphs">Pd<tspan dy="-3.57" font-size="5.83">2+</tspan><tspan dy="3.57">/Pd</tspan><tspan dy="-3.57" font-size="5.83">0</tspan><tspan dy="3.57"> = 19/81</tspan></text>
<text transform="translate(306.80,470.80) scale(1,1.0)" font-size="9.4" fill="#4a7bd4" textLength="34.00" lengthAdjust="spacingAndGlyphs">Pd<tspan dy="-3.57" font-size="6.58">0</tspan><tspan dy="3.57"> 3</tspan><tspan font-style="italic">d</tspan><tspan dy="2.82" font-size="6.58">3/2</tspan></text>
<text transform="translate(414.10,474.90) scale(1,1.0)" font-size="9.4" fill="#4a7bd4" textLength="34.80" lengthAdjust="spacingAndGlyphs">Pd<tspan dy="-3.57" font-size="6.58">0</tspan><tspan dy="3.57"> 3</tspan><tspan font-style="italic">d</tspan><tspan dy="2.82" font-size="6.58">5/2</tspan></text>
<text transform="translate(259.60,478.70) scale(1,1.0)" font-size="9.4" fill="#cc1f2b" textLength="38.30" lengthAdjust="spacingAndGlyphs">Pd<tspan dy="-3.57" font-size="6.58">2+</tspan><tspan dy="3.57"> 3</tspan><tspan font-style="italic">d</tspan><tspan dy="2.82" font-size="6.58">3/2</tspan></text>
<text transform="translate(335.50,483.30) scale(1,1.0)" font-size="9.4" fill="#cc1f2b" textLength="39.00" lengthAdjust="spacingAndGlyphs">Pd<tspan dy="-3.57" font-size="6.58">2+</tspan><tspan dy="3.57"> 3</tspan><tspan font-style="italic">d</tspan><tspan dy="2.82" font-size="6.58">5/2</tspan></text>
<circle cx="473.10" cy="425.80" r="8.00" fill="#d5dbe6" stroke="none" stroke-width="1" />
<text transform="translate(473.10,429.20) scale(1,1.0)" font-size="9.6" fill="#111" font-weight="bold" text-anchor="middle">iii</text>
<text transform="translate(487.90,428.40) scale(1,1.0)" font-size="10.4" fill="#000" font-weight="bold" textLength="149.50" lengthAdjust="spacingAndGlyphs">XPS spectra of Ni 2<tspan font-style="italic">p</tspan> region of</text>
<text transform="translate(487.90,440.20) scale(1,1.0)" font-size="10.4" fill="#000" font-weight="bold" textLength="70.70" lengthAdjust="spacingAndGlyphs">Ni<tspan dy="3.12" font-size="6.66">1</tspan><tspan dy="-3.12">Pd</tspan><tspan dy="3.12" font-size="6.66">1</tspan><tspan dy="-3.12">/CeO</tspan><tspan dy="3.12" font-size="6.66">2</tspan><tspan dy="-3.12">_</tspan><tspan font-style="italic">x</tspan></text>
<line x1="481.00" y1="448.60" x2="677.20" y2="448.60" stroke="#222" stroke-width="1.0" />
<line x1="677.20" y1="448.60" x2="677.20" y2="645.80" stroke="#222" stroke-width="1.0" />
<line x1="481.00" y1="448.10" x2="481.00" y2="646.30" stroke="#333" stroke-width="1.4" />
<line x1="480.50" y1="645.80" x2="677.70" y2="645.80" stroke="#333" stroke-width="1.4" />
<line x1="481.00" y1="645.80" x2="481.00" y2="648.60" stroke="#333" stroke-width="1.0" />
<line x1="491.90" y1="645.80" x2="491.90" y2="648.60" stroke="#333" stroke-width="1.0" />
<line x1="502.80" y1="645.80" x2="502.80" y2="648.60" stroke="#333" stroke-width="1.0" />
<line x1="513.70" y1="645.80" x2="513.70" y2="648.60" stroke="#333" stroke-width="1.0" />
<line x1="524.60" y1="645.80" x2="524.60" y2="648.60" stroke="#333" stroke-width="1.0" />
<line x1="535.50" y1="645.80" x2="535.50" y2="648.60" stroke="#333" stroke-width="1.0" />
<line x1="546.40" y1="645.80" x2="546.40" y2="648.60" stroke="#333" stroke-width="1.0" />
<line x1="557.30" y1="645.80" x2="557.30" y2="648.60" stroke="#333" stroke-width="1.0" />
<line x1="568.20" y1="645.80" x2="568.20" y2="648.60" stroke="#333" stroke-width="1.0" />
<line x1="579.10" y1="645.80" x2="579.10" y2="648.60" stroke="#333" stroke-width="1.0" />
<line x1="590.00" y1="645.80" x2="590.00" y2="648.60" stroke="#333" stroke-width="1.0" />
<line x1="600.90" y1="645.80" x2="600.90" y2="648.60" stroke="#333" stroke-width="1.0" />
<line x1="611.80" y1="645.80" x2="611.80" y2="648.60" stroke="#333" stroke-width="1.0" />
<line x1="622.70" y1="645.80" x2="622.70" y2="648.60" stroke="#333" stroke-width="1.0" />
<line x1="633.60" y1="645.80" x2="633.60" y2="648.60" stroke="#333" stroke-width="1.0" />
<line x1="644.50" y1="645.80" x2="644.50" y2="648.60" stroke="#333" stroke-width="1.0" />
<line x1="655.40" y1="645.80" x2="655.40" y2="648.60" stroke="#333" stroke-width="1.0" />
<line x1="666.30" y1="645.80" x2="666.30" y2="648.60" stroke="#333" stroke-width="1.0" />
<line x1="677.20" y1="645.80" x2="677.20" y2="648.60" stroke="#333" stroke-width="1.0" />
<text transform="translate(481.00,660.80) scale(1,1.0)" font-size="10.2" fill="#222" text-anchor="middle">867</text>
<text transform="translate(513.70,660.80) scale(1,1.0)" font-size="10.2" fill="#222" text-anchor="middle">864</text>
<text transform="translate(546.40,660.80) scale(1,1.0)" font-size="10.2" fill="#222" text-anchor="middle">861</text>
<text transform="translate(579.10,660.80) scale(1,1.0)" font-size="10.2" fill="#222" text-anchor="middle">858</text>
<text transform="translate(611.80,660.80) scale(1,1.0)" font-size="10.2" fill="#222" text-anchor="middle">855</text>
<text transform="translate(644.50,660.80) scale(1,1.0)" font-size="10.2" fill="#222" text-anchor="middle">852</text>
<text transform="translate(677.20,660.80) scale(1,1.0)" font-size="10.2" fill="#222" text-anchor="middle">849</text>
<text transform="translate(578.50,674.40) scale(1,1.0)" font-size="9.6" fill="#222" text-anchor="middle" textLength="85.80" lengthAdjust="spacingAndGlyphs">Binding energy (eV)</text>
<text x="0.00" y="0.00" font-size="9.8" fill="#222" text-anchor="middle" textLength="81.40" lengthAdjust="spacingAndGlyphs" transform="translate(471.4,546.6) rotate(-90)">Intensity (arb. units)</text>
<path d="M481.0,493.0 482.0,493.0 483.0,493.0 484.0,493.0 485.0,493.0 486.0,493.0 487.0,493.0 488.0,493.0 489.0,493.0 490.0,493.0 491.0,493.0 492.0,493.0 493.0,493.0 494.0,493.0 495.0,493.0 496.0,493.0 497.0,493.0 498.0,493.0 499.0,493.0 500.0,492.9 501.0,492.9 502.0,492.9 503.0,492.9 504.0,492.9 505.0,492.9 506.0,492.9 507.0,492.9 508.0,492.9 509.0,492.9 510.0,492.9 511.0,492.9 512.0,492.9 513.0,492.9 514.0,492.9 515.0,492.9 516.0,492.9 517.0,492.9 518.0,492.9 519.0,492.9 520.0,492.9 521.0,492.9 522.0,492.9 523.0,492.9 524.0,492.9 525.0,492.9 526.0,492.9 527.0,492.9 528.0,492.9 529.0,492.9 530.0,492.9 531.0,492.9 532.0,492.9 533.0,492.9 534.0,492.9 535.0,492.9 536.0,492.9 537.0,492.9 538.0,492.9 539.0,492.8 540.0,492.8 541.0,492.8 542.0,492.8 543.0,492.8 544.0,492.8 545.0,492.8 546.0,492.8 547.0,492.8 548.0,492.8 549.0,492.8 550.0,492.8 551.0,492.8 552.0,492.8 553.0,492.8 554.0,492.8 555.0,492.8 556.0,492.8 557.0,492.8 558.0,492.8 559.0,492.8 560.0,492.8 561.0,492.8 562.0,492.8 563.0,492.8 564.0,492.8 565.0,492.8 566.0,492.8 567.0,492.8 568.0,492.8 569.0,492.8 570.0,492.8 571.0,492.8 572.0,492.8 573.0,492.8 574.0,492.8 575.0,492.8 576.0,492.8 577.0,492.7 578.0,492.7 579.0,492.7 580.0,492.7 581.0,492.7 582.0,492.7 583.0,492.7 584.0,492.7 585.0,492.7 586.0,492.7 587.0,492.7 588.0,492.7 589.0,492.7 590.0,492.7 591.0,492.7 592.0,492.7 593.0,492.7 594.0,492.7 595.0,492.7 596.0,492.7 597.0,492.7 598.0,492.7 599.0,492.7 600.0,492.7 601.0,492.7 602.0,492.7 603.0,492.7 604.0,492.7 605.0,492.7 606.0,492.7 607.0,492.7 608.0,492.7 609.0,492.7 610.0,492.7 611.0,492.7 612.0,492.7 613.0,492.7 614.0,492.6 615.0,492.6 616.0,492.6 617.0,492.6 618.0,492.6 619.0,492.6 620.0,492.6 621.0,492.6 622.0,492.6 623.0,492.6 624.0,492.6 625.0,492.6 626.0,492.6 627.0,492.6 628.0,492.6 629.0,492.6 630.0,492.6 631.0,492.6 632.0,492.6 633.0,492.6 634.0,492.6 635.0,492.6 636.0,492.6 637.0,492.6 638.0,492.6 639.0,492.6 640.0,492.6 641.0,492.6 642.0,492.6 643.0,492.6 644.0,492.6 645.0,492.6 646.0,492.6 647.0,492.6 648.0,492.6 649.0,492.6 650.0,492.6 651.0,492.6 652.0,492.6 653.0,492.5 654.0,492.5 655.0,492.5 656.0,492.5 657.0,492.5 658.0,492.5 659.0,492.5 660.0,492.5 661.0,492.5 662.0,492.5 663.0,492.5 664.0,492.5 665.0,492.5 666.0,492.5 667.0,492.5 668.0,492.5 669.0,492.5 670.0,492.5 671.0,492.5" stroke="#9a9a9a" stroke-width="1.3" fill="none" stroke-dasharray="2.2,1.6"/>
<path d="M481.0,493.0 482.0,493.0 483.0,493.0 484.0,493.0 485.0,493.0 486.0,493.0 487.0,493.0 488.0,493.0 489.0,493.0 490.0,493.0 491.0,493.0 492.0,493.0 493.0,493.0 494.0,493.0 495.0,493.0 496.0,493.0 497.0,493.0 498.0,493.0 499.0,493.0 500.0,492.9 501.0,492.9 502.0,492.9 503.0,492.9 504.0,492.9 505.0,492.9 506.0,492.9 507.0,492.9 508.0,492.9 509.0,492.9 510.0,492.9 511.0,492.9 512.0,492.9 513.0,492.9 514.0,492.9 515.0,492.9 516.0,492.9 517.0,492.9 518.0,492.9 519.0,492.9 520.0,492.9 521.0,492.9 522.0,492.9 523.0,492.9 524.0,492.9 525.0,492.9 526.0,492.9 527.0,492.9 528.0,492.9 529.0,492.9 530.0,492.9 531.0,492.9 532.0,492.9 533.0,492.9 534.0,492.9 535.0,492.9 536.0,492.9 537.0,492.9 538.0,492.9 539.0,492.8 540.0,492.8 541.0,492.8 542.0,492.8 543.0,492.8 544.0,492.8 545.0,492.8 546.0,492.8 547.0,492.8 548.0,492.8 549.0,492.8 550.0,492.8 551.0,492.8 552.0,492.8 553.0,492.8 554.0,492.8 555.0,492.8 556.0,492.8 557.0,492.8 558.0,492.8 559.0,492.8 560.0,492.8 561.0,492.8 562.0,492.8 563.0,492.8 564.0,492.8 565.0,492.8 566.0,492.8 567.0,492.8 568.0,492.8 569.0,492.8 570.0,492.8 571.0,492.8 572.0,492.8 573.0,492.8 574.0,492.8 575.0,492.8 576.0,492.8 577.0,492.7 578.0,492.7 579.0,492.7 580.0,492.7 581.0,492.7 582.0,492.7 583.0,492.7 584.0,492.7 585.0,492.7 586.0,492.7 587.0,492.7 588.0,492.7 589.0,492.7 590.0,492.7 591.0,492.7 592.0,492.7 593.0,492.7 594.0,492.7 595.0,492.7 596.0,492.7 597.0,492.7 598.0,492.7 599.0,492.7 600.0,492.7 601.0,492.7 602.0,492.7 603.0,492.7 604.0,492.7 605.0,492.7 606.0,492.7 607.0,492.7 608.0,492.7 609.0,492.7 610.0,492.7 611.0,492.7 612.0,492.7 613.0,492.7 614.0,492.6 615.0,492.6 616.0,492.6 617.0,492.6 618.0,492.6 619.0,492.6 620.0,492.6 621.0,492.6 622.0,492.6 623.0,492.6 624.0,492.6 625.0,492.6 626.0,492.6 627.0,492.6 628.0,492.6 629.0,492.6 630.0,492.6 631.0,492.6 632.0,492.6 633.0,492.6 634.0,492.6 635.0,492.6 636.0,492.6 637.0,492.6 638.0,492.6 639.0,492.6 640.0,492.6 641.0,492.6 642.0,492.6 643.0,492.6 644.0,492.6 645.0,492.6 646.0,492.6 647.0,492.6 648.0,492.6 649.0,492.6 650.0,492.6 651.0,492.6 652.0,492.6 653.0,492.5 654.0,492.5 655.0,492.5 656.0,492.5 657.0,492.5 658.0,492.5 659.0,492.5 660.0,492.5 661.0,492.5 662.0,492.5 663.0,492.5 664.0,492.5 665.0,492.5 666.0,492.5 667.0,492.5 668.0,492.5 669.0,492.5 670.0,492.5 671.0,492.5" stroke="#f0913a" stroke-width="1.4" fill="none" stroke-dasharray="1.2,4.8"/>
<path d="M481.0,493.0 482.0,493.0 483.0,493.0 484.0,493.0 485.0,493.0 486.0,493.0 487.0,493.0 488.0,493.0 489.0,493.0 490.0,493.0 491.0,493.0 492.0,493.0 493.0,493.0 494.0,493.0 495.0,493.0 496.0,493.0 497.0,493.0 498.0,493.0 499.0,493.0 500.0,492.9 501.0,492.9 502.0,492.9 503.0,492.9 504.0,492.9 505.0,492.9 506.0,492.9 507.0,492.9 508.0,492.9 509.0,492.9 510.0,492.9 511.0,492.9 512.0,492.9 513.0,492.9 514.0,492.9 515.0,492.9 516.0,492.9 517.0,492.9 518.0,492.9 519.0,492.9 520.0,492.9 521.0,492.9 522.0,492.9 523.0,492.9 524.0,492.9 525.0,492.9 526.0,492.9 527.0,492.9 528.0,492.9 529.0,492.9 530.0,492.9 531.0,492.8 532.0,492.8 533.0,492.8 534.0,492.8 535.0,492.8 536.0,492.8 537.0,492.8 538.0,492.8 539.0,492.7 540.0,492.7 541.0,492.7 542.0,492.7 543.0,492.6 544.0,492.6 545.0,492.5 546.0,492.5 547.0,492.4 548.0,492.4 549.0,492.3 550.0,492.2 551.0,492.1 552.0,492.0 553.0,491.9 554.0,491.8 555.0,491.6 556.0,491.5 557.0,491.3 558.0,491.1 559.0,490.9 560.0,490.7 561.0,490.5 562.0,490.3 563.0,490.1 564.0,489.9 565.0,489.6 566.0,489.4 567.0,489.1 568.0,488.9 569.0,488.6 570.0,488.4 571.0,488.2 572.0,488.0 573.0,487.7 574.0,487.6 575.0,487.4 576.0,487.2 577.0,487.1 578.0,487.0 579.0,486.9 580.0,486.8 581.0,486.8 582.0,486.7 583.0,486.7 584.0,486.8 585.0,486.8 586.0,486.9 587.0,487.0 588.0,487.2 589.0,487.3 590.0,487.5 591.0,487.7 592.0,487.9 593.0,488.1 594.0,488.3 595.0,488.6 596.0,488.8 597.0,489.1 598.0,489.3 599.0,489.5 600.0,489.8 601.0,490.0 602.0,490.2 603.0,490.4 604.0,490.6 605.0,490.8 606.0,491.0 607.0,491.2 608.0,491.3 609.0,491.5 610.0,491.6 611.0,491.7 612.0,491.8 613.0,491.9 614.0,492.0 615.0,492.1 616.0,492.2 617.0,492.2 618.0,492.3 619.0,492.4 620.0,492.4 621.0,492.4 622.0,492.5 623.0,492.5 624.0,492.5 625.0,492.5 626.0,492.5 627.0,492.5 628.0,492.6 629.0,492.6 630.0,492.6 631.0,492.6 632.0,492.6 633.0,492.6 634.0,492.6 635.0,492.6 636.0,492.6 637.0,492.6 638.0,492.6 639.0,492.6 640.0,492.6 641.0,492.6 642.0,492.6 643.0,492.6 644.0,492.6 645.0,492.6 646.0,492.6 647.0,492.6 648.0,492.6 649.0,492.6 650.0,492.6 651.0,492.6 652.0,492.5 653.0,492.5 654.0,492.5 655.0,492.5 656.0,492.5 657.0,492.5 658.0,492.5 659.0,492.5 660.0,492.5 661.0,492.5 662.0,492.5 663.0,492.5 664.0,492.5 665.0,492.5 666.0,492.5 667.0,492.5 668.0,492.5 669.0,492.5 670.0,492.5 671.0,492.5" stroke="#cc1f2b" stroke-width="1.5" fill="none" stroke-dasharray="1.4,2.4"/>
<path d="M481.0,493.0 482.0,493.0 483.0,493.0 484.0,493.0 485.0,493.0 486.0,493.0 487.0,493.0 488.0,493.0 489.0,493.0 490.0,493.0 491.0,493.0 492.0,493.0 493.0,493.0 494.0,493.0 495.0,493.0 496.0,493.0 497.0,493.0 498.0,493.0 499.0,493.0 500.0,492.9 501.0,492.9 502.0,492.9 503.0,492.9 504.0,492.9 505.0,492.9 506.0,492.9 507.0,492.9 508.0,492.9 509.0,492.9 510.0,492.9 511.0,492.9 512.0,492.9 513.0,492.9 514.0,492.9 515.0,492.9 516.0,492.9 517.0,492.9 518.0,492.9 519.0,492.9 520.0,492.9 521.0,492.9 522.0,492.9 523.0,492.9 524.0,492.9 525.0,492.9 526.0,492.9 527.0,492.9 528.0,492.9 529.0,492.9 530.0,492.9 531.0,492.9 532.0,492.9 533.0,492.9 534.0,492.9 535.0,492.9 536.0,492.9 537.0,492.8 538.0,492.8 539.0,492.8 540.0,492.8 541.0,492.8 542.0,492.8 543.0,492.8 544.0,492.8 545.0,492.8 546.0,492.8 547.0,492.8 548.0,492.8 549.0,492.8 550.0,492.7 551.0,492.7 552.0,492.7 553.0,492.7 554.0,492.7 555.0,492.6 556.0,492.6 557.0,492.5 558.0,492.5 559.0,492.4 560.0,492.4 561.0,492.3 562.0,492.2 563.0,492.1 564.0,492.0 565.0,491.9 566.0,491.8 567.0,491.6 568.0,491.5 569.0,491.3 570.0,491.1 571.0,490.9 572.0,490.6 573.0,490.4 574.0,490.1 575.0,489.8 576.0,489.4 577.0,489.1 578.0,488.7 579.0,488.3 580.0,487.9 581.0,487.4 582.0,487.0 583.0,486.5 584.0,486.0 585.0,485.4 586.0,484.9 587.0,484.3 588.0,483.7 589.0,483.2 590.0,482.6 591.0,482.0 592.0,481.4 593.0,480.9 594.0,480.3 595.0,479.8 596.0,479.2 597.0,478.7 598.0,478.3 599.0,477.8 600.0,477.5 601.0,477.1 602.0,476.8 603.0,476.5 604.0,476.3 605.0,476.1 606.0,476.0 607.0,476.0 608.0,476.0 609.0,476.0 610.0,476.1 611.0,476.3 612.0,476.5 613.0,476.8 614.0,477.1 615.0,477.4 616.0,477.8 617.0,478.2 618.0,478.7 619.0,479.2 620.0,479.7 621.0,480.2 622.0,480.8 623.0,481.3 624.0,481.9 625.0,482.5 626.0,483.1 627.0,483.6 628.0,484.2 629.0,484.8 630.0,485.3 631.0,485.8 632.0,486.3 633.0,486.8 634.0,487.3 635.0,487.7 636.0,488.2 637.0,488.6 638.0,488.9 639.0,489.3 640.0,489.6 641.0,489.9 642.0,490.2 643.0,490.4 644.0,490.7 645.0,490.9 646.0,491.1 647.0,491.3 648.0,491.4 649.0,491.6 650.0,491.7 651.0,491.8 652.0,491.9 653.0,492.0 654.0,492.1 655.0,492.1 656.0,492.2 657.0,492.2 658.0,492.3 659.0,492.3 660.0,492.3 661.0,492.4 662.0,492.4 663.0,492.4 664.0,492.4 665.0,492.4 666.0,492.5 667.0,492.5 668.0,492.5 669.0,492.5 670.0,492.5 671.0,492.5" stroke="#f0913a" stroke-width="1.5" fill="none" stroke-dasharray="1.4,2.4"/>
<path d="M481.0,493.0 482.0,493.0 483.0,493.0 484.0,493.0 485.0,493.0 486.0,493.0 487.0,493.0 488.0,493.0 489.0,493.0 490.0,493.0 491.0,493.0 492.0,493.0 493.0,493.0 494.0,493.0 495.0,493.0 496.0,493.0 497.0,493.0 498.0,493.0 499.0,493.0 500.0,492.9 501.0,492.9 502.0,492.9 503.0,492.9 504.0,492.9 505.0,492.9 506.0,492.9 507.0,492.9 508.0,492.9 509.0,492.9 510.0,492.9 511.0,492.9 512.0,492.9 513.0,492.9 514.0,492.9 515.0,492.9 516.0,492.9 517.0,492.9 518.0,492.9 519.0,492.9 520.0,492.9 521.0,492.9 522.0,492.9 523.0,492.9 524.0,492.9 525.0,492.9 526.0,492.9 527.0,492.9 528.0,492.9 529.0,492.9 530.0,492.9 531.0,492.9 532.0,492.9 533.0,492.9 534.0,492.9 535.0,492.9 536.0,492.9 537.0,492.9 538.0,492.9 539.0,492.8 540.0,492.8 541.0,492.8 542.0,492.8 543.0,492.8 544.0,492.8 545.0,492.8 546.0,492.8 547.0,492.8 548.0,492.8 549.0,492.8 550.0,492.8 551.0,492.8 552.0,492.8 553.0,492.8 554.0,492.8 555.0,492.8 556.0,492.8 557.0,492.8 558.0,492.8 559.0,492.8 560.0,492.8 561.0,492.8 562.0,492.8 563.0,492.8 564.0,492.8 565.0,492.8 566.0,492.8 567.0,492.8 568.0,492.8 569.0,492.8 570.0,492.8 571.0,492.8 572.0,492.8 573.0,492.8 574.0,492.8 575.0,492.8 576.0,492.8 577.0,492.7 578.0,492.7 579.0,492.7 580.0,492.7 581.0,492.7 582.0,492.7 583.0,492.7 584.0,492.7 585.0,492.7 586.0,492.7 587.0,492.7 588.0,492.7 589.0,492.7 590.0,492.7 591.0,492.7 592.0,492.7 593.0,492.7 594.0,492.7 595.0,492.7 596.0,492.7 597.0,492.7 598.0,492.7 599.0,492.7 600.0,492.7 601.0,492.7 602.0,492.7 603.0,492.7 604.0,492.7 605.0,492.7 606.0,492.7 607.0,492.7 608.0,492.7 609.0,492.7 610.0,492.7 611.0,492.7 612.0,492.6 613.0,492.6 614.0,492.6 615.0,492.6 616.0,492.6 617.0,492.5 618.0,492.5 619.0,492.4 620.0,492.3 621.0,492.2 622.0,492.0 623.0,491.7 624.0,491.4 625.0,491.0 626.0,490.5 627.0,489.9 628.0,489.2 629.0,488.4 630.0,487.5 631.0,486.5 632.0,485.4 633.0,484.2 634.0,483.0 635.0,481.9 636.0,480.8 637.0,479.9 638.0,479.1 639.0,478.5 640.0,478.1 641.0,478.0 642.0,478.1 643.0,478.5 644.0,479.1 645.0,479.9 646.0,480.8 647.0,481.9 648.0,483.0 649.0,484.2 650.0,485.3 651.0,486.4 652.0,487.4 653.0,488.3 654.0,489.2 655.0,489.9 656.0,490.5 657.0,490.9 658.0,491.3 659.0,491.6 660.0,491.9 661.0,492.1 662.0,492.2 663.0,492.3 664.0,492.4 665.0,492.4 666.0,492.4 667.0,492.5 668.0,492.5 669.0,492.5 670.0,492.5 671.0,492.5" stroke="#4a7bd4" stroke-width="1.5" fill="none" stroke-dasharray="1.2,2.3"/>
<path d="M481.0,492.4 482.0,492.9 483.0,493.4 484.0,493.1 485.0,492.6 486.0,492.9 487.0,493.3 488.0,493.7 489.0,492.9 490.0,492.3 491.0,492.8 492.0,493.0 493.0,493.5 494.0,493.4 495.0,492.8 496.0,492.4 497.0,493.4 498.0,492.5 499.0,491.8 500.0,491.1 501.0,491.2 502.0,491.1 503.0,490.7 504.0,490.5 505.0,490.5 506.0,490.5 507.0,490.6 508.0,490.2 509.0,489.0 510.0,489.3 511.0,488.5 512.0,488.6 513.0,488.0 514.0,488.3 515.0,488.0 516.0,488.3 517.0,489.7 518.0,489.0 519.0,488.9 520.0,487.8 521.0,487.6 522.0,487.9 523.0,487.7 524.0,487.7 525.0,487.5 526.0,486.8 527.0,487.1 528.0,486.6 529.0,487.4 530.0,486.7 531.0,486.8 532.0,486.5 533.0,486.7 534.0,486.1 535.0,486.4 536.0,485.9 537.0,486.3 538.0,486.1 539.0,485.7 540.0,485.0 541.0,485.3 542.0,485.2 543.0,485.7 544.0,484.9 545.0,484.9 546.0,484.8 547.0,484.6 548.0,484.5 549.0,484.6 550.0,484.4 551.0,484.4 552.0,484.8 553.0,485.5 554.0,486.3 555.0,486.5 556.0,486.5 557.0,486.3 558.0,486.2 559.0,485.8 560.0,485.9 561.0,486.3 562.0,485.5 563.0,484.9 564.0,485.8 565.0,485.4 566.0,485.5 567.0,485.4 568.0,484.5 569.0,485.5 570.0,485.7 571.0,485.0 572.0,484.9 573.0,484.5 574.0,483.7 575.0,483.6 576.0,483.7 577.0,484.0 578.0,484.0 579.0,483.5 580.0,483.8 581.0,482.8 582.0,482.8 583.0,482.8 584.0,482.1 585.0,480.9 586.0,480.4 587.0,480.5 588.0,480.5 589.0,480.8 590.0,479.6 591.0,479.2 592.0,479.0 593.0,478.4 594.0,476.9 595.0,477.3 596.0,478.0 597.0,477.8 598.0,476.7 599.0,476.3 600.0,476.3 601.0,477.3 602.0,477.0 603.0,476.6 604.0,476.9 605.0,476.3 606.0,476.9 607.0,476.1 608.0,475.8 609.0,476.3 610.0,477.1 611.0,477.2 612.0,477.3 613.0,476.5 614.0,476.7 615.0,477.0 616.0,477.4 617.0,478.4 618.0,478.8 619.0,479.7 620.0,480.0 621.0,480.1 622.0,480.3 623.0,480.5 624.0,480.6 625.0,479.9 626.0,479.5 627.0,478.7 628.0,479.5 629.0,479.8 630.0,479.1 631.0,478.6 632.0,477.8 633.0,477.9 634.0,477.8 635.0,478.5 636.0,477.8 637.0,476.9 638.0,475.6 639.0,476.6 640.0,476.8 641.0,476.2 642.0,476.9 643.0,476.6 644.0,479.0 645.0,479.8 646.0,480.5 647.0,481.3 648.0,481.5 649.0,483.2 650.0,483.9 651.0,485.8 652.0,486.0 653.0,487.0 654.0,488.8 655.0,490.2 656.0,489.9 657.0,489.6 658.0,490.6 659.0,491.3 660.0,490.9 661.0,490.8 662.0,490.8 663.0,490.6 664.0,490.8 665.0,491.8 666.0,492.1 667.0,492.9 668.0,492.5 669.0,492.3 670.0,491.8 671.0,491.9" stroke="#111" stroke-width="1.1" fill="none" stroke-linejoin="round"/>
<path d="M481.0,493.0 482.0,493.0 483.0,493.1 484.0,493.1 485.0,493.2 486.0,493.3 487.0,493.3 488.0,493.2 489.0,493.2 490.0,493.1 491.0,492.9 492.0,492.8 493.0,492.7 494.0,492.5 495.0,492.4 496.0,492.3 497.0,492.2 498.0,492.0 499.0,491.8 500.0,491.6 501.0,491.4 502.0,491.2 503.0,490.9 504.0,490.7 505.0,490.4 506.0,490.2 507.0,489.9 508.0,489.7 509.0,489.5 510.0,489.3 511.0,489.2 512.0,489.0 513.0,488.9 514.0,488.8 515.0,488.6 516.0,488.5 517.0,488.4 518.0,488.3 519.0,488.1 520.0,488.0 521.0,487.9 522.0,487.7 523.0,487.6 524.0,487.5 525.0,487.3 526.0,487.2 527.0,487.0 528.0,486.9 529.0,486.8 530.0,486.6 531.0,486.5 532.0,486.3 533.0,486.2 534.0,486.0 535.0,485.9 536.0,485.7 537.0,485.6 538.0,485.5 539.0,485.3 540.0,485.2 541.0,485.0 542.0,484.9 543.0,484.7 544.0,484.6 545.0,484.4 546.0,484.3 547.0,484.2 548.0,484.2 549.0,484.3 550.0,484.6 551.0,484.9 552.0,485.3 553.0,485.5 554.0,485.6 555.0,485.6 556.0,485.6 557.0,485.5 558.0,485.4 559.0,485.3 560.0,485.2 561.0,485.1 562.0,485.1 563.0,485.0 564.0,484.9 565.0,484.8 566.0,484.7 567.0,484.6 568.0,484.5 569.0,484.4 570.0,484.3 571.0,484.2 572.0,484.1 573.0,484.0 574.0,483.8 575.0,483.7 576.0,483.6 577.0,483.5 578.0,483.3 579.0,483.2 580.0,482.9 581.0,482.7 582.0,482.4 583.0,482.1 584.0,481.8 585.0,481.5 586.0,481.2 587.0,480.8 588.0,480.5 589.0,480.1 590.0,479.6 591.0,479.2 592.0,478.8 593.0,478.3 594.0,477.9 595.0,477.5 596.0,477.1 597.0,476.8 598.0,476.6 599.0,476.4 600.0,476.3 601.0,476.2 602.0,476.1 603.0,476.0 604.0,475.9 605.0,475.8 606.0,475.8 607.0,475.8 608.0,475.9 609.0,476.0 610.0,476.3 611.0,476.5 612.0,476.7 613.0,477.0 614.0,477.3 615.0,477.6 616.0,478.0 617.0,478.5 618.0,478.9 619.0,479.4 620.0,479.8 621.0,480.1 622.0,480.3 623.0,480.3 624.0,480.1 625.0,479.9 626.0,479.6 627.0,479.4 628.0,479.2 629.0,478.9 630.0,478.8 631.0,478.6 632.0,478.4 633.0,478.1 634.0,477.8 635.0,477.5 636.0,477.2 637.0,476.8 638.0,476.7 639.0,476.6 640.0,476.7 641.0,476.9 642.0,477.2 643.0,477.5 644.0,478.0 645.0,478.7 646.0,479.7 647.0,480.9 648.0,482.3 649.0,483.6 650.0,484.9 651.0,486.0 652.0,487.1 653.0,488.0 654.0,488.8 655.0,489.5 656.0,490.0 657.0,490.4 658.0,490.7 659.0,490.9 660.0,491.1 661.0,491.3 662.0,491.4 663.0,491.4 664.0,491.5 665.0,491.6 666.0,491.7 667.0,491.8 668.0,491.9 669.0,492.0 670.0,492.1 671.0,492.1" stroke="#76c043" stroke-width="1.4" fill="none" stroke-dasharray="1.2,3.8"/>
<path d="M481.0,535.1 482.0,535.1 483.0,535.1 484.0,535.1 485.0,535.1 486.0,535.1 487.0,535.2 488.0,535.2 489.0,535.2 490.0,535.2 491.0,535.2 492.0,535.2 493.0,535.2 494.0,535.2 495.0,535.2 496.0,535.2 497.0,535.2 498.0,535.2 499.0,535.3 500.0,535.3 501.0,535.3 502.0,535.3 503.0,535.3 504.0,535.3 505.0,535.3 506.0,535.3 507.0,535.3 508.0,535.3 509.0,535.3 510.0,535.3 511.0,535.4 512.0,535.4 513.0,535.4 514.0,535.4 515.0,535.4 516.0,535.4 517.0,535.4 518.0,535.4 519.0,535.4 520.0,535.4 521.0,535.4 522.0,535.4 523.0,535.5 524.0,535.5 525.0,535.5 526.0,535.5 527.0,535.5 528.0,535.5 529.0,535.5 530.0,535.5 531.0,535.5 532.0,535.5 533.0,535.5 534.0,535.5 535.0,535.6 536.0,535.6 537.0,535.6 538.0,535.6 539.0,535.6 540.0,535.6 541.0,535.6 542.0,535.6 543.0,535.6 544.0,535.6 545.0,535.6 546.0,535.7 547.0,535.7 548.0,535.7 549.0,535.7 550.0,535.7 551.0,535.7 552.0,535.7 553.0,535.7 554.0,535.7 555.0,535.7 556.0,535.7 557.0,535.7 558.0,535.8 559.0,535.8 560.0,535.8 561.0,535.8 562.0,535.8 563.0,535.8 564.0,535.8 565.0,535.8 566.0,535.8 567.0,535.8 568.0,535.8 569.0,535.8 570.0,535.9 571.0,535.9 572.0,535.9 573.0,535.9 574.0,535.9 575.0,535.9 576.0,535.9 577.0,535.9 578.0,535.9 579.0,535.9 580.0,535.9 581.0,535.9 582.0,536.0 583.0,536.0 584.0,536.0 585.0,536.0 586.0,536.0 587.0,536.0 588.0,536.0 589.0,536.0 590.0,536.0 591.0,536.0 592.0,536.0 593.0,536.0 594.0,536.1 595.0,536.1 596.0,536.1 597.0,536.1 598.0,536.1 599.0,536.1 600.0,536.1 601.0,536.1 602.0,536.1 603.0,536.1 604.0,536.1 605.0,536.1 606.0,536.2 607.0,536.2 608.0,536.2 609.0,536.2 610.0,536.2 611.0,536.2 612.0,536.2 613.0,536.2 614.0,536.2 615.0,536.2 616.0,536.2 617.0,536.3 618.0,536.3 619.0,536.3 620.0,536.3 621.0,536.3 622.0,536.3 623.0,536.3 624.0,536.3 625.0,536.3 626.0,536.3 627.0,536.3 628.0,536.3 629.0,536.4 630.0,536.4 631.0,536.4 632.0,536.4 633.0,536.4 634.0,536.4 635.0,536.4 636.0,536.4 637.0,536.4 638.0,536.4 639.0,536.4 640.0,536.4 641.0,536.5 642.0,536.5 643.0,536.5 644.0,536.5 645.0,536.5 646.0,536.5 647.0,536.5 648.0,536.5 649.0,536.5 650.0,536.5 651.0,536.5 652.0,536.5 653.0,536.6 654.0,536.6 655.0,536.6 656.0,536.6 657.0,536.6 658.0,536.6 659.0,536.6 660.0,536.6 661.0,536.6 662.0,536.6 663.0,536.6 664.0,536.6 665.0,536.7 666.0,536.7 667.0,536.7 668.0,536.7 669.0,536.7 670.0,536.7" stroke="#9a9a9a" stroke-width="1.3" fill="none" stroke-dasharray="2.2,1.6"/>
<path d="M481.0,535.1 482.0,535.1 483.0,535.1 484.0,535.1 485.0,535.1 486.0,535.1 487.0,535.2 488.0,535.2 489.0,535.2 490.0,535.2 491.0,535.2 492.0,535.2 493.0,535.2 494.0,535.2 495.0,535.2 496.0,535.2 497.0,535.2 498.0,535.2 499.0,535.3 500.0,535.3 501.0,535.3 502.0,535.3 503.0,535.3 504.0,535.3 505.0,535.3 506.0,535.3 507.0,535.3 508.0,535.3 509.0,535.3 510.0,535.3 511.0,535.4 512.0,535.4 513.0,535.4 514.0,535.4 515.0,535.4 516.0,535.4 517.0,535.4 518.0,535.4 519.0,535.4 520.0,535.4 521.0,535.4 522.0,535.4 523.0,535.5 524.0,535.5 525.0,535.5 526.0,535.5 527.0,535.5 528.0,535.5 529.0,535.5 530.0,535.5 531.0,535.5 532.0,535.5 533.0,535.5 534.0,535.5 535.0,535.6 536.0,535.6 537.0,535.6 538.0,535.6 539.0,535.6 540.0,535.6 541.0,535.6 542.0,535.6 543.0,535.6 544.0,535.6 545.0,535.6 546.0,535.7 547.0,535.7 548.0,535.7 549.0,535.7 550.0,535.7 551.0,535.7 552.0,535.7 553.0,535.7 554.0,535.7 555.0,535.7 556.0,535.7 557.0,535.7 558.0,535.8 559.0,535.8 560.0,535.8 561.0,535.8 562.0,535.8 563.0,535.8 564.0,535.8 565.0,535.8 566.0,535.8 567.0,535.8 568.0,535.8 569.0,535.8 570.0,535.9 571.0,535.9 572.0,535.9 573.0,535.9 574.0,535.9 575.0,535.9 576.0,535.9 577.0,535.9 578.0,535.9 579.0,535.9 580.0,535.9 581.0,535.9 582.0,536.0 583.0,536.0 584.0,536.0 585.0,536.0 586.0,536.0 587.0,536.0 588.0,536.0 589.0,536.0 590.0,536.0 591.0,536.0 592.0,536.0 593.0,536.0 594.0,536.1 595.0,536.1 596.0,536.1 597.0,536.1 598.0,536.1 599.0,536.1 600.0,536.1 601.0,536.1 602.0,536.1 603.0,536.1 604.0,536.1 605.0,536.1 606.0,536.2 607.0,536.2 608.0,536.2 609.0,536.2 610.0,536.2 611.0,536.2 612.0,536.2 613.0,536.2 614.0,536.2 615.0,536.2 616.0,536.2 617.0,536.3 618.0,536.3 619.0,536.3 620.0,536.3 621.0,536.3 622.0,536.3 623.0,536.3 624.0,536.3 625.0,536.3 626.0,536.3 627.0,536.3 628.0,536.3 629.0,536.4 630.0,536.4 631.0,536.4 632.0,536.4 633.0,536.4 634.0,536.4 635.0,536.4 636.0,536.4 637.0,536.4 638.0,536.4 639.0,536.4 640.0,536.4 641.0,536.5 642.0,536.5 643.0,536.5 644.0,536.5 645.0,536.5 646.0,536.5 647.0,536.5 648.0,536.5 649.0,536.5 650.0,536.5 651.0,536.5 652.0,536.5 653.0,536.6 654.0,536.6 655.0,536.6 656.0,536.6 657.0,536.6 658.0,536.6 659.0,536.6 660.0,536.6 661.0,536.6 662.0,536.6 663.0,536.6 664.0,536.6 665.0,536.7 666.0,536.7 667.0,536.7 668.0,536.7 669.0,536.7 670.0,536.7" stroke="#f0913a" stroke-width="1.4" fill="none" stroke-dasharray="1.2,4.8"/>
<path d="M481.0,535.1 482.0,535.1 483.0,535.1 484.0,535.1 485.0,535.1 486.0,535.1 487.0,535.2 488.0,535.2 489.0,535.2 490.0,535.2 491.0,535.2 492.0,535.2 493.0,535.2 494.0,535.2 495.0,535.2 496.0,535.2 497.0,535.2 498.0,535.2 499.0,535.3 500.0,535.3 501.0,535.3 502.0,535.3 503.0,535.3 504.0,535.3 505.0,535.3 506.0,535.3 507.0,535.3 508.0,535.3 509.0,535.3 510.0,535.3 511.0,535.4 512.0,535.4 513.0,535.4 514.0,535.4 515.0,535.4 516.0,535.4 517.0,535.4 518.0,535.4 519.0,535.4 520.0,535.4 521.0,535.4 522.0,535.4 523.0,535.5 524.0,535.5 525.0,535.5 526.0,535.5 527.0,535.5 528.0,535.5 529.0,535.5 530.0,535.5 531.0,535.5 532.0,535.5 533.0,535.5 534.0,535.5 535.0,535.5 536.0,535.5 537.0,535.5 538.0,535.5 539.0,535.5 540.0,535.5 541.0,535.5 542.0,535.5 543.0,535.5 544.0,535.4 545.0,535.4 546.0,535.4 547.0,535.3 548.0,535.3 549.0,535.2 550.0,535.2 551.0,535.1 552.0,535.0 553.0,534.9 554.0,534.8 555.0,534.7 556.0,534.6 557.0,534.5 558.0,534.4 559.0,534.2 560.0,534.1 561.0,533.9 562.0,533.7 563.0,533.6 564.0,533.4 565.0,533.2 566.0,533.0 567.0,532.8 568.0,532.6 569.0,532.4 570.0,532.2 571.0,532.0 572.0,531.9 573.0,531.7 574.0,531.6 575.0,531.4 576.0,531.3 577.0,531.2 578.0,531.1 579.0,531.0 580.0,531.0 581.0,531.0 582.0,531.0 583.0,531.0 584.0,531.0 585.0,531.1 586.0,531.2 587.0,531.3 588.0,531.4 589.0,531.5 590.0,531.7 591.0,531.9 592.0,532.0 593.0,532.2 594.0,532.4 595.0,532.6 596.0,532.8 597.0,533.0 598.0,533.3 599.0,533.5 600.0,533.7 601.0,533.9 602.0,534.1 603.0,534.3 604.0,534.4 605.0,534.6 606.0,534.8 607.0,534.9 608.0,535.1 609.0,535.2 610.0,535.3 611.0,535.4 612.0,535.5 613.0,535.6 614.0,535.7 615.0,535.8 616.0,535.9 617.0,535.9 618.0,536.0 619.0,536.0 620.0,536.1 621.0,536.1 622.0,536.2 623.0,536.2 624.0,536.2 625.0,536.2 626.0,536.3 627.0,536.3 628.0,536.3 629.0,536.3 630.0,536.3 631.0,536.3 632.0,536.4 633.0,536.4 634.0,536.4 635.0,536.4 636.0,536.4 637.0,536.4 638.0,536.4 639.0,536.4 640.0,536.4 641.0,536.5 642.0,536.5 643.0,536.5 644.0,536.5 645.0,536.5 646.0,536.5 647.0,536.5 648.0,536.5 649.0,536.5 650.0,536.5 651.0,536.5 652.0,536.5 653.0,536.6 654.0,536.6 655.0,536.6 656.0,536.6 657.0,536.6 658.0,536.6 659.0,536.6 660.0,536.6 661.0,536.6 662.0,536.6 663.0,536.6 664.0,536.6 665.0,536.7 666.0,536.7 667.0,536.7 668.0,536.7 669.0,536.7 670.0,536.7" stroke="#cc1f2b" stroke-width="1.5" fill="none" stroke-dasharray="1.4,2.4"/>
<path d="M481.0,535.1 482.0,535.1 483.0,535.1 484.0,535.1 485.0,535.1 486.0,535.1 487.0,535.2 488.0,535.2 489.0,535.2 490.0,535.2 491.0,535.2 492.0,535.2 493.0,535.2 494.0,535.2 495.0,535.2 496.0,535.2 497.0,535.2 498.0,535.2 499.0,535.3 500.0,535.3 501.0,535.3 502.0,535.3 503.0,535.3 504.0,535.3 505.0,535.3 506.0,535.3 507.0,535.3 508.0,535.3 509.0,535.3 510.0,535.3 511.0,535.4 512.0,535.4 513.0,535.4 514.0,535.4 515.0,535.4 516.0,535.4 517.0,535.4 518.0,535.4 519.0,535.4 520.0,535.4 521.0,535.4 522.0,535.4 523.0,535.5 524.0,535.5 525.0,535.5 526.0,535.5 527.0,535.5 528.0,535.5 529.0,535.5 530.0,535.5 531.0,535.5 532.0,535.5 533.0,535.5 534.0,535.5 535.0,535.6 536.0,535.6 537.0,535.6 538.0,535.6 539.0,535.6 540.0,535.6 541.0,535.6 542.0,535.6 543.0,535.6 544.0,535.6 545.0,535.6 546.0,535.6 547.0,535.6 548.0,535.6 549.0,535.6 550.0,535.6 551.0,535.6 552.0,535.6 553.0,535.6 554.0,535.6 555.0,535.6 556.0,535.6 557.0,535.5 558.0,535.5 559.0,535.5 560.0,535.4 561.0,535.4 562.0,535.3 563.0,535.3 564.0,535.2 565.0,535.1 566.0,535.0 567.0,534.9 568.0,534.8 569.0,534.7 570.0,534.5 571.0,534.4 572.0,534.2 573.0,534.0 574.0,533.8 575.0,533.6 576.0,533.3 577.0,533.1 578.0,532.8 579.0,532.5 580.0,532.2 581.0,531.8 582.0,531.5 583.0,531.1 584.0,530.7 585.0,530.3 586.0,529.9 587.0,529.5 588.0,529.0 589.0,528.6 590.0,528.1 591.0,527.7 592.0,527.3 593.0,526.8 594.0,526.4 595.0,526.0 596.0,525.6 597.0,525.2 598.0,524.9 599.0,524.5 600.0,524.2 601.0,524.0 602.0,523.8 603.0,523.6 604.0,523.4 605.0,523.3 606.0,523.2 607.0,523.2 608.0,523.2 609.0,523.2 610.0,523.3 611.0,523.5 612.0,523.6 613.0,523.8 614.0,524.1 615.0,524.4 616.0,524.7 617.0,525.0 618.0,525.4 619.0,525.8 620.0,526.2 621.0,526.6 622.0,527.1 623.0,527.5 624.0,528.0 625.0,528.4 626.0,528.9 627.0,529.3 628.0,529.8 629.0,530.2 630.0,530.7 631.0,531.1 632.0,531.5 633.0,531.9 634.0,532.3 635.0,532.6 636.0,533.0 637.0,533.3 638.0,533.6 639.0,533.9 640.0,534.1 641.0,534.4 642.0,534.6 643.0,534.8 644.0,535.0 645.0,535.2 646.0,535.3 647.0,535.5 648.0,535.6 649.0,535.7 650.0,535.8 651.0,535.9 652.0,536.0 653.0,536.1 654.0,536.2 655.0,536.2 656.0,536.3 657.0,536.4 658.0,536.4 659.0,536.4 660.0,536.5 661.0,536.5 662.0,536.5 663.0,536.6 664.0,536.6 665.0,536.6 666.0,536.6 667.0,536.6 668.0,536.7 669.0,536.7 670.0,536.7" stroke="#f0913a" stroke-width="1.5" fill="none" stroke-dasharray="1.4,2.4"/>
<path d="M481.0,535.1 482.0,535.1 483.0,535.1 484.0,535.1 485.0,535.1 486.0,535.1 487.0,535.2 488.0,535.2 489.0,535.2 490.0,535.2 491.0,535.2 492.0,535.2 493.0,535.2 494.0,535.2 495.0,535.2 496.0,535.2 497.0,535.2 498.0,535.2 499.0,535.3 500.0,535.3 501.0,535.3 502.0,535.3 503.0,535.3 504.0,535.3 505.0,535.3 506.0,535.3 507.0,535.3 508.0,535.3 509.0,535.3 510.0,535.3 511.0,535.4 512.0,535.4 513.0,535.4 514.0,535.4 515.0,535.4 516.0,535.4 517.0,535.4 518.0,535.4 519.0,535.4 520.0,535.4 521.0,535.4 522.0,535.4 523.0,535.5 524.0,535.5 525.0,535.5 526.0,535.5 527.0,535.5 528.0,535.5 529.0,535.5 530.0,535.5 531.0,535.5 532.0,535.5 533.0,535.5 534.0,535.5 535.0,535.6 536.0,535.6 537.0,535.6 538.0,535.6 539.0,535.6 540.0,535.6 541.0,535.6 542.0,535.6 543.0,535.6 544.0,535.6 545.0,535.6 546.0,535.7 547.0,535.7 548.0,535.7 549.0,535.7 550.0,535.7 551.0,535.7 552.0,535.7 553.0,535.7 554.0,535.7 555.0,535.7 556.0,535.7 557.0,535.7 558.0,535.8 559.0,535.8 560.0,535.8 561.0,535.8 562.0,535.8 563.0,535.8 564.0,535.8 565.0,535.8 566.0,535.8 567.0,535.8 568.0,535.8 569.0,535.8 570.0,535.9 571.0,535.9 572.0,535.9 573.0,535.9 574.0,535.9 575.0,535.9 576.0,535.9 577.0,535.9 578.0,535.9 579.0,535.9 580.0,535.9 581.0,535.9 582.0,536.0 583.0,536.0 584.0,536.0 585.0,536.0 586.0,536.0 587.0,536.0 588.0,536.0 589.0,536.0 590.0,536.0 591.0,536.0 592.0,536.0 593.0,536.0 594.0,536.1 595.0,536.1 596.0,536.1 597.0,536.1 598.0,536.1 599.0,536.1 600.0,536.1 601.0,536.1 602.0,536.1 603.0,536.1 604.0,536.1 605.0,536.1 606.0,536.2 607.0,536.2 608.0,536.2 609.0,536.2 610.0,536.2 611.0,536.2 612.0,536.2 613.0,536.2 614.0,536.2 615.0,536.2 616.0,536.2 617.0,536.2 618.0,536.1 619.0,536.1 620.0,536.0 621.0,535.9 622.0,535.8 623.0,535.6 624.0,535.3 625.0,535.0 626.0,534.6 627.0,534.1 628.0,533.6 629.0,532.9 630.0,532.2 631.0,531.3 632.0,530.4 633.0,529.5 634.0,528.5 635.0,527.6 636.0,526.7 637.0,526.0 638.0,525.3 639.0,524.8 640.0,524.5 641.0,524.5 642.0,524.6 643.0,524.9 644.0,525.4 645.0,526.0 646.0,526.8 647.0,527.7 648.0,528.7 649.0,529.6 650.0,530.6 651.0,531.5 652.0,532.3 653.0,533.1 654.0,533.8 655.0,534.4 656.0,534.9 657.0,535.3 658.0,535.6 659.0,535.9 660.0,536.1 661.0,536.2 662.0,536.4 663.0,536.5 664.0,536.5 665.0,536.6 666.0,536.6 667.0,536.6 668.0,536.7 669.0,536.7 670.0,536.7" stroke="#4a7bd4" stroke-width="1.5" fill="none" stroke-dasharray="1.2,2.3"/>
<path d="M481.0,534.2 482.0,533.6 483.0,534.4 484.0,535.1 485.0,535.2 486.0,535.5 487.0,535.1 488.0,534.5 489.0,534.4 490.0,534.2 491.0,533.7 492.0,533.2 493.0,532.9 494.0,533.4 495.0,533.7 496.0,533.6 497.0,534.3 498.0,534.1 499.0,534.1 500.0,534.3 501.0,533.5 502.0,532.5 503.0,533.1 504.0,532.8 505.0,533.4 506.0,533.3 507.0,533.5 508.0,533.4 509.0,532.0 510.0,532.4 511.0,532.0 512.0,531.6 513.0,531.4 514.0,531.8 515.0,532.0 516.0,532.0 517.0,530.8 518.0,530.5 519.0,529.4 520.0,529.9 521.0,530.5 522.0,530.3 523.0,530.8 524.0,531.2 525.0,531.9 526.0,531.4 527.0,531.1 528.0,530.8 529.0,531.6 530.0,531.6 531.0,530.9 532.0,530.5 533.0,530.1 534.0,529.8 535.0,529.3 536.0,528.8 537.0,528.0 538.0,527.8 539.0,528.7 540.0,528.7 541.0,528.4 542.0,528.2 543.0,528.2 544.0,528.3 545.0,527.9 546.0,528.1 547.0,528.2 548.0,527.8 549.0,527.5 550.0,527.3 551.0,527.1 552.0,527.9 553.0,526.7 554.0,526.8 555.0,526.6 556.0,526.2 557.0,526.2 558.0,526.6 559.0,526.5 560.0,526.4 561.0,526.3 562.0,526.7 563.0,527.5 564.0,527.4 565.0,527.0 566.0,526.7 567.0,526.5 568.0,526.2 569.0,527.1 570.0,527.2 571.0,527.0 572.0,527.5 573.0,526.8 574.0,527.0 575.0,527.1 576.0,526.0 577.0,525.4 578.0,525.2 579.0,525.8 580.0,526.2 581.0,525.2 582.0,525.5 583.0,524.8 584.0,524.3 585.0,523.8 586.0,523.5 587.0,522.5 588.0,522.2 589.0,521.8 590.0,522.2 591.0,523.0 592.0,523.6 593.0,522.6 594.0,521.4 595.0,521.3 596.0,521.1 597.0,522.2 598.0,522.3 599.0,521.7 600.0,522.1 601.0,522.2 602.0,521.2 603.0,521.2 604.0,521.3 605.0,521.5 606.0,521.7 607.0,521.6 608.0,521.8 609.0,521.7 610.0,521.5 611.0,522.6 612.0,522.7 613.0,522.9 614.0,522.1 615.0,522.4 616.0,523.0 617.0,522.5 618.0,523.3 619.0,523.1 620.0,523.4 621.0,523.3 622.0,523.3 623.0,523.7 624.0,523.1 625.0,523.6 626.0,522.7 627.0,522.2 628.0,522.5 629.0,521.9 630.0,521.8 631.0,522.2 632.0,522.6 633.0,521.4 634.0,521.7 635.0,522.6 636.0,522.7 637.0,522.1 638.0,521.7 639.0,521.6 640.0,521.2 641.0,521.6 642.0,522.0 643.0,522.6 644.0,523.7 645.0,524.0 646.0,523.9 647.0,525.4 648.0,525.7 649.0,526.6 650.0,527.7 651.0,528.7 652.0,529.4 653.0,530.4 654.0,532.5 655.0,532.6 656.0,533.2 657.0,534.3 658.0,535.0 659.0,535.7 660.0,536.3 661.0,535.4 662.0,535.5 663.0,536.1 664.0,536.5 665.0,537.1 666.0,537.1 667.0,536.8 668.0,536.7 669.0,536.6 670.0,536.8" stroke="#111" stroke-width="1.1" fill="none" stroke-linejoin="round"/>
<path d="M481.0,534.7 482.0,534.7 483.0,534.7 484.0,534.6 485.0,534.6 486.0,534.5 487.0,534.5 488.0,534.4 489.0,534.4 490.0,534.3 491.0,534.3 492.0,534.2 493.0,534.2 494.0,534.1 495.0,534.0 496.0,534.0 497.0,533.9 498.0,533.8 499.0,533.6 500.0,533.5 501.0,533.4 502.0,533.3 503.0,533.2 504.0,533.1 505.0,533.0 506.0,532.9 507.0,532.8 508.0,532.7 509.0,532.6 510.0,532.4 511.0,532.3 512.0,532.1 513.0,531.9 514.0,531.7 515.0,531.5 516.0,531.3 517.0,531.1 518.0,530.9 519.0,530.8 520.0,530.7 521.0,530.7 522.0,530.8 523.0,530.9 524.0,531.2 525.0,531.4 526.0,531.5 527.0,531.5 528.0,531.4 529.0,531.2 530.0,530.9 531.0,530.5 532.0,530.2 533.0,529.9 534.0,529.6 535.0,529.3 536.0,529.0 537.0,528.7 538.0,528.5 539.0,528.3 540.0,528.2 541.0,528.2 542.0,528.2 543.0,528.1 544.0,528.1 545.0,528.1 546.0,528.1 547.0,528.1 548.0,528.1 549.0,528.1 550.0,528.0 551.0,528.0 552.0,527.9 553.0,527.8 554.0,527.5 555.0,527.2 556.0,526.9 557.0,526.5 558.0,526.3 559.0,526.2 560.0,526.3 561.0,526.5 562.0,526.9 563.0,527.2 564.0,527.4 565.0,527.5 566.0,527.6 567.0,527.5 568.0,527.4 569.0,527.3 570.0,527.1 571.0,527.0 572.0,526.9 573.0,526.8 574.0,526.7 575.0,526.5 576.0,526.4 577.0,526.3 578.0,526.1 579.0,525.9 580.0,525.7 581.0,525.4 582.0,525.1 583.0,524.8 584.0,524.5 585.0,524.2 586.0,523.8 587.0,523.5 588.0,523.2 589.0,522.9 590.0,522.5 591.0,522.2 592.0,522.0 593.0,521.8 594.0,521.7 595.0,521.7 596.0,521.7 597.0,521.7 598.0,521.7 599.0,521.7 600.0,521.7 601.0,521.7 602.0,521.7 603.0,521.7 604.0,521.7 605.0,521.7 606.0,521.7 607.0,521.8 608.0,521.8 609.0,521.9 610.0,522.1 611.0,522.2 612.0,522.3 613.0,522.5 614.0,522.6 615.0,522.7 616.0,522.8 617.0,523.0 618.0,523.1 619.0,523.2 620.0,523.2 621.0,523.2 622.0,523.2 623.0,523.1 624.0,522.9 625.0,522.8 626.0,522.7 627.0,522.5 628.0,522.4 629.0,522.3 630.0,522.2 631.0,522.0 632.0,521.9 633.0,521.8 634.0,521.8 635.0,521.7 636.0,521.7 637.0,521.7 638.0,521.7 639.0,521.7 640.0,521.8 641.0,522.1 642.0,522.4 643.0,522.8 644.0,523.3 645.0,523.8 646.0,524.5 647.0,525.2 648.0,526.1 649.0,527.0 650.0,528.0 651.0,529.0 652.0,530.0 653.0,530.9 654.0,531.7 655.0,532.5 656.0,533.2 657.0,533.8 658.0,534.4 659.0,535.0 660.0,535.5 661.0,535.9 662.0,536.2 663.0,536.4 664.0,536.4 665.0,536.5 666.0,536.5 667.0,536.6 668.0,536.6 669.0,536.6 670.0,536.7" stroke="#76c043" stroke-width="1.4" fill="none" stroke-dasharray="1.2,3.8"/>
<path d="M481.0,585.7 482.0,585.7 483.0,585.7 484.0,585.7 485.0,585.6 486.0,585.6 487.0,585.6 488.0,585.6 489.0,585.6 490.0,585.6 491.0,585.6 492.0,585.5 493.0,585.5 494.0,585.5 495.0,585.5 496.0,585.5 497.0,585.5 498.0,585.5 499.0,585.5 500.0,585.4 501.0,585.4 502.0,585.4 503.0,585.4 504.0,585.4 505.0,585.4 506.0,585.4 507.0,585.3 508.0,585.3 509.0,585.3 510.0,585.3 511.0,585.3 512.0,585.3 513.0,585.3 514.0,585.2 515.0,585.2 516.0,585.2 517.0,585.2 518.0,585.2 519.0,585.2 520.0,585.2 521.0,585.1 522.0,585.1 523.0,585.1 524.0,585.1 525.0,585.1 526.0,585.1 527.0,585.1 528.0,585.1 529.0,585.0 530.0,585.0 531.0,585.0 532.0,585.0 533.0,585.0 534.0,585.0 535.0,585.0 536.0,584.9 537.0,584.9 538.0,584.9 539.0,584.9 540.0,584.9 541.0,584.9 542.0,584.9 543.0,584.8 544.0,584.8 545.0,584.8 546.0,584.8 547.0,584.8 548.0,584.8 549.0,584.8 550.0,584.8 551.0,584.7 552.0,584.7 553.0,584.7 554.0,584.7 555.0,584.7 556.0,584.7 557.0,584.7 558.0,584.6 559.0,584.6 560.0,584.6 561.0,584.6 562.0,584.6 563.0,584.6 564.0,584.6 565.0,584.5 566.0,584.5 567.0,584.5 568.0,584.5 569.0,584.5 570.0,584.5 571.0,584.5 572.0,584.4 573.0,584.4 574.0,584.4 575.0,584.4 576.0,584.4 577.0,584.4 578.0,584.4 579.0,584.4 580.0,584.3 581.0,584.3 582.0,584.3 583.0,584.3 584.0,584.3 585.0,584.3 586.0,584.3 587.0,584.2 588.0,584.2 589.0,584.2 590.0,584.2 591.0,584.2 592.0,584.2 593.0,584.2 594.0,584.1 595.0,584.1 596.0,584.1 597.0,584.1 598.0,584.1 599.0,584.1 600.0,584.1 601.0,584.0 602.0,584.0 603.0,584.0 604.0,584.0 605.0,584.0 606.0,584.0 607.0,584.0 608.0,584.0 609.0,583.9 610.0,583.9 611.0,583.9 612.0,583.9 613.0,583.9 614.0,583.9 615.0,583.9 616.0,583.8 617.0,583.8 618.0,583.8 619.0,583.8 620.0,583.8 621.0,583.8 622.0,583.8 623.0,583.7 624.0,583.7 625.0,583.7 626.0,583.7 627.0,583.7 628.0,583.7 629.0,583.7 630.0,583.6 631.0,583.6 632.0,583.6 633.0,583.6 634.0,583.6 635.0,583.6 636.0,583.6 637.0,583.6 638.0,583.5 639.0,583.5 640.0,583.5 641.0,583.5 642.0,583.5 643.0,583.5 644.0,583.5 645.0,583.4 646.0,583.4 647.0,583.4 648.0,583.4 649.0,583.4 650.0,583.4 651.0,583.4 652.0,583.3 653.0,583.3 654.0,583.3 655.0,583.3 656.0,583.3 657.0,583.3 658.0,583.3 659.0,583.3 660.0,583.2 661.0,583.2 662.0,583.2 663.0,583.2 664.0,583.2 665.0,583.2 666.0,583.2 667.0,583.1 668.0,583.1 669.0,583.1 670.0,583.1 671.0,583.1 672.0,583.1 673.0,583.1 674.0,583.0 675.0,583.0 676.0,583.0 677.0,583.0" stroke="#9a9a9a" stroke-width="1.3" fill="none" stroke-dasharray="2.2,1.6"/>
<path d="M481.0,585.7 482.0,585.7 483.0,585.7 484.0,585.7 485.0,585.6 486.0,585.6 487.0,585.6 488.0,585.6 489.0,585.6 490.0,585.6 491.0,585.6 492.0,585.5 493.0,585.5 494.0,585.5 495.0,585.5 496.0,585.5 497.0,585.5 498.0,585.5 499.0,585.5 500.0,585.4 501.0,585.4 502.0,585.4 503.0,585.4 504.0,585.4 505.0,585.4 506.0,585.4 507.0,585.3 508.0,585.3 509.0,585.3 510.0,585.3 511.0,585.3 512.0,585.3 513.0,585.3 514.0,585.2 515.0,585.2 516.0,585.2 517.0,585.2 518.0,585.2 519.0,585.2 520.0,585.2 521.0,585.1 522.0,585.1 523.0,585.1 524.0,585.1 525.0,585.1 526.0,585.1 527.0,585.1 528.0,585.1 529.0,585.0 530.0,585.0 531.0,585.0 532.0,585.0 533.0,585.0 534.0,585.0 535.0,585.0 536.0,584.9 537.0,584.9 538.0,584.9 539.0,584.9 540.0,584.9 541.0,584.9 542.0,584.9 543.0,584.8 544.0,584.8 545.0,584.8 546.0,584.8 547.0,584.8 548.0,584.8 549.0,584.8 550.0,584.8 551.0,584.7 552.0,584.7 553.0,584.7 554.0,584.7 555.0,584.7 556.0,584.7 557.0,584.7 558.0,584.6 559.0,584.6 560.0,584.6 561.0,584.6 562.0,584.6 563.0,584.6 564.0,584.6 565.0,584.5 566.0,584.5 567.0,584.5 568.0,584.5 569.0,584.5 570.0,584.5 571.0,584.5 572.0,584.4 573.0,584.4 574.0,584.4 575.0,584.4 576.0,584.4 577.0,584.4 578.0,584.4 579.0,584.4 580.0,584.3 581.0,584.3 582.0,584.3 583.0,584.3 584.0,584.3 585.0,584.3 586.0,584.3 587.0,584.2 588.0,584.2 589.0,584.2 590.0,584.2 591.0,584.2 592.0,584.2 593.0,584.2 594.0,584.1 595.0,584.1 596.0,584.1 597.0,584.1 598.0,584.1 599.0,584.1 600.0,584.1 601.0,584.0 602.0,584.0 603.0,584.0 604.0,584.0 605.0,584.0 606.0,584.0 607.0,584.0 608.0,584.0 609.0,583.9 610.0,583.9 611.0,583.9 612.0,583.9 613.0,583.9 614.0,583.9 615.0,583.9 616.0,583.8 617.0,583.8 618.0,583.8 619.0,583.8 620.0,583.8 621.0,583.8 622.0,583.8 623.0,583.7 624.0,583.7 625.0,583.7 626.0,583.7 627.0,583.7 628.0,583.7 629.0,583.7 630.0,583.6 631.0,583.6 632.0,583.6 633.0,583.6 634.0,583.6 635.0,583.6 636.0,583.6 637.0,583.6 638.0,583.5 639.0,583.5 640.0,583.5 641.0,583.5 642.0,583.5 643.0,583.5 644.0,583.5 645.0,583.4 646.0,583.4 647.0,583.4 648.0,583.4 649.0,583.4 650.0,583.4 651.0,583.4 652.0,583.3 653.0,583.3 654.0,583.3 655.0,583.3 656.0,583.3 657.0,583.3 658.0,583.3 659.0,583.3 660.0,583.2 661.0,583.2 662.0,583.2 663.0,583.2 664.0,583.2 665.0,583.2 666.0,583.2 667.0,583.1 668.0,583.1 669.0,583.1 670.0,583.1 671.0,583.1 672.0,583.1 673.0,583.1 674.0,583.0 675.0,583.0 676.0,583.0 677.0,583.0" stroke="#f0913a" stroke-width="1.4" fill="none" stroke-dasharray="1.2,4.8"/>
<path d="M481.0,585.7 482.0,585.7 483.0,585.7 484.0,585.7 485.0,585.6 486.0,585.6 487.0,585.6 488.0,585.6 489.0,585.6 490.0,585.6 491.0,585.6 492.0,585.5 493.0,585.5 494.0,585.5 495.0,585.5 496.0,585.5 497.0,585.5 498.0,585.5 499.0,585.5 500.0,585.4 501.0,585.4 502.0,585.4 503.0,585.4 504.0,585.4 505.0,585.4 506.0,585.4 507.0,585.3 508.0,585.3 509.0,585.3 510.0,585.3 511.0,585.3 512.0,585.3 513.0,585.3 514.0,585.2 515.0,585.2 516.0,585.2 517.0,585.2 518.0,585.2 519.0,585.2 520.0,585.2 521.0,585.1 522.0,585.1 523.0,585.1 524.0,585.1 525.0,585.1 526.0,585.1 527.0,585.1 528.0,585.0 529.0,585.0 530.0,585.0 531.0,585.0 532.0,585.0 533.0,585.0 534.0,584.9 535.0,584.9 536.0,584.9 537.0,584.9 538.0,584.9 539.0,584.8 540.0,584.8 541.0,584.8 542.0,584.7 543.0,584.7 544.0,584.7 545.0,584.6 546.0,584.6 547.0,584.5 548.0,584.4 549.0,584.4 550.0,584.3 551.0,584.2 552.0,584.1 553.0,584.0 554.0,583.9 555.0,583.8 556.0,583.7 557.0,583.5 558.0,583.4 559.0,583.2 560.0,583.1 561.0,582.9 562.0,582.7 563.0,582.6 564.0,582.4 565.0,582.2 566.0,582.0 567.0,581.8 568.0,581.6 569.0,581.4 570.0,581.2 571.0,581.0 572.0,580.8 573.0,580.7 574.0,580.5 575.0,580.4 576.0,580.2 577.0,580.1 578.0,580.0 579.0,579.9 580.0,579.9 581.0,579.8 582.0,579.8 583.0,579.8 584.0,579.8 585.0,579.9 586.0,579.9 587.0,580.0 588.0,580.1 589.0,580.2 590.0,580.3 591.0,580.4 592.0,580.6 593.0,580.7 594.0,580.9 595.0,581.0 596.0,581.2 597.0,581.4 598.0,581.5 599.0,581.7 600.0,581.9 601.0,582.0 602.0,582.2 603.0,582.3 604.0,582.5 605.0,582.6 606.0,582.7 607.0,582.8 608.0,583.0 609.0,583.0 610.0,583.1 611.0,583.2 612.0,583.3 613.0,583.4 614.0,583.4 615.0,583.5 616.0,583.5 617.0,583.5 618.0,583.6 619.0,583.6 620.0,583.6 621.0,583.6 622.0,583.6 623.0,583.6 624.0,583.6 625.0,583.6 626.0,583.6 627.0,583.6 628.0,583.6 629.0,583.6 630.0,583.6 631.0,583.6 632.0,583.6 633.0,583.6 634.0,583.6 635.0,583.6 636.0,583.6 637.0,583.5 638.0,583.5 639.0,583.5 640.0,583.5 641.0,583.5 642.0,583.5 643.0,583.5 644.0,583.5 645.0,583.4 646.0,583.4 647.0,583.4 648.0,583.4 649.0,583.4 650.0,583.4 651.0,583.4 652.0,583.3 653.0,583.3 654.0,583.3 655.0,583.3 656.0,583.3 657.0,583.3 658.0,583.3 659.0,583.3 660.0,583.2 661.0,583.2 662.0,583.2 663.0,583.2 664.0,583.2 665.0,583.2 666.0,583.2 667.0,583.1 668.0,583.1 669.0,583.1 670.0,583.1 671.0,583.1 672.0,583.1 673.0,583.1 674.0,583.0 675.0,583.0 676.0,583.0 677.0,583.0" stroke="#cc1f2b" stroke-width="1.5" fill="none" stroke-dasharray="1.4,2.4"/>
<path d="M481.0,585.7 482.0,585.7 483.0,585.7 484.0,585.7 485.0,585.6 486.0,585.6 487.0,585.6 488.0,585.6 489.0,585.6 490.0,585.6 491.0,585.6 492.0,585.5 493.0,585.5 494.0,585.5 495.0,585.5 496.0,585.5 497.0,585.5 498.0,585.5 499.0,585.5 500.0,585.4 501.0,585.4 502.0,585.4 503.0,585.4 504.0,585.4 505.0,585.4 506.0,585.4 507.0,585.3 508.0,585.3 509.0,585.3 510.0,585.3 511.0,585.3 512.0,585.3 513.0,585.3 514.0,585.2 515.0,585.2 516.0,585.2 517.0,585.2 518.0,585.2 519.0,585.2 520.0,585.2 521.0,585.1 522.0,585.1 523.0,585.1 524.0,585.1 525.0,585.1 526.0,585.1 527.0,585.1 528.0,585.1 529.0,585.0 530.0,585.0 531.0,585.0 532.0,585.0 533.0,585.0 534.0,585.0 535.0,585.0 536.0,584.9 537.0,584.9 538.0,584.9 539.0,584.9 540.0,584.9 541.0,584.9 542.0,584.8 543.0,584.8 544.0,584.8 545.0,584.8 546.0,584.8 547.0,584.8 548.0,584.7 549.0,584.7 550.0,584.7 551.0,584.7 552.0,584.6 553.0,584.6 554.0,584.6 555.0,584.5 556.0,584.5 557.0,584.4 558.0,584.4 559.0,584.3 560.0,584.3 561.0,584.2 562.0,584.1 563.0,584.0 564.0,583.9 565.0,583.8 566.0,583.7 567.0,583.6 568.0,583.4 569.0,583.2 570.0,583.1 571.0,582.9 572.0,582.7 573.0,582.4 574.0,582.2 575.0,581.9 576.0,581.6 577.0,581.3 578.0,581.0 579.0,580.6 580.0,580.3 581.0,579.9 582.0,579.5 583.0,579.0 584.0,578.6 585.0,578.1 586.0,577.7 587.0,577.2 588.0,576.7 589.0,576.2 590.0,575.7 591.0,575.2 592.0,574.7 593.0,574.2 594.0,573.7 595.0,573.3 596.0,572.8 597.0,572.4 598.0,572.0 599.0,571.6 600.0,571.3 601.0,571.0 602.0,570.7 603.0,570.5 604.0,570.3 605.0,570.1 606.0,570.0 607.0,570.0 608.0,570.0 609.0,570.0 610.0,570.1 611.0,570.2 612.0,570.4 613.0,570.6 614.0,570.8 615.0,571.1 616.0,571.4 617.0,571.7 618.0,572.1 619.0,572.5 620.0,572.9 621.0,573.4 622.0,573.8 623.0,574.3 624.0,574.8 625.0,575.2 626.0,575.7 627.0,576.2 628.0,576.6 629.0,577.1 630.0,577.5 631.0,578.0 632.0,578.4 633.0,578.8 634.0,579.1 635.0,579.5 636.0,579.8 637.0,580.2 638.0,580.5 639.0,580.8 640.0,581.0 641.0,581.3 642.0,581.5 643.0,581.7 644.0,581.9 645.0,582.0 646.0,582.2 647.0,582.3 648.0,582.4 649.0,582.5 650.0,582.6 651.0,582.7 652.0,582.8 653.0,582.9 654.0,582.9 655.0,583.0 656.0,583.0 657.0,583.0 658.0,583.0 659.0,583.1 660.0,583.1 661.0,583.1 662.0,583.1 663.0,583.1 664.0,583.1 665.0,583.1 666.0,583.1 667.0,583.1 668.0,583.1 669.0,583.1 670.0,583.1 671.0,583.1 672.0,583.1 673.0,583.0 674.0,583.0 675.0,583.0 676.0,583.0 677.0,583.0" stroke="#f0913a" stroke-width="1.5" fill="none" stroke-dasharray="1.4,2.4"/>
<path d="M481.0,585.7 482.0,585.7 483.0,585.7 484.0,585.7 485.0,585.6 486.0,585.6 487.0,585.6 488.0,585.6 489.0,585.6 490.0,585.6 491.0,585.6 492.0,585.5 493.0,585.5 494.0,585.5 495.0,585.5 496.0,585.5 497.0,585.5 498.0,585.5 499.0,585.5 500.0,585.4 501.0,585.4 502.0,585.4 503.0,585.4 504.0,585.4 505.0,585.4 506.0,585.4 507.0,585.3 508.0,585.3 509.0,585.3 510.0,585.3 511.0,585.3 512.0,585.3 513.0,585.3 514.0,585.2 515.0,585.2 516.0,585.2 517.0,585.2 518.0,585.2 519.0,585.2 520.0,585.2 521.0,585.1 522.0,585.1 523.0,585.1 524.0,585.1 525.0,585.1 526.0,585.1 527.0,585.1 528.0,585.1 529.0,585.0 530.0,585.0 531.0,585.0 532.0,585.0 533.0,585.0 534.0,585.0 535.0,585.0 536.0,584.9 537.0,584.9 538.0,584.9 539.0,584.9 540.0,584.9 541.0,584.9 542.0,584.9 543.0,584.8 544.0,584.8 545.0,584.8 546.0,584.8 547.0,584.8 548.0,584.8 549.0,584.8 550.0,584.8 551.0,584.7 552.0,584.7 553.0,584.7 554.0,584.7 555.0,584.7 556.0,584.7 557.0,584.7 558.0,584.6 559.0,584.6 560.0,584.6 561.0,584.6 562.0,584.6 563.0,584.6 564.0,584.6 565.0,584.5 566.0,584.5 567.0,584.5 568.0,584.5 569.0,584.5 570.0,584.5 571.0,584.5 572.0,584.4 573.0,584.4 574.0,584.4 575.0,584.4 576.0,584.4 577.0,584.4 578.0,584.4 579.0,584.4 580.0,584.3 581.0,584.3 582.0,584.3 583.0,584.3 584.0,584.3 585.0,584.3 586.0,584.3 587.0,584.2 588.0,584.2 589.0,584.2 590.0,584.2 591.0,584.2 592.0,584.2 593.0,584.2 594.0,584.1 595.0,584.1 596.0,584.1 597.0,584.1 598.0,584.1 599.0,584.1 600.0,584.1 601.0,584.0 602.0,584.0 603.0,584.0 604.0,584.0 605.0,584.0 606.0,584.0 607.0,584.0 608.0,584.0 609.0,583.9 610.0,583.9 611.0,583.9 612.0,583.9 613.0,583.9 614.0,583.8 615.0,583.8 616.0,583.7 617.0,583.7 618.0,583.6 619.0,583.4 620.0,583.2 621.0,583.0 622.0,582.7 623.0,582.3 624.0,581.7 625.0,581.0 626.0,580.2 627.0,579.2 628.0,578.0 629.0,576.6 630.0,575.1 631.0,573.3 632.0,571.5 633.0,569.5 634.0,567.6 635.0,565.6 636.0,563.8 637.0,562.2 638.0,560.9 639.0,559.9 640.0,559.2 641.0,559.0 642.0,559.2 643.0,559.8 644.0,560.8 645.0,562.1 646.0,563.7 647.0,565.5 648.0,567.4 649.0,569.3 650.0,571.2 651.0,573.1 652.0,574.8 653.0,576.3 654.0,577.6 655.0,578.8 656.0,579.8 657.0,580.6 658.0,581.3 659.0,581.8 660.0,582.2 661.0,582.5 662.0,582.7 663.0,582.8 664.0,582.9 665.0,583.0 666.0,583.0 667.0,583.1 668.0,583.1 669.0,583.1 670.0,583.1 671.0,583.1 672.0,583.1 673.0,583.1 674.0,583.0 675.0,583.0 676.0,583.0 677.0,583.0" stroke="#4a7bd4" stroke-width="1.5" fill="none" stroke-dasharray="1.2,2.3"/>
<path d="M481.0,585.9 482.0,585.5 483.0,585.1 484.0,584.8 485.0,585.4 486.0,585.8 487.0,585.9 488.0,585.8 489.0,585.7 490.0,585.2 491.0,585.1 492.0,584.3 493.0,584.2 494.0,583.8 495.0,584.3 496.0,583.8 497.0,583.8 498.0,583.9 499.0,584.4 500.0,583.7 501.0,583.1 502.0,583.6 503.0,582.9 504.0,583.2 505.0,582.9 506.0,582.8 507.0,582.0 508.0,582.6 509.0,582.4 510.0,582.0 511.0,583.1 512.0,583.0 513.0,584.2 514.0,583.4 515.0,582.6 516.0,582.2 517.0,582.7 518.0,582.2 519.0,582.0 520.0,581.9 521.0,581.2 522.0,581.2 523.0,580.9 524.0,580.3 525.0,580.9 526.0,581.0 527.0,580.8 528.0,580.2 529.0,579.3 530.0,579.8 531.0,579.8 532.0,579.0 533.0,579.3 534.0,578.7 535.0,579.0 536.0,579.2 537.0,579.3 538.0,579.3 539.0,579.2 540.0,578.5 541.0,578.4 542.0,578.3 543.0,578.3 544.0,578.4 545.0,578.7 546.0,579.2 547.0,577.5 548.0,577.9 549.0,577.8 550.0,578.8 551.0,578.7 552.0,577.5 553.0,577.7 554.0,577.3 555.0,577.7 556.0,577.0 557.0,577.0 558.0,576.9 559.0,576.9 560.0,576.6 561.0,575.8 562.0,576.4 563.0,576.9 564.0,576.7 565.0,576.1 566.0,576.2 567.0,576.4 568.0,576.0 569.0,575.8 570.0,576.2 571.0,575.2 572.0,574.7 573.0,573.8 574.0,573.8 575.0,573.8 576.0,573.6 577.0,573.5 578.0,574.6 579.0,574.1 580.0,573.7 581.0,574.4 582.0,573.7 583.0,572.4 584.0,572.5 585.0,571.8 586.0,572.5 587.0,571.5 588.0,571.1 589.0,570.4 590.0,570.7 591.0,570.3 592.0,570.4 593.0,570.3 594.0,570.0 595.0,570.5 596.0,570.7 597.0,570.4 598.0,569.7 599.0,569.2 600.0,569.4 601.0,570.4 602.0,569.7 603.0,569.2 604.0,568.9 605.0,568.6 606.0,568.6 607.0,568.9 608.0,569.9 609.0,569.8 610.0,569.6 611.0,569.0 612.0,569.5 613.0,569.7 614.0,569.3 615.0,569.2 616.0,569.7 617.0,570.4 618.0,570.7 619.0,570.7 620.0,570.5 621.0,570.5 622.0,570.3 623.0,570.9 624.0,569.6 625.0,568.9 626.0,568.9 627.0,567.9 628.0,567.7 629.0,566.4 630.0,565.3 631.0,563.9 632.0,562.2 633.0,561.0 634.0,561.4 635.0,560.5 636.0,559.6 637.0,558.9 638.0,558.0 639.0,557.4 640.0,556.5 641.0,556.1 642.0,556.7 643.0,556.9 644.0,557.1 645.0,558.1 646.0,559.0 647.0,560.7 648.0,561.7 649.0,562.9 650.0,564.7 651.0,567.2 652.0,568.6 653.0,570.2 654.0,571.7 655.0,573.3 656.0,575.1 657.0,576.8 658.0,576.8 659.0,578.5 660.0,579.0 661.0,579.4 662.0,581.1 663.0,581.2 664.0,582.4 665.0,582.8 666.0,582.1 667.0,582.5 668.0,582.8 669.0,582.5 670.0,581.4 671.0,581.6 672.0,581.8 673.0,581.6 674.0,582.7 675.0,582.4 676.0,582.2 677.0,582.1" stroke="#111" stroke-width="1.1" fill="none" stroke-linejoin="round"/>
<path d="M481.0,585.6 482.0,585.5 483.0,585.5 484.0,585.4 485.0,585.3 486.0,585.1 487.0,585.0 488.0,584.9 489.0,584.8 490.0,584.7 491.0,584.6 492.0,584.5 493.0,584.4 494.0,584.3 495.0,584.2 496.0,584.1 497.0,584.0 498.0,583.9 499.0,583.7 500.0,583.6 501.0,583.5 502.0,583.4 503.0,583.3 504.0,583.2 505.0,583.1 506.0,583.0 507.0,582.9 508.0,582.8 509.0,582.7 510.0,582.6 511.0,582.5 512.0,582.4 513.0,582.3 514.0,582.1 515.0,582.0 516.0,581.9 517.0,581.8 518.0,581.7 519.0,581.6 520.0,581.4 521.0,581.3 522.0,581.2 523.0,581.1 524.0,581.0 525.0,580.8 526.0,580.7 527.0,580.6 528.0,580.5 529.0,580.3 530.0,580.2 531.0,580.1 532.0,579.9 533.0,579.8 534.0,579.7 535.0,579.5 536.0,579.4 537.0,579.3 538.0,579.2 539.0,579.0 540.0,578.9 541.0,578.8 542.0,578.7 543.0,578.6 544.0,578.5 545.0,578.4 546.0,578.3 547.0,578.2 548.0,578.1 549.0,578.0 550.0,577.9 551.0,577.8 552.0,577.7 553.0,577.6 554.0,577.5 555.0,577.4 556.0,577.3 557.0,577.2 558.0,577.1 559.0,577.0 560.0,576.9 561.0,576.8 562.0,576.7 563.0,576.6 564.0,576.5 565.0,576.4 566.0,576.3 567.0,576.2 568.0,576.0 569.0,575.8 570.0,575.6 571.0,575.3 572.0,575.1 573.0,574.9 574.0,574.7 575.0,574.6 576.0,574.5 577.0,574.3 578.0,574.2 579.0,574.0 580.0,573.7 581.0,573.4 582.0,573.2 583.0,572.9 584.0,572.6 585.0,572.3 586.0,572.0 587.0,571.8 588.0,571.5 589.0,571.3 590.0,571.1 591.0,571.0 592.0,570.8 593.0,570.7 594.0,570.5 595.0,570.4 596.0,570.2 597.0,570.1 598.0,569.9 599.0,569.8 600.0,569.6 601.0,569.5 602.0,569.4 603.0,569.3 604.0,569.3 605.0,569.4 606.0,569.4 607.0,569.5 608.0,569.6 609.0,569.6 610.0,569.7 611.0,569.8 612.0,569.8 613.0,569.9 614.0,570.0 615.0,570.1 616.0,570.1 617.0,570.2 618.0,570.3 619.0,570.4 620.0,570.4 621.0,570.4 622.0,570.2 623.0,569.9 624.0,569.5 625.0,569.0 626.0,568.5 627.0,567.8 628.0,567.0 629.0,566.1 630.0,565.0 631.0,563.9 632.0,562.8 633.0,561.8 634.0,560.8 635.0,559.9 636.0,559.0 637.0,558.2 638.0,557.3 639.0,556.6 640.0,556.1 641.0,556.0 642.0,556.2 643.0,556.8 644.0,557.6 645.0,558.5 646.0,559.5 647.0,560.7 648.0,562.1 649.0,563.6 650.0,565.2 651.0,566.8 652.0,568.4 653.0,570.0 654.0,571.5 655.0,573.1 656.0,574.6 657.0,575.9 658.0,577.0 659.0,578.0 660.0,578.7 661.0,579.4 662.0,580.0 663.0,580.6 664.0,581.2 665.0,581.7 666.0,582.0 667.0,582.2 668.0,582.3 669.0,582.3 670.0,582.3 671.0,582.3 672.0,582.3 673.0,582.3 674.0,582.3 675.0,582.3 676.0,582.3 677.0,582.3" stroke="#76c043" stroke-width="1.4" fill="none" stroke-dasharray="1.2,3.8"/>
<path d="M481.0,629.9 482.0,629.9 483.0,629.9 484.0,629.9 485.0,629.9 486.0,629.8 487.0,629.8 488.0,629.8 489.0,629.8 490.0,629.8 491.0,629.8 492.0,629.8 493.0,629.8 494.0,629.8 495.0,629.8 496.0,629.7 497.0,629.7 498.0,629.7 499.0,629.7 500.0,629.7 501.0,629.7 502.0,629.7 503.0,629.7 504.0,629.7 505.0,629.6 506.0,629.6 507.0,629.6 508.0,629.6 509.0,629.6 510.0,629.6 511.0,629.6 512.0,629.6 513.0,629.6 514.0,629.5 515.0,629.5 516.0,629.5 517.0,629.5 518.0,629.5 519.0,629.5 520.0,629.5 521.0,629.5 522.0,629.5 523.0,629.5 524.0,629.4 525.0,629.4 526.0,629.4 527.0,629.4 528.0,629.4 529.0,629.4 530.0,629.4 531.0,629.4 532.0,629.4 533.0,629.3 534.0,629.3 535.0,629.3 536.0,629.3 537.0,629.3 538.0,629.3 539.0,629.3 540.0,629.3 541.0,629.3 542.0,629.2 543.0,629.2 544.0,629.2 545.0,629.2 546.0,629.2 547.0,629.2 548.0,629.2 549.0,629.2 550.0,629.2 551.0,629.2 552.0,629.1 553.0,629.1 554.0,629.1 555.0,629.1 556.0,629.1 557.0,629.1 558.0,629.1 559.0,629.1 560.0,629.1 561.0,629.0 562.0,629.0 563.0,629.0 564.0,629.0 565.0,629.0 566.0,629.0 567.0,629.0 568.0,629.0 569.0,629.0 570.0,628.9 571.0,628.9 572.0,628.9 573.0,628.9 574.0,628.9 575.0,628.9 576.0,628.9 577.0,628.9 578.0,628.9 579.0,628.9 580.0,628.8 581.0,628.8 582.0,628.8 583.0,628.8 584.0,628.8 585.0,628.8 586.0,628.8 587.0,628.8 588.0,628.8 589.0,628.7 590.0,628.7 591.0,628.7 592.0,628.7 593.0,628.7 594.0,628.7 595.0,628.7 596.0,628.7 597.0,628.7 598.0,628.6 599.0,628.6 600.0,628.6 601.0,628.6 602.0,628.6 603.0,628.6 604.0,628.6 605.0,628.6 606.0,628.6 607.0,628.6 608.0,628.5 609.0,628.5 610.0,628.5 611.0,628.5 612.0,628.5 613.0,628.5 614.0,628.5 615.0,628.5 616.0,628.5 617.0,628.4 618.0,628.4 619.0,628.4 620.0,628.4 621.0,628.4 622.0,628.4 623.0,628.4 624.0,628.4 625.0,628.4 626.0,628.3 627.0,628.3 628.0,628.3 629.0,628.3 630.0,628.3 631.0,628.3 632.0,628.3 633.0,628.3 634.0,628.3 635.0,628.3 636.0,628.2 637.0,628.2 638.0,628.2 639.0,628.2 640.0,628.2 641.0,628.2 642.0,628.2 643.0,628.2 644.0,628.2 645.0,628.1 646.0,628.1 647.0,628.1 648.0,628.1 649.0,628.1 650.0,628.1 651.0,628.1 652.0,628.1 653.0,628.1 654.0,628.0 655.0,628.0 656.0,628.0 657.0,628.0 658.0,628.0 659.0,628.0 660.0,628.0 661.0,628.0 662.0,628.0 663.0,628.0 664.0,627.9 665.0,627.9 666.0,627.9 667.0,627.9 668.0,627.9 669.0,627.9 670.0,627.9 671.0,627.9 672.0,627.9 673.0,627.8 674.0,627.8 675.0,627.8 676.0,627.8 677.0,627.8" stroke="#9a9a9a" stroke-width="1.3" fill="none" stroke-dasharray="2.2,1.6"/>
<path d="M481.0,629.9 482.0,629.9 483.0,629.9 484.0,629.9 485.0,629.9 486.0,629.8 487.0,629.8 488.0,629.8 489.0,629.8 490.0,629.8 491.0,629.8 492.0,629.8 493.0,629.8 494.0,629.8 495.0,629.8 496.0,629.7 497.0,629.7 498.0,629.7 499.0,629.7 500.0,629.7 501.0,629.7 502.0,629.7 503.0,629.7 504.0,629.7 505.0,629.6 506.0,629.6 507.0,629.6 508.0,629.6 509.0,629.6 510.0,629.6 511.0,629.6 512.0,629.6 513.0,629.6 514.0,629.5 515.0,629.5 516.0,629.5 517.0,629.5 518.0,629.5 519.0,629.5 520.0,629.5 521.0,629.5 522.0,629.5 523.0,629.5 524.0,629.4 525.0,629.4 526.0,629.4 527.0,629.4 528.0,629.4 529.0,629.4 530.0,629.4 531.0,629.4 532.0,629.4 533.0,629.3 534.0,629.3 535.0,629.3 536.0,629.3 537.0,629.3 538.0,629.3 539.0,629.3 540.0,629.3 541.0,629.3 542.0,629.2 543.0,629.2 544.0,629.2 545.0,629.2 546.0,629.2 547.0,629.2 548.0,629.2 549.0,629.2 550.0,629.2 551.0,629.2 552.0,629.1 553.0,629.1 554.0,629.1 555.0,629.1 556.0,629.1 557.0,629.1 558.0,629.1 559.0,629.1 560.0,629.1 561.0,629.0 562.0,629.0 563.0,629.0 564.0,629.0 565.0,629.0 566.0,629.0 567.0,629.0 568.0,629.0 569.0,629.0 570.0,628.9 571.0,628.9 572.0,628.9 573.0,628.9 574.0,628.9 575.0,628.9 576.0,628.9 577.0,628.9 578.0,628.9 579.0,628.9 580.0,628.8 581.0,628.8 582.0,628.8 583.0,628.8 584.0,628.8 585.0,628.8 586.0,628.8 587.0,628.8 588.0,628.8 589.0,628.7 590.0,628.7 591.0,628.7 592.0,628.7 593.0,628.7 594.0,628.7 595.0,628.7 596.0,628.7 597.0,628.7 598.0,628.6 599.0,628.6 600.0,628.6 601.0,628.6 602.0,628.6 603.0,628.6 604.0,628.6 605.0,628.6 606.0,628.6 607.0,628.6 608.0,628.5 609.0,628.5 610.0,628.5 611.0,628.5 612.0,628.5 613.0,628.5 614.0,628.5 615.0,628.5 616.0,628.5 617.0,628.4 618.0,628.4 619.0,628.4 620.0,628.4 621.0,628.4 622.0,628.4 623.0,628.4 624.0,628.4 625.0,628.4 626.0,628.3 627.0,628.3 628.0,628.3 629.0,628.3 630.0,628.3 631.0,628.3 632.0,628.3 633.0,628.3 634.0,628.3 635.0,628.3 636.0,628.2 637.0,628.2 638.0,628.2 639.0,628.2 640.0,628.2 641.0,628.2 642.0,628.2 643.0,628.2 644.0,628.2 645.0,628.1 646.0,628.1 647.0,628.1 648.0,628.1 649.0,628.1 650.0,628.1 651.0,628.1 652.0,628.1 653.0,628.1 654.0,628.0 655.0,628.0 656.0,628.0 657.0,628.0 658.0,628.0 659.0,628.0 660.0,628.0 661.0,628.0 662.0,628.0 663.0,628.0 664.0,627.9 665.0,627.9 666.0,627.9 667.0,627.9 668.0,627.9 669.0,627.9 670.0,627.9 671.0,627.9 672.0,627.9 673.0,627.8 674.0,627.8 675.0,627.8 676.0,627.8 677.0,627.8" stroke="#f0913a" stroke-width="1.4" fill="none" stroke-dasharray="1.2,4.8"/>
<path d="M481.0,629.9 482.0,629.9 483.0,629.9 484.0,629.9 485.0,629.9 486.0,629.8 487.0,629.8 488.0,629.8 489.0,629.8 490.0,629.8 491.0,629.8 492.0,629.8 493.0,629.8 494.0,629.8 495.0,629.8 496.0,629.7 497.0,629.7 498.0,629.7 499.0,629.7 500.0,629.7 501.0,629.7 502.0,629.7 503.0,629.7 504.0,629.7 505.0,629.6 506.0,629.6 507.0,629.6 508.0,629.6 509.0,629.6 510.0,629.6 511.0,629.6 512.0,629.6 513.0,629.6 514.0,629.5 515.0,629.5 516.0,629.5 517.0,629.5 518.0,629.5 519.0,629.5 520.0,629.5 521.0,629.5 522.0,629.5 523.0,629.4 524.0,629.4 525.0,629.4 526.0,629.4 527.0,629.4 528.0,629.4 529.0,629.4 530.0,629.4 531.0,629.4 532.0,629.3 533.0,629.3 534.0,629.3 535.0,629.3 536.0,629.3 537.0,629.3 538.0,629.2 539.0,629.2 540.0,629.2 541.0,629.2 542.0,629.1 543.0,629.1 544.0,629.0 545.0,629.0 546.0,629.0 547.0,628.9 548.0,628.8 549.0,628.8 550.0,628.7 551.0,628.6 552.0,628.5 553.0,628.4 554.0,628.3 555.0,628.2 556.0,628.1 557.0,628.0 558.0,627.8 559.0,627.7 560.0,627.5 561.0,627.4 562.0,627.2 563.0,627.0 564.0,626.8 565.0,626.6 566.0,626.4 567.0,626.3 568.0,626.1 569.0,625.9 570.0,625.7 571.0,625.5 572.0,625.3 573.0,625.2 574.0,625.0 575.0,624.9 576.0,624.7 577.0,624.6 578.0,624.5 579.0,624.4 580.0,624.4 581.0,624.3 582.0,624.3 583.0,624.3 584.0,624.3 585.0,624.4 586.0,624.4 587.0,624.5 588.0,624.6 589.0,624.7 590.0,624.8 591.0,625.0 592.0,625.1 593.0,625.3 594.0,625.4 595.0,625.6 596.0,625.8 597.0,625.9 598.0,626.1 599.0,626.3 600.0,626.4 601.0,626.6 602.0,626.8 603.0,626.9 604.0,627.0 605.0,627.2 606.0,627.3 607.0,627.4 608.0,627.5 609.0,627.6 610.0,627.7 611.0,627.8 612.0,627.9 613.0,628.0 614.0,628.0 615.0,628.1 616.0,628.1 617.0,628.1 618.0,628.2 619.0,628.2 620.0,628.2 621.0,628.2 622.0,628.3 623.0,628.3 624.0,628.3 625.0,628.3 626.0,628.3 627.0,628.3 628.0,628.3 629.0,628.3 630.0,628.3 631.0,628.3 632.0,628.3 633.0,628.3 634.0,628.3 635.0,628.2 636.0,628.2 637.0,628.2 638.0,628.2 639.0,628.2 640.0,628.2 641.0,628.2 642.0,628.2 643.0,628.2 644.0,628.2 645.0,628.1 646.0,628.1 647.0,628.1 648.0,628.1 649.0,628.1 650.0,628.1 651.0,628.1 652.0,628.1 653.0,628.1 654.0,628.0 655.0,628.0 656.0,628.0 657.0,628.0 658.0,628.0 659.0,628.0 660.0,628.0 661.0,628.0 662.0,628.0 663.0,628.0 664.0,627.9 665.0,627.9 666.0,627.9 667.0,627.9 668.0,627.9 669.0,627.9 670.0,627.9 671.0,627.9 672.0,627.9 673.0,627.8 674.0,627.8 675.0,627.8 676.0,627.8 677.0,627.8" stroke="#cc1f2b" stroke-width="1.5" fill="none" stroke-dasharray="1.4,2.4"/>
<path d="M481.0,629.9 482.0,629.9 483.0,629.9 484.0,629.9 485.0,629.9 486.0,629.8 487.0,629.8 488.0,629.8 489.0,629.8 490.0,629.8 491.0,629.8 492.0,629.8 493.0,629.8 494.0,629.8 495.0,629.8 496.0,629.7 497.0,629.7 498.0,629.7 499.0,629.7 500.0,629.7 501.0,629.7 502.0,629.7 503.0,629.7 504.0,629.7 505.0,629.6 506.0,629.6 507.0,629.6 508.0,629.6 509.0,629.6 510.0,629.6 511.0,629.6 512.0,629.6 513.0,629.6 514.0,629.5 515.0,629.5 516.0,629.5 517.0,629.5 518.0,629.5 519.0,629.5 520.0,629.5 521.0,629.5 522.0,629.5 523.0,629.5 524.0,629.4 525.0,629.4 526.0,629.4 527.0,629.4 528.0,629.4 529.0,629.4 530.0,629.4 531.0,629.4 532.0,629.4 533.0,629.3 534.0,629.3 535.0,629.3 536.0,629.3 537.0,629.3 538.0,629.3 539.0,629.3 540.0,629.3 541.0,629.2 542.0,629.2 543.0,629.2 544.0,629.2 545.0,629.2 546.0,629.2 547.0,629.2 548.0,629.1 549.0,629.1 550.0,629.1 551.0,629.1 552.0,629.1 553.0,629.0 554.0,629.0 555.0,629.0 556.0,628.9 557.0,628.9 558.0,628.8 559.0,628.8 560.0,628.7 561.0,628.6 562.0,628.6 563.0,628.5 564.0,628.4 565.0,628.3 566.0,628.2 567.0,628.1 568.0,627.9 569.0,627.8 570.0,627.6 571.0,627.4 572.0,627.2 573.0,627.0 574.0,626.7 575.0,626.5 576.0,626.2 577.0,625.9 578.0,625.6 579.0,625.3 580.0,624.9 581.0,624.5 582.0,624.1 583.0,623.7 584.0,623.3 585.0,622.9 586.0,622.4 587.0,622.0 588.0,621.5 589.0,621.0 590.0,620.5 591.0,620.1 592.0,619.6 593.0,619.1 594.0,618.7 595.0,618.2 596.0,617.8 597.0,617.4 598.0,617.0 599.0,616.6 600.0,616.3 601.0,616.0 602.0,615.8 603.0,615.5 604.0,615.4 605.0,615.2 606.0,615.1 607.0,615.1 608.0,615.0 609.0,615.1 610.0,615.2 611.0,615.3 612.0,615.4 613.0,615.6 614.0,615.9 615.0,616.2 616.0,616.5 617.0,616.8 618.0,617.2 619.0,617.5 620.0,618.0 621.0,618.4 622.0,618.8 623.0,619.3 624.0,619.7 625.0,620.2 626.0,620.6 627.0,621.1 628.0,621.5 629.0,622.0 630.0,622.4 631.0,622.8 632.0,623.2 633.0,623.6 634.0,624.0 635.0,624.3 636.0,624.7 637.0,625.0 638.0,625.3 639.0,625.5 640.0,625.8 641.0,626.0 642.0,626.2 643.0,626.4 644.0,626.6 645.0,626.8 646.0,626.9 647.0,627.1 648.0,627.2 649.0,627.3 650.0,627.4 651.0,627.5 652.0,627.5 653.0,627.6 654.0,627.7 655.0,627.7 656.0,627.7 657.0,627.8 658.0,627.8 659.0,627.8 660.0,627.8 661.0,627.8 662.0,627.9 663.0,627.9 664.0,627.9 665.0,627.9 666.0,627.9 667.0,627.9 668.0,627.9 669.0,627.9 670.0,627.9 671.0,627.8 672.0,627.8 673.0,627.8 674.0,627.8 675.0,627.8 676.0,627.8 677.0,627.8" stroke="#f0913a" stroke-width="1.5" fill="none" stroke-dasharray="1.4,2.4"/>
<path d="M481.0,629.9 482.0,629.9 483.0,629.9 484.0,629.9 485.0,629.9 486.0,629.8 487.0,629.8 488.0,629.8 489.0,629.8 490.0,629.8 491.0,629.8 492.0,629.8 493.0,629.8 494.0,629.8 495.0,629.8 496.0,629.7 497.0,629.7 498.0,629.7 499.0,629.7 500.0,629.7 501.0,629.7 502.0,629.7 503.0,629.7 504.0,629.7 505.0,629.6 506.0,629.6 507.0,629.6 508.0,629.6 509.0,629.6 510.0,629.6 511.0,629.6 512.0,629.6 513.0,629.6 514.0,629.5 515.0,629.5 516.0,629.5 517.0,629.5 518.0,629.5 519.0,629.5 520.0,629.5 521.0,629.5 522.0,629.5 523.0,629.5 524.0,629.4 525.0,629.4 526.0,629.4 527.0,629.4 528.0,629.4 529.0,629.4 530.0,629.4 531.0,629.4 532.0,629.4 533.0,629.3 534.0,629.3 535.0,629.3 536.0,629.3 537.0,629.3 538.0,629.3 539.0,629.3 540.0,629.3 541.0,629.3 542.0,629.2 543.0,629.2 544.0,629.2 545.0,629.2 546.0,629.2 547.0,629.2 548.0,629.2 549.0,629.2 550.0,629.2 551.0,629.2 552.0,629.1 553.0,629.1 554.0,629.1 555.0,629.1 556.0,629.1 557.0,629.1 558.0,629.1 559.0,629.1 560.0,629.1 561.0,629.0 562.0,629.0 563.0,629.0 564.0,629.0 565.0,629.0 566.0,629.0 567.0,629.0 568.0,629.0 569.0,629.0 570.0,628.9 571.0,628.9 572.0,628.9 573.0,628.9 574.0,628.9 575.0,628.9 576.0,628.9 577.0,628.9 578.0,628.9 579.0,628.9 580.0,628.8 581.0,628.8 582.0,628.8 583.0,628.8 584.0,628.8 585.0,628.8 586.0,628.8 587.0,628.8 588.0,628.8 589.0,628.7 590.0,628.7 591.0,628.7 592.0,628.7 593.0,628.7 594.0,628.7 595.0,628.7 596.0,628.7 597.0,628.7 598.0,628.6 599.0,628.6 600.0,628.6 601.0,628.6 602.0,628.6 603.0,628.6 604.0,628.6 605.0,628.6 606.0,628.6 607.0,628.6 608.0,628.5 609.0,628.5 610.0,628.5 611.0,628.5 612.0,628.5 613.0,628.5 614.0,628.4 615.0,628.4 616.0,628.4 617.0,628.3 618.0,628.2 619.0,628.1 620.0,628.0 621.0,627.8 622.0,627.5 623.0,627.1 624.0,626.7 625.0,626.1 626.0,625.4 627.0,624.6 628.0,623.6 629.0,622.4 630.0,621.1 631.0,619.6 632.0,618.1 633.0,616.4 634.0,614.8 635.0,613.2 636.0,611.6 637.0,610.3 638.0,609.2 639.0,608.3 640.0,607.8 641.0,607.6 642.0,607.8 643.0,608.3 644.0,609.1 645.0,610.2 646.0,611.5 647.0,613.0 648.0,614.6 649.0,616.3 650.0,617.9 651.0,619.4 652.0,620.8 653.0,622.1 654.0,623.3 655.0,624.3 656.0,625.1 657.0,625.8 658.0,626.3 659.0,626.7 660.0,627.1 661.0,627.3 662.0,627.5 663.0,627.6 664.0,627.7 665.0,627.8 666.0,627.8 667.0,627.8 668.0,627.9 669.0,627.9 670.0,627.9 671.0,627.9 672.0,627.9 673.0,627.8 674.0,627.8 675.0,627.8 676.0,627.8 677.0,627.8" stroke="#4a7bd4" stroke-width="1.5" fill="none" stroke-dasharray="1.2,2.3"/>
<path d="M481.0,630.2 482.0,630.0 483.0,630.2 484.0,630.4 485.0,630.0 486.0,630.0 487.0,629.3 488.0,629.8 489.0,629.4 490.0,629.6 491.0,629.1 492.0,629.0 493.0,629.2 494.0,628.6 495.0,629.9 496.0,629.4 497.0,629.0 498.0,628.5 499.0,629.1 500.0,629.3 501.0,628.9 502.0,627.8 503.0,627.6 504.0,627.9 505.0,627.4 506.0,626.8 507.0,626.4 508.0,626.4 509.0,626.7 510.0,626.6 511.0,626.8 512.0,628.3 513.0,628.7 514.0,627.6 515.0,627.7 516.0,627.7 517.0,627.6 518.0,628.0 519.0,627.5 520.0,627.1 521.0,626.6 522.0,626.3 523.0,626.5 524.0,626.3 525.0,625.2 526.0,624.9 527.0,624.6 528.0,625.2 529.0,625.1 530.0,625.4 531.0,625.0 532.0,624.0 533.0,624.4 534.0,624.5 535.0,624.7 536.0,623.9 537.0,624.0 538.0,623.7 539.0,623.5 540.0,623.8 541.0,623.9 542.0,623.4 543.0,622.7 544.0,621.9 545.0,622.3 546.0,623.2 547.0,623.1 548.0,622.0 549.0,622.0 550.0,622.6 551.0,623.4 552.0,623.5 553.0,623.3 554.0,623.0 555.0,622.3 556.0,622.1 557.0,622.1 558.0,621.8 559.0,622.0 560.0,621.9 561.0,622.2 562.0,622.8 563.0,622.8 564.0,622.6 565.0,622.2 566.0,621.4 567.0,621.5 568.0,621.7 569.0,621.1 570.0,621.6 571.0,621.1 572.0,620.9 573.0,620.5 574.0,619.7 575.0,620.6 576.0,619.5 577.0,619.8 578.0,619.1 579.0,619.1 580.0,618.5 581.0,618.2 582.0,618.6 583.0,619.3 584.0,618.3 585.0,618.1 586.0,618.3 587.0,617.7 588.0,617.9 589.0,617.2 590.0,617.4 591.0,617.4 592.0,617.7 593.0,617.3 594.0,616.3 595.0,616.5 596.0,615.7 597.0,615.9 598.0,616.3 599.0,616.0 600.0,615.2 601.0,615.4 602.0,615.0 603.0,614.0 604.0,613.9 605.0,614.6 606.0,614.2 607.0,614.2 608.0,614.1 609.0,613.4 610.0,613.6 611.0,614.1 612.0,614.3 613.0,614.3 614.0,613.5 615.0,614.5 616.0,614.9 617.0,615.2 618.0,615.5 619.0,614.8 620.0,614.2 621.0,614.2 622.0,614.6 623.0,613.2 624.0,613.0 625.0,612.5 626.0,612.6 627.0,612.9 628.0,612.1 629.0,610.9 630.0,610.6 631.0,609.9 632.0,608.8 633.0,609.0 634.0,608.2 635.0,608.1 636.0,606.8 637.0,607.0 638.0,605.8 639.0,606.3 640.0,605.4 641.0,606.5 642.0,606.6 643.0,606.4 644.0,607.2 645.0,608.4 646.0,609.1 647.0,610.4 648.0,612.2 649.0,613.7 650.0,613.9 651.0,615.7 652.0,617.7 653.0,619.4 654.0,621.1 655.0,621.8 656.0,624.0 657.0,624.7 658.0,625.0 659.0,625.6 660.0,625.9 661.0,625.8 662.0,625.5 663.0,626.2 664.0,626.5 665.0,625.7 666.0,625.8 667.0,626.7 668.0,627.2 669.0,627.8 670.0,628.3 671.0,628.5 672.0,629.3 673.0,628.7 674.0,628.4 675.0,628.5 676.0,628.8 677.0,628.9" stroke="#111" stroke-width="1.1" fill="none" stroke-linejoin="round"/>
<path d="M481.0,630.6 482.0,630.5 483.0,630.5 484.0,630.4 485.0,630.3 486.0,630.1 487.0,630.0 488.0,629.9 489.0,629.8 490.0,629.7 491.0,629.6 492.0,629.5 493.0,629.4 494.0,629.3 495.0,629.1 496.0,629.0 497.0,628.8 498.0,628.7 499.0,628.5 500.0,628.4 501.0,628.2 502.0,628.1 503.0,627.9 504.0,627.8 505.0,627.6 506.0,627.5 507.0,627.3 508.0,627.2 509.0,627.1 510.0,627.1 511.0,627.1 512.0,627.2 513.0,627.3 514.0,627.3 515.0,627.4 516.0,627.5 517.0,627.5 518.0,627.5 519.0,627.4 520.0,627.2 521.0,626.9 522.0,626.4 523.0,626.0 524.0,625.7 525.0,625.4 526.0,625.3 527.0,625.2 528.0,625.1 529.0,625.0 530.0,624.9 531.0,624.8 532.0,624.7 533.0,624.6 534.0,624.5 535.0,624.4 536.0,624.3 537.0,624.2 538.0,624.1 539.0,624.0 540.0,623.9 541.0,623.8 542.0,623.7 543.0,623.6 544.0,623.5 545.0,623.4 546.0,623.3 547.0,623.2 548.0,623.1 549.0,623.0 550.0,622.9 551.0,622.8 552.0,622.7 553.0,622.6 554.0,622.6 555.0,622.5 556.0,622.5 557.0,622.4 558.0,622.4 559.0,622.3 560.0,622.3 561.0,622.2 562.0,622.2 563.0,622.1 564.0,622.1 565.0,622.0 566.0,622.0 567.0,621.9 568.0,621.7 569.0,621.5 570.0,621.3 571.0,621.0 572.0,620.8 573.0,620.5 574.0,620.2 575.0,620.0 576.0,619.7 577.0,619.5 578.0,619.2 579.0,619.0 580.0,618.8 581.0,618.6 582.0,618.4 583.0,618.3 584.0,618.1 585.0,618.0 586.0,617.8 587.0,617.7 588.0,617.6 589.0,617.4 590.0,617.3 591.0,617.1 592.0,616.9 593.0,616.8 594.0,616.5 595.0,616.3 596.0,616.1 597.0,615.8 598.0,615.6 599.0,615.3 600.0,615.1 601.0,614.8 602.0,614.6 603.0,614.4 604.0,614.2 605.0,614.1 606.0,614.1 607.0,614.1 608.0,614.2 609.0,614.2 610.0,614.3 611.0,614.3 612.0,614.4 613.0,614.4 614.0,614.5 615.0,614.5 616.0,614.6 617.0,614.6 618.0,614.6 619.0,614.5 620.0,614.3 621.0,614.1 622.0,613.8 623.0,613.5 624.0,613.2 625.0,612.9 626.0,612.6 627.0,612.3 628.0,611.8 629.0,611.3 630.0,610.8 631.0,610.2 632.0,609.6 633.0,609.0 634.0,608.5 635.0,607.9 636.0,607.4 637.0,606.8 638.0,606.4 639.0,606.1 640.0,606.1 641.0,606.3 642.0,606.7 643.0,607.1 644.0,607.7 645.0,608.6 646.0,609.6 647.0,610.9 648.0,612.3 649.0,613.9 650.0,615.3 651.0,616.7 652.0,618.1 653.0,619.4 654.0,620.7 655.0,621.9 656.0,622.9 657.0,623.7 658.0,624.3 659.0,624.8 660.0,625.0 661.0,625.2 662.0,625.5 663.0,625.8 664.0,626.0 665.0,626.3 666.0,626.6 667.0,626.9 668.0,627.3 669.0,627.7 670.0,628.0 671.0,628.3 672.0,628.4 673.0,628.5 674.0,628.5 675.0,628.4 676.0,628.4 677.0,628.4" stroke="#76c043" stroke-width="1.4" fill="none" stroke-dasharray="1.2,3.8"/>
<text transform="translate(487.40,459.70) scale(1,1.0)" font-size="9.4" fill="#222" textLength="70.20" lengthAdjust="spacingAndGlyphs">Ni<tspan dy="2.82" font-size="6.58">1</tspan><tspan dy="-2.82">Pd</tspan><tspan dy="2.82" font-size="6.58">1</tspan><tspan dy="-2.82">/CeO</tspan><tspan dy="2.82" font-size="6.58">2</tspan><tspan dy="-2.82">_150</tspan></text>
<text transform="translate(487.40,517.30) scale(1,1.0)" font-size="9.4" fill="#222" textLength="70.20" lengthAdjust="spacingAndGlyphs">Ni<tspan dy="2.82" font-size="6.58">1</tspan><tspan dy="-2.82">Pd</tspan><tspan dy="2.82" font-size="6.58">1</tspan><tspan dy="-2.82">/CeO</tspan><tspan dy="2.82" font-size="6.58">2</tspan><tspan dy="-2.82">_200</tspan></text>
<text transform="translate(487.40,569.50) scale(1,1.0)" font-size="9.4" fill="#222" textLength="70.20" lengthAdjust="spacingAndGlyphs">Ni<tspan dy="2.82" font-size="6.58">1</tspan><tspan dy="-2.82">Pd</tspan><tspan dy="2.82" font-size="6.58">1</tspan><tspan dy="-2.82">/CeO</tspan><tspan dy="2.82" font-size="6.58">2</tspan><tspan dy="-2.82">_250</tspan></text>
<text transform="translate(487.40,613.70) scale(1,1.0)" font-size="9.4" fill="#222" textLength="70.20" lengthAdjust="spacingAndGlyphs">Ni<tspan dy="2.82" font-size="6.58">1</tspan><tspan dy="-2.82">Pd</tspan><tspan dy="2.82" font-size="6.58">1</tspan><tspan dy="-2.82">/CeO</tspan><tspan dy="2.82" font-size="6.58">2</tspan><tspan dy="-2.82">_300</tspan></text>
<text transform="translate(605.40,459.70) scale(1,1.0)" font-size="9.4" fill="#222" textLength="64.90" lengthAdjust="spacingAndGlyphs">Ni<tspan dy="-3.57" font-size="5.83">2+</tspan><tspan dy="3.57">/Ni</tspan><tspan dy="-3.57" font-size="5.83">0</tspan><tspan dy="3.57"> = 79/21</tspan></text>
<text transform="translate(603.30,515.80) scale(1,1.0)" font-size="9.4" fill="#222" textLength="65.80" lengthAdjust="spacingAndGlyphs">Ni<tspan dy="-3.57" font-size="5.83">2+</tspan><tspan dy="3.57">/Ni</tspan><tspan dy="-3.57" font-size="5.83">0</tspan><tspan dy="3.57"> = 66/34</tspan></text>
<text transform="translate(603.30,553.30) scale(1,1.0)" font-size="9.4" fill="#222" textLength="63.40" lengthAdjust="spacingAndGlyphs">Ni<tspan dy="-3.57" font-size="5.83">2+</tspan><tspan dy="3.57">/Ni</tspan><tspan dy="-3.57" font-size="5.83">0</tspan><tspan dy="3.57"> = 56/44</tspan></text>
<text transform="translate(603.30,600.50) scale(1,1.0)" font-size="9.4" fill="#222" textLength="63.40" lengthAdjust="spacingAndGlyphs">Ni<tspan dy="-3.57" font-size="5.83">2+</tspan><tspan dy="3.57">/Ni</tspan><tspan dy="-3.57" font-size="5.83">0</tspan><tspan dy="3.57"> = 49/51</tspan></text>
<text transform="translate(578.30,470.10) scale(1,1.0)" font-size="9.4" fill="#f0913a" textLength="35.90" lengthAdjust="spacingAndGlyphs">Ni<tspan dy="-3.57" font-size="6.58">2+</tspan><tspan dy="3.57"> 2</tspan><tspan font-style="italic">p</tspan><tspan dy="2.82" font-size="6.58">3/2</tspan></text>
<text transform="translate(624.90,470.10) scale(1,1.0)" font-size="9.4" fill="#4a7bd4" textLength="33.60" lengthAdjust="spacingAndGlyphs">Ni<tspan dy="-3.57" font-size="6.58">0</tspan><tspan dy="3.57"> 2</tspan><tspan font-style="italic">p</tspan><tspan dy="2.82" font-size="6.58">3/2</tspan></text>
<text transform="translate(525.20,478.00) scale(1,1.0)" font-size="9.4" fill="#cc1f2b" textLength="34.80" lengthAdjust="spacingAndGlyphs">Satellite</text>
</svg></body></html>
